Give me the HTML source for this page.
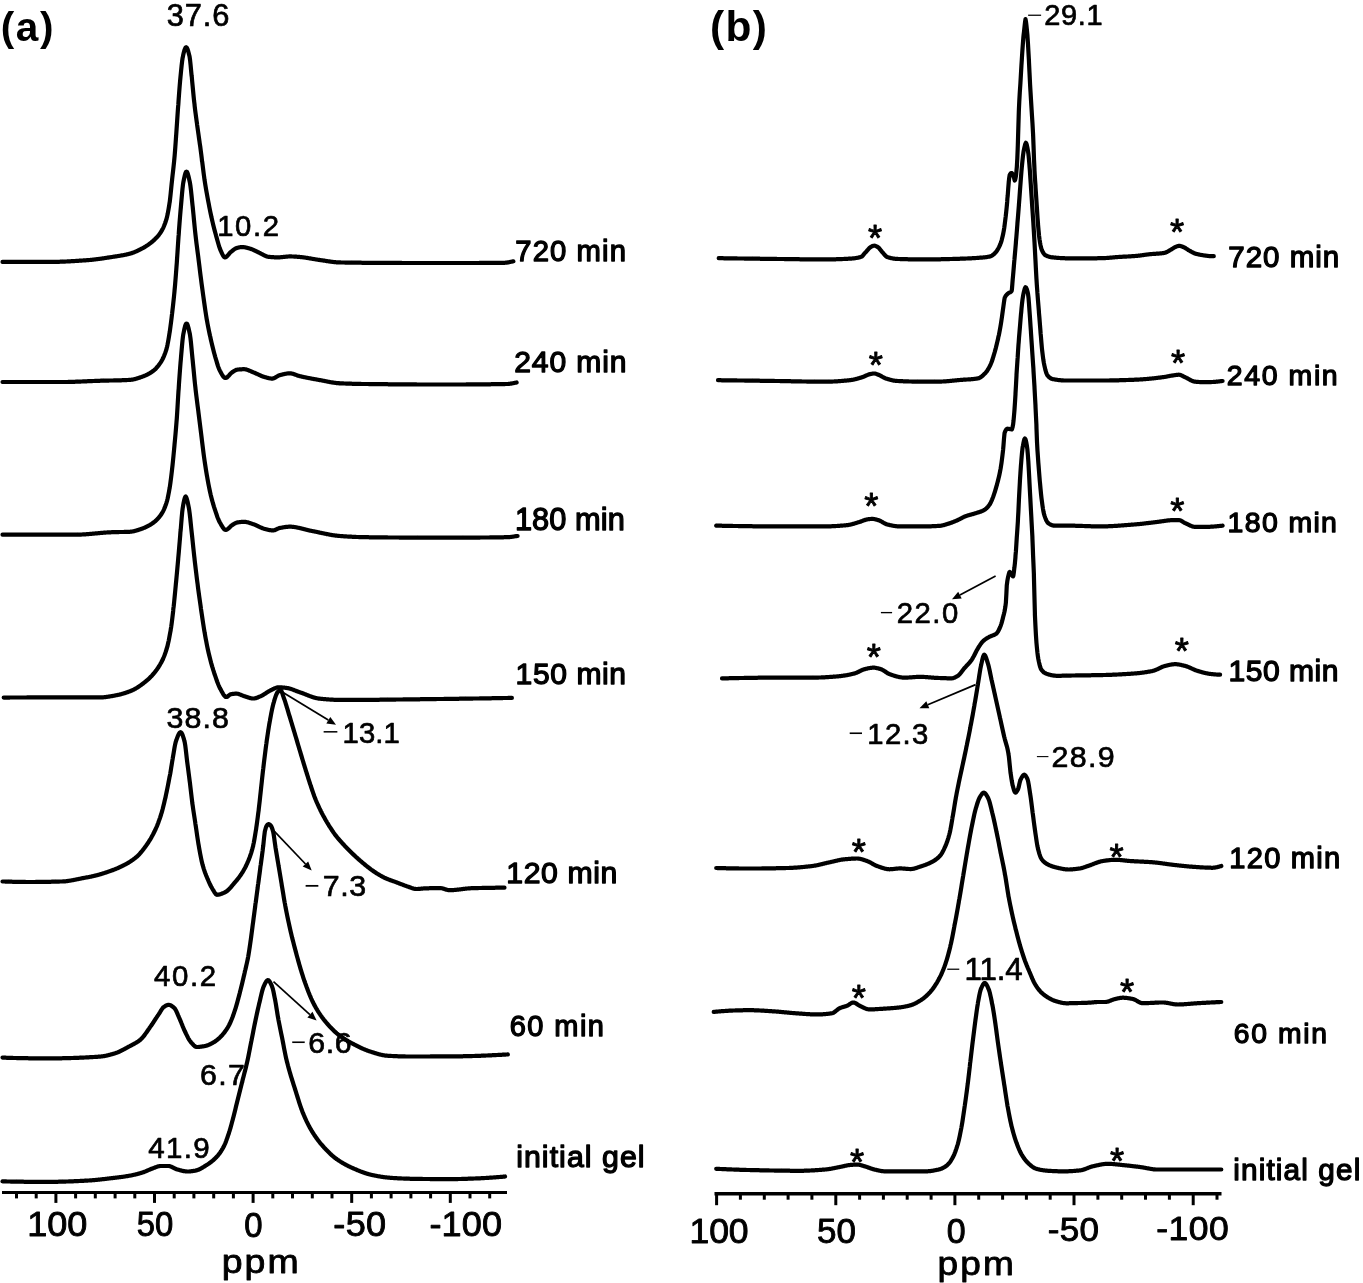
<!DOCTYPE html>
<html><head><meta charset="utf-8"><title>NMR spectra</title>
<style>
html,body{margin:0;padding:0;background:#fff}
svg{display:block}
text{font-family:"Liberation Sans",Arial,Helvetica,sans-serif;fill:#000}
.c{fill:none;stroke:#000;stroke-width:4.2;stroke-linejoin:round;stroke-linecap:round}
.t{paint-order:stroke;stroke:#000;stroke-linejoin:round}
</style></head><body>
<svg width="1363" height="1283" viewBox="0 0 1363 1283">
<rect width="1363" height="1283" fill="#fff"/>
<path class="c" d="M2.5,261.9 L3.0,261.9 L3.5,261.9 L4.0,261.9 L4.5,261.9 L5.0,261.9 L5.5,261.9 L6.0,261.9 L6.5,261.9 L7.0,261.9 L7.5,261.9 L8.0,261.9 L8.5,261.9 L9.0,261.9 L9.5,261.9 L10.0,261.9 L10.5,261.9 L11.0,261.9 L11.5,261.9 L12.0,261.9 L12.5,261.9 L13.0,261.9 L13.5,261.9 L14.0,261.9 L14.5,261.9 L15.0,261.9 L15.5,261.9 L16.0,261.9 L16.5,261.9 L17.0,261.9 L17.5,261.9 L18.0,261.9 L18.5,261.9 L19.0,261.9 L19.5,261.9 L20.0,261.9 L20.5,261.9 L21.0,261.9 L21.5,261.9 L22.0,261.9 L22.5,261.9 L23.0,261.9 L23.5,261.9 L24.0,261.9 L24.5,261.9 L25.0,261.9 L25.5,261.9 L26.0,261.9 L26.5,261.9 L27.0,261.9 L27.5,261.9 L28.0,261.9 L28.5,261.9 L29.0,261.9 L29.5,261.9 L30.0,261.9 L30.5,261.9 L31.0,261.9 L31.5,261.9 L32.0,261.9 L32.5,261.9 L33.0,261.9 L33.5,261.9 L34.0,261.9 L34.5,261.9 L35.0,261.9 L35.5,261.9 L36.0,261.9 L36.5,261.9 L37.0,261.9 L37.5,261.9 L38.0,261.9 L38.5,261.9 L39.0,261.9 L39.5,261.9 L40.0,261.9 L40.5,261.9 L41.0,261.9 L41.5,261.9 L42.0,261.9 L42.5,261.9 L43.0,261.9 L43.5,261.9 L44.0,261.9 L44.5,261.9 L45.0,261.9 L45.5,261.9 L46.0,261.9 L46.5,261.9 L47.0,261.9 L47.5,261.9 L48.0,261.9 L48.5,261.9 L49.0,261.9 L49.5,261.9 L49.9,261.9 L50.0,261.9 L50.5,261.9 L51.0,261.9 L51.5,261.9 L52.0,261.9 L52.5,261.9 L53.0,261.9 L53.5,261.9 L54.0,261.9 L54.5,261.9 L55.0,261.9 L55.5,261.9 L56.0,261.9 L56.5,261.8 L57.0,261.8 L57.5,261.8 L58.0,261.8 L58.5,261.8 L59.0,261.8 L59.5,261.8 L60.0,261.7 L60.5,261.7 L61.0,261.7 L61.5,261.7 L62.0,261.7 L62.5,261.7 L63.0,261.6 L63.5,261.6 L64.0,261.6 L64.5,261.6 L65.0,261.6 L65.5,261.5 L66.0,261.5 L66.5,261.5 L67.0,261.5 L67.5,261.4 L68.0,261.4 L68.5,261.4 L69.0,261.4 L69.5,261.3 L70.0,261.3 L70.5,261.3 L71.0,261.2 L71.5,261.2 L72.0,261.2 L72.6,261.2 L73.1,261.1 L73.6,261.1 L74.1,261.1 L74.6,261.0 L75.1,261.0 L75.6,261.0 L76.1,260.9 L76.6,260.9 L77.1,260.9 L77.6,260.8 L78.1,260.8 L78.6,260.8 L79.1,260.7 L79.6,260.7 L80.1,260.7 L80.6,260.6 L81.1,260.6 L81.6,260.6 L82.1,260.5 L82.6,260.5 L83.1,260.5 L83.6,260.4 L84.1,260.4 L84.6,260.4 L85.1,260.3 L85.6,260.3 L86.1,260.3 L86.6,260.2 L87.1,260.2 L87.3,260.2 L87.6,260.2 L88.1,260.1 L88.6,260.1 L89.1,260.0 L89.6,260.0 L90.1,260.0 L90.6,259.9 L91.1,259.9 L91.6,259.8 L92.1,259.8 L92.6,259.7 L93.1,259.7 L93.6,259.6 L94.1,259.5 L94.6,259.5 L95.1,259.4 L95.6,259.4 L96.1,259.3 L96.6,259.2 L97.1,259.2 L97.6,259.1 L98.1,259.0 L98.6,259.0 L99.1,258.9 L99.6,258.8 L100.1,258.8 L100.6,258.7 L101.1,258.6 L101.6,258.6 L102.1,258.5 L102.6,258.4 L103.1,258.3 L103.6,258.3 L104.1,258.2 L104.6,258.1 L105.1,258.0 L105.6,258.0 L106.1,257.9 L106.6,257.8 L107.1,257.7 L107.6,257.7 L108.1,257.6 L108.6,257.5 L109.1,257.4 L109.6,257.3 L110.1,257.3 L110.6,257.2 L111.1,257.1 L111.6,257.0 L112.1,257.0 L112.3,256.9 L112.6,256.9 L113.1,256.8 L113.6,256.7 L114.1,256.7 L114.6,256.6 L115.1,256.5 L115.6,256.4 L116.1,256.3 L116.6,256.3 L117.1,256.2 L117.6,256.1 L118.1,256.0 L118.6,256.0 L119.1,255.9 L119.6,255.8 L120.1,255.7 L120.6,255.6 L121.1,255.5 L121.6,255.4 L122.1,255.4 L122.6,255.3 L123.1,255.2 L123.6,255.1 L124.1,255.0 L124.6,254.9 L125.1,254.8 L125.6,254.7 L126.1,254.6 L126.6,254.5 L127.1,254.3 L127.6,254.2 L128.1,254.1 L128.6,254.0 L129.1,253.9 L129.6,253.7 L130.0,253.6 L130.1,253.6 L130.6,253.5 L131.1,253.3 L131.6,253.2 L132.1,253.0 L132.6,252.8 L133.1,252.6 L133.6,252.5 L134.1,252.3 L134.6,252.1 L135.1,251.9 L135.6,251.6 L136.1,251.4 L136.6,251.2 L137.1,251.0 L137.6,250.7 L138.1,250.5 L138.6,250.3 L139.1,250.0 L139.6,249.8 L140.1,249.5 L140.6,249.3 L141.1,249.0 L141.2,248.9 L141.6,248.8 L142.1,248.5 L142.6,248.2 L143.1,247.9 L143.6,247.7 L144.1,247.4 L144.6,247.1 L145.1,246.8 L145.6,246.5 L146.1,246.1 L146.6,245.8 L147.1,245.5 L147.6,245.2 L148.1,244.8 L148.6,244.5 L149.1,244.1 L149.6,243.7 L150.1,243.3 L150.6,243.0 L151.1,242.6 L151.6,242.2 L152.1,241.7 L152.5,241.5 L152.6,241.3 L153.1,240.9 L153.6,240.5 L154.1,240.0 L154.6,239.6 L155.1,239.1 L155.6,238.6 L156.1,238.1 L156.6,237.6 L157.1,237.0 L157.6,236.5 L158.1,235.9 L158.6,235.3 L159.1,234.6 L159.6,233.9 L160.1,233.2 L160.6,232.5 L160.9,232.1 L161.1,231.7 L161.6,230.9 L162.1,230.0 L162.6,229.1 L163.1,228.1 L163.6,227.0 L164.1,225.8 L164.6,224.5 L165.1,223.2 L165.6,221.8 L166.1,220.2 L166.5,219.0 L166.6,218.5 L167.1,216.6 L167.6,214.3 L168.1,211.7 L168.6,208.9 L169.1,205.8 L169.6,202.5 L169.7,202.2 L170.1,198.7 L170.6,194.2 L171.1,189.3 L171.6,184.3 L172.1,179.7 L172.1,179.5 L172.6,175.0 L173.1,170.7 L173.6,166.3 L174.1,161.5 L174.5,157.3 L174.6,156.2 L175.1,150.0 L175.6,143.1 L176.1,136.0 L176.2,134.8 L176.6,128.9 L177.1,121.5 L177.6,114.0 L178.1,106.9 L178.3,104.9 L178.6,100.1 L179.1,93.4 L179.6,86.9 L180.1,81.0 L180.5,76.8 L180.6,75.7 L181.1,70.6 L181.6,65.7 L182.1,61.4 L182.6,57.9 L183.0,56.2 L183.1,55.4 L183.6,53.3 L184.1,51.4 L184.6,49.7 L185.1,48.4 L185.6,47.5 L186.1,47.2 L186.6,47.5 L187.1,48.2 L187.6,49.4 L188.1,50.9 L188.6,52.7 L189.1,54.7 L189.5,56.2 L189.6,56.8 L190.1,60.4 L190.6,65.1 L191.1,70.5 L191.6,75.7 L191.8,76.8 L192.1,80.6 L192.6,85.8 L193.1,91.0 L193.6,96.2 L194.1,101.1 L194.6,104.9 L194.6,105.6 L195.1,109.7 L195.6,113.6 L196.1,117.3 L196.6,121.0 L197.0,123.6 L197.1,124.7 L197.6,128.3 L198.1,131.8 L198.6,135.3 L199.1,138.9 L199.6,142.3 L199.6,142.5 L200.2,146.3 L200.7,150.2 L201.2,154.0 L201.7,157.9 L202.0,161.0 L202.2,161.8 L202.7,165.8 L203.2,169.8 L203.7,173.7 L204.2,177.4 L204.5,179.7 L204.7,180.9 L205.2,184.1 L205.7,187.1 L206.2,190.1 L206.7,192.9 L207.2,195.7 L207.7,198.4 L207.7,198.4 L208.2,201.1 L208.7,203.7 L209.2,206.3 L209.7,208.8 L210.2,211.3 L210.7,213.7 L211.2,216.0 L211.4,217.1 L211.7,218.3 L212.2,220.4 L212.7,222.6 L213.2,224.7 L213.7,226.7 L214.2,228.7 L214.7,230.6 L215.2,232.5 L215.7,234.3 L216.1,235.8 L216.2,236.1 L216.7,237.9 L217.2,239.7 L217.7,241.5 L218.2,243.3 L218.7,245.0 L219.2,246.6 L219.7,248.1 L220.2,249.4 L220.7,250.6 L220.8,250.8 L221.2,251.7 L221.7,252.8 L222.2,253.9 L222.7,254.9 L223.2,255.8 L223.7,256.5 L224.2,257.1 L224.7,257.3 L224.9,257.4 L225.2,257.3 L225.7,257.2 L226.2,256.9 L226.7,256.5 L227.2,256.0 L227.7,255.5 L228.2,254.9 L228.7,254.3 L229.2,253.7 L229.7,253.1 L230.2,252.6 L230.7,252.1 L231.1,251.8 L231.2,251.7 L231.7,251.3 L232.2,250.9 L232.7,250.5 L233.2,250.1 L233.7,249.7 L234.2,249.3 L234.7,249.0 L235.2,248.7 L235.7,248.4 L236.2,248.2 L236.7,248.0 L236.7,248.0 L237.2,247.9 L237.7,247.8 L238.2,247.6 L238.7,247.5 L239.2,247.4 L239.7,247.3 L240.2,247.2 L240.7,247.2 L241.2,247.1 L241.7,247.1 L242.2,247.1 L242.3,247.1 L242.7,247.1 L243.2,247.1 L243.7,247.2 L244.2,247.2 L244.7,247.3 L245.2,247.4 L245.7,247.5 L246.2,247.6 L246.7,247.7 L247.2,247.9 L247.7,248.0 L248.2,248.1 L248.7,248.3 L249.2,248.4 L249.7,248.6 L249.8,248.6 L250.2,248.7 L250.7,248.9 L251.2,249.0 L251.7,249.2 L252.2,249.4 L252.7,249.6 L253.2,249.8 L253.7,250.1 L254.2,250.3 L254.7,250.6 L255.2,250.8 L255.7,251.0 L256.2,251.3 L256.7,251.5 L257.2,251.8 L257.7,252.0 L258.2,252.3 L258.7,252.5 L259.1,252.7 L259.2,252.7 L259.7,253.0 L260.2,253.2 L260.7,253.5 L261.2,253.7 L261.7,254.0 L262.2,254.3 L262.7,254.5 L263.2,254.8 L263.7,255.1 L264.2,255.3 L264.7,255.6 L265.2,255.8 L265.7,256.0 L266.2,256.2 L266.7,256.4 L267.2,256.6 L267.7,256.7 L268.2,256.8 L268.5,256.8 L268.7,256.8 L269.2,256.9 L269.7,256.9 L270.2,257.0 L270.7,257.0 L271.2,257.1 L271.7,257.1 L272.2,257.1 L272.7,257.2 L273.2,257.2 L273.7,257.2 L274.2,257.3 L274.7,257.3 L275.2,257.3 L275.7,257.3 L276.2,257.3 L276.7,257.4 L277.2,257.4 L277.7,257.4 L277.8,257.4 L278.2,257.4 L278.7,257.4 L279.2,257.3 L279.7,257.3 L280.2,257.3 L280.7,257.2 L281.2,257.2 L281.7,257.1 L282.2,257.1 L282.7,257.0 L283.2,257.0 L283.7,256.9 L284.2,256.9 L284.7,256.8 L285.2,256.8 L285.7,256.7 L286.2,256.6 L286.7,256.6 L287.2,256.6 L287.7,256.5 L288.2,256.5 L288.7,256.5 L289.2,256.4 L289.7,256.4 L290.0,256.4 L290.2,256.4 L290.7,256.4 L291.2,256.4 L291.7,256.5 L292.2,256.5 L292.7,256.5 L293.2,256.5 L293.7,256.5 L294.2,256.6 L294.7,256.6 L295.2,256.6 L295.7,256.7 L296.2,256.7 L296.7,256.7 L297.2,256.8 L297.7,256.8 L298.2,256.8 L298.7,256.9 L299.2,256.9 L299.3,256.9 L299.7,257.0 L300.2,257.0 L300.7,257.1 L301.2,257.1 L301.7,257.2 L302.2,257.2 L302.7,257.3 L303.2,257.3 L303.7,257.4 L304.2,257.5 L304.7,257.5 L305.2,257.6 L305.7,257.7 L306.2,257.8 L306.7,257.8 L307.2,257.9 L307.7,258.0 L308.2,258.1 L308.7,258.2 L309.2,258.3 L309.7,258.3 L310.2,258.4 L310.7,258.5 L311.2,258.6 L311.7,258.7 L312.2,258.8 L312.7,258.9 L313.2,259.0 L313.7,259.0 L314.2,259.1 L314.7,259.2 L315.2,259.3 L315.7,259.4 L316.2,259.5 L316.7,259.5 L317.2,259.6 L317.7,259.7 L318.2,259.8 L318.7,259.8 L319.2,259.9 L319.3,259.9 L319.7,260.0 L320.2,260.1 L320.7,260.1 L321.2,260.2 L321.7,260.3 L322.2,260.4 L322.7,260.4 L323.2,260.5 L323.7,260.6 L324.2,260.7 L324.7,260.7 L325.2,260.8 L325.7,260.9 L326.2,261.0 L326.7,261.1 L327.2,261.1 L327.7,261.2 L328.2,261.3 L328.7,261.4 L329.2,261.4 L329.7,261.5 L330.2,261.6 L330.7,261.7 L331.2,261.7 L331.7,261.8 L332.2,261.9 L332.7,261.9 L333.2,262.0 L333.7,262.0 L334.2,262.1 L334.7,262.1 L335.2,262.2 L335.7,262.2 L336.2,262.3 L336.7,262.3 L337.2,262.3 L337.7,262.4 L338.2,262.4 L338.7,262.4 L339.2,262.4 L339.3,262.4 L339.7,262.4 L340.2,262.4 L340.7,262.5 L341.2,262.5 L341.7,262.5 L342.2,262.5 L342.7,262.5 L343.2,262.5 L343.7,262.5 L344.3,262.5 L344.8,262.5 L345.3,262.6 L345.8,262.6 L346.3,262.6 L346.8,262.6 L347.3,262.6 L347.8,262.6 L348.3,262.6 L348.8,262.6 L349.3,262.6 L349.8,262.6 L350.3,262.6 L350.8,262.6 L351.3,262.6 L351.8,262.7 L352.3,262.7 L352.8,262.7 L353.3,262.7 L353.8,262.7 L354.3,262.7 L354.8,262.7 L355.3,262.7 L355.8,262.7 L356.3,262.7 L356.8,262.7 L357.3,262.7 L357.8,262.7 L358.3,262.7 L358.8,262.7 L359.3,262.7 L359.8,262.7 L360.3,262.7 L360.8,262.7 L361.3,262.7 L361.8,262.8 L362.3,262.8 L362.8,262.8 L363.3,262.8 L363.8,262.8 L364.3,262.8 L364.8,262.8 L364.9,262.8 L365.3,262.8 L365.8,262.8 L366.3,262.8 L366.8,262.8 L367.3,262.8 L367.8,262.8 L368.3,262.8 L368.8,262.8 L369.3,262.8 L369.8,262.8 L370.3,262.8 L370.8,262.8 L371.3,262.8 L371.8,262.8 L372.3,262.8 L372.8,262.8 L373.3,262.8 L373.8,262.8 L374.3,262.8 L374.8,262.8 L375.3,262.8 L375.8,262.8 L376.3,262.8 L376.8,262.8 L377.3,262.8 L377.8,262.8 L378.3,262.8 L378.8,262.9 L379.3,262.9 L379.8,262.9 L380.3,262.9 L380.8,262.9 L381.3,262.9 L381.8,262.9 L382.3,262.9 L382.8,262.9 L383.3,262.9 L383.8,262.9 L384.3,262.9 L384.8,262.9 L385.3,262.9 L385.8,262.9 L386.3,262.9 L386.8,262.9 L387.3,262.9 L387.8,262.9 L388.3,262.9 L388.8,262.9 L389.3,262.9 L389.8,262.9 L390.3,262.9 L390.8,262.9 L391.3,262.9 L391.8,262.9 L392.3,262.9 L392.8,262.9 L393.3,262.9 L393.8,262.9 L394.3,262.9 L394.8,262.9 L395.3,262.9 L395.8,262.9 L396.3,262.9 L396.8,262.9 L397.3,262.9 L397.8,262.9 L398.3,262.9 L398.8,262.9 L399.3,262.9 L399.8,262.9 L400.3,262.9 L400.8,262.9 L401.3,262.9 L401.8,263.0 L402.3,263.0 L402.8,263.0 L403.3,263.0 L403.8,263.0 L404.3,263.0 L404.8,263.0 L405.3,263.0 L405.8,263.0 L406.3,263.0 L406.8,263.0 L407.3,263.0 L407.8,263.0 L408.3,263.0 L408.8,263.0 L409.3,263.0 L409.8,263.0 L410.3,263.0 L410.8,263.0 L411.3,263.0 L411.8,263.0 L412.3,263.0 L412.8,263.0 L413.3,263.0 L413.8,263.0 L414.3,263.0 L414.8,263.0 L415.3,263.0 L415.8,263.0 L416.3,263.0 L416.8,263.0 L417.3,263.0 L417.8,263.0 L418.3,263.0 L418.8,263.0 L419.3,263.0 L419.8,263.0 L420.3,263.0 L420.8,263.0 L421.3,263.0 L421.8,263.0 L422.3,263.0 L422.8,263.0 L423.3,263.0 L423.8,263.0 L424.3,263.0 L424.8,263.0 L425.3,263.0 L425.8,263.0 L426.3,263.0 L426.8,263.0 L427.3,263.0 L427.8,263.0 L428.3,263.0 L428.8,263.0 L429.3,263.0 L429.8,263.0 L430.3,263.0 L430.8,263.0 L431.3,263.0 L431.8,263.0 L432.3,263.0 L432.8,263.0 L433.3,263.0 L433.8,263.0 L434.3,263.0 L434.8,263.0 L435.3,263.0 L435.8,263.0 L436.3,263.0 L436.8,263.0 L437.3,263.0 L437.8,263.0 L438.3,263.0 L438.8,263.0 L439.3,263.0 L439.8,263.0 L439.8,263.0 L440.3,263.0 L440.8,263.0 L441.3,263.0 L441.8,263.0 L442.3,263.0 L442.8,263.0 L443.3,263.0 L443.8,263.0 L444.3,263.0 L444.8,263.0 L445.3,263.0 L445.8,263.0 L446.3,263.0 L446.8,263.0 L447.3,263.0 L447.8,263.0 L448.3,263.0 L448.8,263.0 L449.3,263.0 L449.8,263.0 L450.3,263.0 L450.8,263.0 L451.3,263.0 L451.8,263.0 L452.3,263.0 L452.8,263.0 L453.3,263.0 L453.8,263.0 L454.3,263.0 L454.8,263.0 L455.3,263.0 L455.8,263.0 L456.3,263.0 L456.8,263.0 L457.3,263.0 L457.8,263.0 L458.3,263.0 L458.8,263.0 L459.3,263.0 L459.8,263.0 L460.3,263.0 L460.8,263.0 L461.3,263.0 L461.8,263.0 L462.3,263.0 L462.8,263.0 L463.3,263.0 L463.8,263.0 L464.3,263.0 L464.8,263.0 L465.3,263.0 L465.8,263.0 L466.3,263.0 L466.8,263.0 L467.3,263.0 L467.8,263.0 L468.3,263.0 L468.8,263.0 L469.3,263.0 L469.8,263.0 L470.3,263.0 L470.8,263.0 L471.3,263.0 L471.8,263.0 L472.3,263.0 L472.8,263.0 L473.3,263.0 L473.8,263.0 L474.3,263.0 L474.8,263.0 L475.3,263.0 L475.8,263.0 L476.3,263.0 L476.8,263.0 L477.3,263.0 L477.8,263.0 L478.3,263.0 L478.8,263.0 L479.3,263.0 L479.8,262.9 L480.3,262.9 L480.8,262.9 L481.3,262.9 L481.8,262.9 L482.3,262.9 L482.8,262.9 L483.3,262.9 L483.8,262.9 L484.3,262.9 L484.8,262.9 L485.3,262.9 L485.8,262.9 L486.3,262.9 L486.8,262.9 L487.3,262.9 L487.8,262.9 L488.4,262.9 L488.9,262.9 L489.4,262.9 L489.9,262.9 L490.4,262.9 L490.9,262.9 L491.4,262.9 L491.9,262.9 L492.4,262.9 L492.9,262.9 L493.4,262.9 L493.9,262.9 L494.4,262.9 L494.9,262.9 L495.4,262.9 L495.9,262.9 L496.4,262.8 L496.9,262.8 L497.4,262.8 L497.9,262.8 L498.4,262.8 L498.9,262.8 L499.4,262.8 L499.9,262.8 L500.4,262.8 L500.9,262.8 L501.4,262.8 L501.9,262.8 L502.4,262.8 L502.9,262.8 L503.4,262.8 L503.9,262.8 L504.4,262.8 L504.6,262.8 L504.9,262.8 L505.4,262.7 L505.9,262.7 L506.4,262.7 L506.9,262.6 L507.4,262.5 L507.9,262.4 L508.4,262.4 L508.9,262.3 L509.4,262.1 L509.9,262.0 L510.4,261.9 L510.9,261.8 L511.4,261.7 L511.9,261.6 L512.4,261.5 L512.9,261.4 L513.4,261.3"/>
<path class="c" d="M2.5,382.0 L3.0,382.0 L3.5,382.0 L4.0,382.0 L4.5,382.0 L5.0,382.0 L5.5,382.0 L6.0,382.0 L6.5,382.0 L7.0,382.0 L7.5,382.0 L8.0,382.0 L8.5,382.0 L9.0,382.0 L9.5,382.0 L10.0,382.0 L10.5,382.0 L11.0,382.0 L11.5,382.0 L12.0,382.0 L12.5,382.0 L13.0,382.0 L13.5,382.0 L14.0,382.0 L14.5,382.0 L15.0,382.0 L15.5,382.0 L16.0,382.0 L16.5,382.0 L17.0,382.0 L17.5,382.0 L18.0,382.0 L18.5,382.0 L19.0,382.0 L19.5,382.0 L20.0,382.0 L20.5,382.0 L21.0,382.0 L21.5,382.0 L22.0,382.0 L22.5,382.0 L23.0,382.0 L23.5,382.0 L24.0,382.0 L24.5,382.0 L25.0,382.0 L25.5,382.0 L26.0,382.0 L26.5,382.0 L27.0,382.0 L27.5,382.0 L28.0,382.0 L28.5,382.0 L29.0,382.0 L29.5,382.0 L30.0,382.0 L30.5,382.0 L31.0,382.0 L31.5,382.0 L32.0,382.0 L32.5,382.0 L33.0,382.0 L33.5,382.0 L34.0,382.0 L34.5,382.0 L35.0,382.0 L35.5,382.0 L36.0,382.0 L36.5,382.0 L37.0,382.0 L37.5,382.0 L38.0,382.0 L38.5,382.0 L39.0,382.0 L39.5,382.0 L40.0,382.0 L40.5,382.0 L41.0,382.0 L41.5,382.0 L42.0,382.0 L42.5,382.0 L43.0,382.0 L43.5,382.0 L44.0,382.0 L44.5,382.0 L45.0,382.0 L45.5,382.0 L46.0,382.0 L46.5,382.0 L47.0,382.0 L47.5,382.0 L48.0,382.0 L48.5,382.0 L49.0,382.0 L49.5,382.0 L50.0,382.0 L50.5,382.0 L51.0,382.0 L51.5,382.0 L52.0,382.0 L52.5,382.0 L53.0,382.0 L53.5,382.0 L54.0,382.0 L54.5,382.0 L55.0,382.0 L55.5,382.0 L56.0,382.0 L56.5,382.0 L57.0,382.0 L57.5,382.0 L58.0,382.0 L58.5,382.0 L59.0,382.0 L59.5,382.0 L60.0,382.0 L60.5,382.0 L61.0,382.0 L61.5,382.0 L62.0,382.0 L62.4,382.0 L62.5,382.0 L63.0,382.0 L63.5,382.0 L64.0,382.0 L64.5,382.0 L65.0,382.0 L65.5,382.0 L66.0,382.0 L66.5,382.0 L67.0,382.0 L67.5,382.0 L68.0,382.0 L68.5,381.9 L69.0,381.9 L69.5,381.9 L70.0,381.9 L70.5,381.9 L71.0,381.9 L71.5,381.9 L72.0,381.9 L72.5,381.8 L73.0,381.8 L73.5,381.8 L74.0,381.8 L74.5,381.8 L75.0,381.8 L75.5,381.7 L76.0,381.7 L76.5,381.7 L77.0,381.7 L77.5,381.7 L78.0,381.7 L78.5,381.6 L79.0,381.6 L79.5,381.6 L80.0,381.6 L80.5,381.6 L81.0,381.5 L81.5,381.5 L82.0,381.5 L82.5,381.5 L83.0,381.4 L83.5,381.4 L84.0,381.4 L84.5,381.4 L85.0,381.4 L85.5,381.3 L86.0,381.3 L86.5,381.3 L87.0,381.3 L87.5,381.2 L88.0,381.2 L88.5,381.2 L89.0,381.2 L89.5,381.2 L90.0,381.1 L90.5,381.1 L91.0,381.1 L91.5,381.1 L92.0,381.1 L92.5,381.0 L93.0,381.0 L93.5,381.0 L94.0,381.0 L94.5,381.0 L95.0,380.9 L95.5,380.9 L96.0,380.9 L96.5,380.9 L97.0,380.9 L97.5,380.8 L98.0,380.8 L98.5,380.8 L99.0,380.8 L99.5,380.8 L99.8,380.8 L100.0,380.8 L100.5,380.7 L101.0,380.7 L101.5,380.7 L102.0,380.7 L102.5,380.7 L103.0,380.7 L103.5,380.7 L104.0,380.6 L104.5,380.6 L105.0,380.6 L105.5,380.6 L106.0,380.6 L106.5,380.6 L107.0,380.6 L107.5,380.6 L108.0,380.6 L108.5,380.6 L109.0,380.5 L109.5,380.5 L110.0,380.5 L110.5,380.5 L111.0,380.5 L111.5,380.5 L112.0,380.5 L112.5,380.5 L113.0,380.5 L113.5,380.5 L114.0,380.4 L114.5,380.4 L115.0,380.4 L115.5,380.4 L116.0,380.4 L116.5,380.4 L117.0,380.4 L117.5,380.4 L118.0,380.4 L118.5,380.3 L119.0,380.3 L119.5,380.3 L120.0,380.3 L120.5,380.3 L121.0,380.3 L121.5,380.3 L122.0,380.2 L122.5,380.2 L123.0,380.2 L123.5,380.2 L124.0,380.2 L124.5,380.2 L125.0,380.1 L125.5,380.1 L126.0,380.1 L126.5,380.1 L127.0,380.0 L127.5,380.0 L128.0,380.0 L128.5,380.0 L129.0,379.9 L129.5,379.9 L130.0,379.9 L130.0,379.9 L130.5,379.8 L131.0,379.8 L131.5,379.7 L132.0,379.7 L132.5,379.6 L133.0,379.5 L133.5,379.4 L134.0,379.3 L134.5,379.2 L135.0,379.0 L135.5,378.9 L136.0,378.8 L136.5,378.6 L137.0,378.5 L137.5,378.3 L138.0,378.1 L138.5,378.0 L139.0,377.8 L139.5,377.7 L140.0,377.5 L140.5,377.3 L141.0,377.1 L141.2,377.1 L141.5,377.0 L142.0,376.8 L142.5,376.6 L143.0,376.4 L143.5,376.3 L144.0,376.1 L144.5,375.8 L145.0,375.6 L145.5,375.4 L146.0,375.2 L146.5,374.9 L147.0,374.7 L147.5,374.5 L148.0,374.2 L148.5,373.9 L149.0,373.6 L149.5,373.4 L150.0,373.1 L150.5,372.8 L151.0,372.4 L151.5,372.1 L152.0,371.8 L152.5,371.5 L152.5,371.4 L153.0,371.1 L153.5,370.7 L154.0,370.3 L154.5,369.8 L155.0,369.4 L155.5,368.9 L156.0,368.4 L156.5,367.8 L157.0,367.3 L157.5,366.7 L158.0,366.1 L158.5,365.5 L159.0,364.8 L159.5,364.1 L160.0,363.4 L160.5,362.7 L160.9,362.1 L161.0,361.9 L161.5,361.1 L162.0,360.2 L162.5,359.3 L163.0,358.3 L163.5,357.2 L164.0,356.1 L164.5,354.8 L165.0,353.5 L165.5,352.1 L166.0,350.6 L166.5,349.0 L166.5,348.9 L167.0,347.0 L167.5,344.7 L168.0,342.1 L168.5,339.3 L169.0,336.3 L169.5,333.2 L169.7,332.2 L170.0,329.9 L170.5,326.3 L171.0,322.5 L171.5,318.4 L172.0,314.2 L172.1,313.5 L172.5,310.0 L173.0,305.7 L173.5,301.1 L174.0,296.4 L174.5,291.3 L174.5,291.0 L175.0,285.7 L175.5,279.7 L176.0,273.3 L176.5,266.6 L176.8,262.9 L177.0,259.7 L177.5,252.1 L178.0,244.3 L178.5,236.8 L178.7,234.9 L179.0,230.0 L179.5,223.5 L180.0,217.2 L180.5,211.2 L180.9,206.8 L181.0,205.5 L181.5,199.7 L182.0,194.0 L182.5,188.7 L183.0,184.5 L183.3,182.5 L183.5,181.5 L184.0,179.0 L184.5,176.7 L185.0,174.6 L185.5,173.0 L186.0,172.0 L186.5,171.6 L187.0,172.0 L187.5,173.0 L188.0,174.5 L188.5,176.3 L189.0,178.4 L189.5,180.7 L189.9,182.5 L190.0,183.1 L190.5,186.4 L191.0,190.5 L191.5,195.2 L192.0,200.2 L192.5,205.1 L192.7,206.8 L193.0,209.9 L193.5,214.9 L194.0,220.2 L194.5,225.4 L195.0,230.4 L195.5,234.9 L195.5,235.0 L196.0,239.3 L196.5,243.4 L197.0,247.3 L197.5,251.2 L198.0,255.0 L198.3,257.3 L198.5,259.0 L199.0,263.1 L199.5,267.1 L200.0,271.2 L200.5,275.2 L201.0,279.1 L201.1,279.8 L201.5,282.9 L202.0,286.6 L202.5,290.3 L203.0,294.0 L203.5,297.5 L203.9,300.4 L204.0,301.1 L204.5,304.6 L205.0,308.1 L205.5,311.5 L206.0,314.8 L206.5,317.9 L206.7,319.1 L207.0,320.7 L207.5,323.5 L208.0,326.1 L208.5,328.7 L209.0,331.1 L209.5,333.5 L210.0,335.8 L210.5,337.8 L210.5,338.0 L211.0,340.2 L211.5,342.4 L212.0,344.5 L212.5,346.6 L213.0,348.6 L213.5,350.6 L214.0,352.5 L214.5,354.3 L215.0,356.1 L215.1,356.5 L215.5,357.8 L216.0,359.5 L216.5,361.2 L217.0,362.9 L217.5,364.5 L218.0,366.1 L218.5,367.5 L219.0,368.8 L219.5,369.9 L219.8,370.5 L220.0,370.9 L220.5,371.8 L221.0,372.8 L221.5,373.7 L222.0,374.6 L222.5,375.4 L223.0,376.2 L223.5,376.8 L224.0,377.3 L224.5,377.7 L225.0,377.9 L225.4,378.0 L225.5,378.0 L226.0,377.9 L226.5,377.7 L227.0,377.4 L227.5,376.9 L228.0,376.5 L228.5,375.9 L229.0,375.4 L229.5,374.8 L230.0,374.2 L230.5,373.7 L231.0,373.2 L231.5,372.7 L232.0,372.4 L232.0,372.4 L232.5,372.1 L233.0,371.7 L233.5,371.4 L234.0,371.1 L234.5,370.8 L235.0,370.5 L235.5,370.2 L236.0,370.0 L236.5,369.8 L237.0,369.7 L237.5,369.6 L237.6,369.6 L238.0,369.5 L238.5,369.5 L239.0,369.5 L239.5,369.4 L240.0,369.4 L240.5,369.3 L241.0,369.3 L241.5,369.3 L242.0,369.3 L242.5,369.2 L243.0,369.2 L243.5,369.2 L244.0,369.2 L244.2,369.2 L244.5,369.2 L245.0,369.3 L245.5,369.3 L246.0,369.4 L246.5,369.6 L247.0,369.7 L247.5,369.9 L248.0,370.1 L248.5,370.2 L249.0,370.5 L249.5,370.7 L250.0,370.9 L250.5,371.1 L251.0,371.3 L251.5,371.6 L252.0,371.8 L252.5,372.0 L253.0,372.2 L253.5,372.4 L253.5,372.4 L254.0,372.6 L254.5,372.8 L255.0,373.0 L255.5,373.2 L256.0,373.5 L256.5,373.7 L257.0,373.9 L257.5,374.1 L258.0,374.4 L258.5,374.6 L259.0,374.8 L259.5,375.1 L260.0,375.3 L260.5,375.5 L261.0,375.8 L261.5,376.0 L262.0,376.2 L262.5,376.4 L263.0,376.5 L263.5,376.7 L264.0,376.9 L264.5,377.0 L264.7,377.1 L265.0,377.2 L265.5,377.3 L266.0,377.4 L266.5,377.6 L267.0,377.7 L267.5,377.8 L268.0,378.0 L268.5,378.1 L269.0,378.2 L269.5,378.3 L270.0,378.4 L270.5,378.5 L271.0,378.5 L271.5,378.6 L272.0,378.6 L272.2,378.6 L272.5,378.6 L273.0,378.5 L273.5,378.3 L274.0,378.2 L274.5,377.9 L275.0,377.7 L275.5,377.4 L276.0,377.1 L276.5,376.8 L277.0,376.5 L277.5,376.2 L278.0,375.9 L278.5,375.6 L279.0,375.4 L279.5,375.3 L279.7,375.2 L280.0,375.1 L280.5,375.0 L281.0,374.9 L281.5,374.7 L282.0,374.6 L282.5,374.5 L283.0,374.3 L283.5,374.2 L284.0,374.1 L284.5,374.0 L285.0,373.9 L285.5,373.8 L286.0,373.7 L286.5,373.6 L287.0,373.5 L287.5,373.5 L288.0,373.4 L288.5,373.4 L289.0,373.4 L289.5,373.3 L290.0,373.3 L290.0,373.3 L290.5,373.4 L291.0,373.4 L291.5,373.5 L292.0,373.6 L292.5,373.7 L293.0,373.8 L293.5,374.0 L294.0,374.2 L294.5,374.4 L295.0,374.5 L295.5,374.7 L296.0,374.9 L296.5,375.1 L297.0,375.3 L297.5,375.5 L298.0,375.7 L298.5,375.8 L299.0,375.9 L299.3,376.0 L299.5,376.1 L300.0,376.2 L300.5,376.3 L301.0,376.4 L301.5,376.5 L302.0,376.7 L302.5,376.8 L303.0,376.9 L303.5,377.0 L304.0,377.1 L304.5,377.2 L305.0,377.3 L305.5,377.4 L306.0,377.5 L306.5,377.6 L307.0,377.7 L307.5,377.8 L308.0,377.9 L308.6,378.0 L309.1,378.1 L309.6,378.2 L310.1,378.3 L310.6,378.4 L311.1,378.5 L311.6,378.6 L312.1,378.7 L312.6,378.8 L313.1,378.9 L313.6,379.0 L314.1,379.1 L314.6,379.2 L315.1,379.2 L315.6,379.3 L316.1,379.4 L316.6,379.5 L317.1,379.6 L317.6,379.7 L318.1,379.8 L318.6,379.9 L319.1,380.0 L319.3,380.0 L319.6,380.1 L320.1,380.2 L320.6,380.2 L321.1,380.3 L321.6,380.4 L322.1,380.5 L322.6,380.6 L323.1,380.7 L323.6,380.8 L324.1,380.9 L324.6,381.0 L325.1,381.1 L325.6,381.2 L326.1,381.3 L326.6,381.4 L327.1,381.5 L327.6,381.6 L328.1,381.7 L328.6,381.8 L329.1,381.9 L329.6,382.0 L330.1,382.1 L330.6,382.2 L331.1,382.3 L331.6,382.4 L332.1,382.4 L332.6,382.5 L333.1,382.6 L333.6,382.7 L334.1,382.7 L334.6,382.8 L335.1,382.9 L335.6,382.9 L336.1,383.0 L336.6,383.1 L337.1,383.1 L337.6,383.1 L338.1,383.2 L338.6,383.2 L339.1,383.2 L339.3,383.3 L339.6,383.3 L340.1,383.3 L340.6,383.3 L341.1,383.3 L341.6,383.4 L342.1,383.4 L342.6,383.4 L343.1,383.4 L343.6,383.5 L344.1,383.5 L344.6,383.5 L345.1,383.5 L345.6,383.5 L346.1,383.6 L346.6,383.6 L347.1,383.6 L347.6,383.6 L348.1,383.6 L348.6,383.6 L349.1,383.7 L349.6,383.7 L350.1,383.7 L350.6,383.7 L351.1,383.7 L351.6,383.7 L352.1,383.8 L352.6,383.8 L353.1,383.8 L353.6,383.8 L354.1,383.8 L354.6,383.8 L355.1,383.8 L355.6,383.8 L356.1,383.9 L356.6,383.9 L357.1,383.9 L357.6,383.9 L358.1,383.9 L358.6,383.9 L359.1,383.9 L359.6,383.9 L360.1,383.9 L360.6,383.9 L361.1,384.0 L361.6,384.0 L362.1,384.0 L362.6,384.0 L363.1,384.0 L363.6,384.0 L364.1,384.0 L364.6,384.0 L364.9,384.0 L365.1,384.0 L365.6,384.0 L366.1,384.0 L366.6,384.0 L367.1,384.0 L367.6,384.0 L368.1,384.0 L368.6,384.0 L369.1,384.1 L369.6,384.1 L370.1,384.1 L370.6,384.1 L371.1,384.1 L371.6,384.1 L372.1,384.1 L372.6,384.1 L373.1,384.1 L373.6,384.1 L374.1,384.1 L374.6,384.1 L375.1,384.1 L375.6,384.1 L376.1,384.1 L376.6,384.1 L377.1,384.1 L377.6,384.1 L378.1,384.2 L378.6,384.2 L379.1,384.2 L379.6,384.2 L380.1,384.2 L380.6,384.2 L381.1,384.2 L381.6,384.2 L382.1,384.2 L382.6,384.2 L383.1,384.2 L383.6,384.2 L384.1,384.2 L384.6,384.2 L385.1,384.2 L385.6,384.2 L386.1,384.2 L386.6,384.2 L387.1,384.2 L387.6,384.2 L388.1,384.3 L388.6,384.3 L389.1,384.3 L389.6,384.3 L390.1,384.3 L390.6,384.3 L391.1,384.3 L391.6,384.3 L392.1,384.3 L392.6,384.3 L393.1,384.3 L393.6,384.3 L394.1,384.3 L394.6,384.3 L395.1,384.3 L395.6,384.3 L396.1,384.3 L396.6,384.3 L397.1,384.3 L397.6,384.3 L398.1,384.3 L398.6,384.3 L399.1,384.3 L399.6,384.3 L400.1,384.4 L400.6,384.4 L401.1,384.4 L401.6,384.4 L402.1,384.4 L402.6,384.4 L403.1,384.4 L403.6,384.4 L404.1,384.4 L404.6,384.4 L405.1,384.4 L405.6,384.4 L406.1,384.4 L406.6,384.4 L407.1,384.4 L407.6,384.4 L408.1,384.4 L408.6,384.4 L409.1,384.4 L409.6,384.4 L410.1,384.4 L410.6,384.4 L411.1,384.4 L411.6,384.4 L412.1,384.4 L412.6,384.4 L413.1,384.4 L413.6,384.4 L414.1,384.4 L414.6,384.4 L415.1,384.4 L415.6,384.4 L416.1,384.4 L416.6,384.5 L417.1,384.5 L417.6,384.5 L418.1,384.5 L418.6,384.5 L419.1,384.5 L419.6,384.5 L420.1,384.5 L420.6,384.5 L421.1,384.5 L421.6,384.5 L422.1,384.5 L422.6,384.5 L423.1,384.5 L423.6,384.5 L424.1,384.5 L424.6,384.5 L425.1,384.5 L425.6,384.5 L426.1,384.5 L426.6,384.5 L427.1,384.5 L427.6,384.5 L428.1,384.5 L428.6,384.5 L429.1,384.5 L429.6,384.5 L430.1,384.5 L430.6,384.5 L431.1,384.5 L431.6,384.5 L432.1,384.5 L432.6,384.5 L433.1,384.5 L433.6,384.5 L434.1,384.5 L434.6,384.5 L435.1,384.5 L435.6,384.5 L436.1,384.5 L436.6,384.5 L437.1,384.5 L437.6,384.5 L438.1,384.5 L438.6,384.5 L439.1,384.5 L439.6,384.5 L439.8,384.5 L440.1,384.5 L440.6,384.5 L441.1,384.5 L441.6,384.5 L442.1,384.5 L442.6,384.5 L443.1,384.5 L443.6,384.5 L444.1,384.5 L444.6,384.5 L445.1,384.5 L445.6,384.5 L446.1,384.5 L446.6,384.5 L447.1,384.5 L447.6,384.5 L448.1,384.5 L448.6,384.5 L449.1,384.5 L449.6,384.5 L450.1,384.5 L450.6,384.5 L451.1,384.5 L451.6,384.5 L452.1,384.5 L452.6,384.5 L453.1,384.5 L453.6,384.5 L454.1,384.5 L454.6,384.5 L455.1,384.5 L455.6,384.5 L456.1,384.5 L456.6,384.5 L457.1,384.5 L457.6,384.5 L458.1,384.5 L458.6,384.5 L459.1,384.5 L459.6,384.5 L460.1,384.5 L460.6,384.5 L461.1,384.5 L461.6,384.5 L462.1,384.5 L462.6,384.5 L463.1,384.5 L463.6,384.5 L464.1,384.5 L464.6,384.5 L465.1,384.5 L465.6,384.5 L466.1,384.5 L466.6,384.4 L467.1,384.4 L467.6,384.4 L468.1,384.4 L468.6,384.4 L469.1,384.4 L469.6,384.4 L470.1,384.4 L470.6,384.4 L471.1,384.4 L471.6,384.4 L472.1,384.4 L472.6,384.4 L473.1,384.4 L473.6,384.4 L474.1,384.4 L474.6,384.4 L475.1,384.4 L475.6,384.4 L476.1,384.4 L476.6,384.4 L477.1,384.4 L477.6,384.4 L478.1,384.4 L478.6,384.4 L479.1,384.4 L479.6,384.4 L480.1,384.4 L480.6,384.4 L481.1,384.4 L481.6,384.3 L482.1,384.3 L482.6,384.3 L483.1,384.3 L483.6,384.3 L484.1,384.3 L484.6,384.3 L485.1,384.3 L485.6,384.3 L486.1,384.3 L486.6,384.3 L487.1,384.3 L487.6,384.3 L488.1,384.3 L488.6,384.3 L489.1,384.3 L489.6,384.3 L490.1,384.3 L490.6,384.3 L491.1,384.2 L491.6,384.2 L492.1,384.2 L492.6,384.2 L493.1,384.2 L493.6,384.2 L494.1,384.2 L494.6,384.2 L495.1,384.2 L495.6,384.2 L496.1,384.2 L496.6,384.2 L497.1,384.2 L497.6,384.2 L498.1,384.2 L498.6,384.1 L499.1,384.1 L499.6,384.1 L500.1,384.1 L500.6,384.1 L501.1,384.1 L501.6,384.1 L502.1,384.1 L502.6,384.1 L503.1,384.1 L503.6,384.1 L504.1,384.1 L504.6,384.1 L505.1,384.0 L505.6,384.0 L506.1,384.0 L506.6,384.0 L507.1,384.0 L507.1,384.0 L507.6,384.0 L508.1,384.0 L508.6,383.9 L509.1,383.9 L509.6,383.8 L510.1,383.7 L510.6,383.7 L511.1,383.6 L511.6,383.5 L512.1,383.4 L512.6,383.3 L513.1,383.2 L513.6,383.1 L514.1,383.0 L514.6,382.9 L515.1,382.8 L515.6,382.7 L516.1,382.6 L516.6,382.5"/>
<path class="c" d="M2.5,534.7 L3.0,534.7 L3.5,534.7 L4.0,534.7 L4.5,534.7 L5.0,534.7 L5.5,534.7 L6.0,534.7 L6.5,534.7 L7.0,534.7 L7.5,534.7 L8.0,534.7 L8.5,534.7 L9.0,534.7 L9.5,534.7 L10.0,534.7 L10.5,534.7 L11.0,534.7 L11.5,534.7 L12.0,534.7 L12.5,534.7 L13.0,534.7 L13.5,534.7 L14.0,534.7 L14.5,534.7 L15.0,534.7 L15.5,534.7 L16.0,534.7 L16.5,534.7 L17.0,534.7 L17.5,534.7 L18.0,534.7 L18.5,534.7 L19.0,534.7 L19.5,534.7 L20.0,534.7 L20.5,534.7 L21.0,534.7 L21.5,534.7 L22.0,534.7 L22.5,534.7 L23.0,534.7 L23.5,534.7 L24.0,534.7 L24.5,534.7 L25.0,534.7 L25.5,534.7 L26.0,534.7 L26.5,534.7 L27.0,534.7 L27.5,534.7 L28.0,534.7 L28.5,534.7 L29.0,534.7 L29.5,534.7 L30.0,534.7 L30.5,534.7 L31.0,534.7 L31.5,534.7 L32.0,534.7 L32.5,534.7 L33.0,534.7 L33.5,534.7 L34.0,534.7 L34.5,534.7 L35.0,534.7 L35.5,534.7 L36.0,534.7 L36.5,534.7 L37.0,534.7 L37.5,534.7 L38.0,534.7 L38.5,534.7 L39.0,534.7 L39.5,534.7 L40.0,534.7 L40.5,534.7 L41.0,534.7 L41.5,534.7 L42.0,534.7 L42.5,534.7 L43.0,534.7 L43.5,534.7 L44.0,534.7 L44.5,534.7 L45.0,534.7 L45.5,534.7 L46.0,534.7 L46.5,534.7 L47.0,534.7 L47.5,534.7 L48.0,534.7 L48.5,534.7 L49.0,534.7 L49.5,534.7 L50.0,534.7 L50.5,534.7 L51.0,534.7 L51.5,534.7 L52.0,534.7 L52.5,534.7 L53.0,534.7 L53.5,534.7 L54.0,534.7 L54.5,534.7 L55.0,534.7 L55.5,534.7 L56.0,534.7 L56.5,534.7 L57.0,534.7 L57.5,534.7 L58.0,534.7 L58.5,534.7 L59.0,534.7 L59.5,534.7 L60.0,534.7 L60.5,534.7 L61.0,534.7 L61.5,534.7 L62.0,534.7 L62.5,534.7 L63.0,534.7 L63.5,534.7 L64.0,534.7 L64.5,534.7 L65.0,534.7 L65.5,534.7 L66.0,534.7 L66.5,534.7 L67.0,534.7 L67.5,534.7 L68.0,534.7 L68.5,534.7 L69.0,534.7 L69.5,534.7 L70.0,534.7 L70.5,534.7 L71.0,534.7 L71.5,534.7 L72.0,534.7 L72.5,534.7 L73.0,534.7 L73.5,534.7 L74.0,534.7 L74.5,534.7 L74.8,534.7 L75.0,534.7 L75.5,534.7 L76.0,534.7 L76.5,534.7 L77.0,534.7 L77.5,534.7 L78.0,534.7 L78.5,534.6 L79.0,534.6 L79.5,534.6 L80.0,534.6 L80.5,534.6 L81.0,534.6 L81.5,534.5 L82.0,534.5 L82.5,534.5 L83.0,534.4 L83.5,534.4 L84.0,534.4 L84.5,534.4 L85.0,534.3 L85.5,534.3 L86.0,534.3 L86.5,534.2 L87.0,534.2 L87.5,534.1 L88.0,534.1 L88.5,534.1 L89.0,534.0 L89.5,534.0 L90.0,533.9 L90.5,533.9 L91.0,533.8 L91.5,533.8 L92.0,533.8 L92.5,533.7 L93.0,533.7 L93.5,533.6 L94.0,533.6 L94.5,533.5 L95.0,533.5 L95.5,533.4 L96.0,533.4 L96.5,533.3 L97.0,533.3 L97.5,533.3 L98.0,533.2 L98.5,533.2 L99.0,533.1 L99.5,533.1 L100.0,533.0 L100.5,533.0 L101.0,532.9 L101.5,532.9 L102.0,532.9 L102.5,532.8 L103.0,532.8 L103.5,532.7 L104.0,532.7 L104.5,532.7 L105.0,532.6 L105.5,532.6 L106.0,532.5 L106.5,532.5 L107.0,532.5 L107.5,532.4 L108.0,532.4 L108.5,532.4 L109.0,532.4 L109.5,532.3 L110.0,532.3 L110.5,532.3 L111.0,532.3 L111.5,532.2 L112.0,532.2 L112.3,532.2 L112.5,532.2 L113.0,532.2 L113.5,532.2 L114.0,532.2 L114.5,532.1 L115.0,532.1 L115.5,532.1 L116.0,532.1 L116.5,532.1 L117.0,532.1 L117.5,532.1 L118.0,532.1 L118.5,532.1 L119.0,532.0 L119.5,532.0 L120.0,532.0 L120.5,532.0 L121.0,532.0 L121.5,532.0 L122.0,532.0 L122.5,532.0 L123.0,532.0 L123.5,532.0 L124.0,532.0 L124.5,531.9 L125.0,531.9 L125.5,531.9 L126.0,531.9 L126.5,531.9 L127.0,531.9 L127.5,531.9 L128.0,531.8 L128.5,531.8 L129.0,531.8 L129.5,531.8 L130.0,531.8 L130.0,531.8 L130.5,531.7 L131.0,531.7 L131.5,531.6 L132.0,531.5 L132.5,531.5 L133.0,531.4 L133.5,531.3 L134.0,531.2 L134.5,531.0 L135.0,530.9 L135.5,530.8 L136.0,530.6 L136.5,530.5 L137.0,530.3 L137.5,530.2 L138.0,530.0 L138.5,529.9 L139.0,529.7 L139.5,529.5 L140.0,529.4 L140.5,529.2 L141.0,529.0 L141.2,528.9 L141.5,528.9 L142.0,528.7 L142.5,528.5 L143.0,528.3 L143.5,528.1 L144.0,527.9 L144.5,527.7 L145.0,527.5 L145.5,527.3 L146.0,527.0 L146.5,526.8 L147.0,526.5 L147.5,526.3 L148.0,526.0 L148.5,525.8 L149.0,525.5 L149.5,525.2 L150.0,524.9 L150.5,524.6 L151.0,524.3 L151.5,524.0 L152.0,523.6 L152.5,523.3 L152.5,523.3 L153.0,522.9 L153.5,522.6 L154.0,522.2 L154.5,521.8 L155.0,521.4 L155.5,521.0 L156.0,520.5 L156.5,520.0 L157.0,519.5 L157.5,519.0 L158.0,518.5 L158.5,517.9 L159.0,517.3 L159.5,516.7 L160.0,516.1 L160.5,515.4 L160.9,514.9 L161.0,514.7 L161.5,514.0 L162.0,513.2 L162.5,512.3 L163.0,511.4 L163.5,510.4 L164.0,509.3 L164.5,508.1 L165.0,506.9 L165.5,505.6 L166.0,504.2 L166.5,502.7 L166.5,502.7 L167.0,501.0 L167.5,499.0 L168.0,496.7 L168.5,494.2 L169.0,491.6 L169.5,488.7 L169.7,487.8 L170.0,485.7 L170.5,482.1 L171.0,478.3 L171.5,474.2 L172.0,469.9 L172.1,469.1 L172.5,465.4 L173.0,460.6 L173.5,455.6 L174.0,450.4 L174.5,445.0 L174.5,444.7 L175.0,439.6 L175.5,434.1 L176.0,428.3 L176.5,422.1 L176.8,418.5 L177.0,415.3 L177.5,407.3 L178.0,398.8 L178.5,390.7 L178.7,388.6 L179.0,383.4 L179.5,376.4 L180.0,369.6 L180.5,363.2 L180.9,358.7 L181.0,357.3 L181.5,351.5 L182.0,345.7 L182.5,340.5 L183.0,336.3 L183.3,334.3 L183.5,333.4 L184.0,330.9 L184.5,328.5 L185.0,326.5 L185.5,324.9 L186.0,323.8 L186.5,323.5 L187.0,323.8 L187.5,324.8 L188.0,326.2 L188.5,328.1 L189.0,330.2 L189.5,332.5 L189.9,334.3 L190.0,335.0 L190.5,338.5 L191.0,343.0 L191.5,348.2 L192.0,353.6 L192.5,358.8 L192.7,360.5 L193.0,363.7 L193.5,368.8 L194.0,374.0 L194.5,379.2 L195.0,384.1 L195.5,388.6 L195.5,388.8 L196.0,393.1 L196.5,397.1 L197.0,401.0 L197.5,404.9 L198.0,408.8 L198.3,411.1 L198.5,412.8 L199.0,416.8 L199.5,420.8 L200.0,424.8 L200.5,428.8 L201.0,432.8 L201.1,433.5 L201.5,436.8 L202.0,440.9 L202.5,445.1 L203.0,449.1 L203.5,453.0 L203.9,456.0 L204.0,456.7 L204.5,460.2 L205.0,463.6 L205.5,466.9 L206.0,470.1 L206.5,473.2 L207.0,476.1 L207.1,476.5 L207.5,478.9 L208.0,481.7 L208.5,484.3 L209.0,486.9 L209.5,489.3 L210.0,491.7 L210.5,493.9 L210.8,495.3 L211.0,496.0 L211.5,498.0 L212.0,499.9 L212.5,501.7 L213.0,503.5 L213.5,505.1 L214.0,506.8 L214.5,508.3 L215.0,509.9 L215.1,510.2 L215.5,511.4 L216.0,512.9 L216.5,514.3 L217.0,515.8 L217.5,517.2 L218.0,518.5 L218.5,519.7 L219.0,520.8 L219.5,521.9 L219.8,522.4 L220.0,522.7 L220.5,523.6 L221.0,524.5 L221.5,525.4 L222.0,526.2 L222.5,527.0 L223.0,527.7 L223.5,528.4 L224.0,528.9 L224.5,529.4 L225.0,529.7 L225.5,529.9 L225.8,529.9 L226.0,529.9 L226.5,529.8 L227.0,529.5 L227.5,529.2 L228.0,528.8 L228.5,528.4 L229.0,527.9 L229.5,527.4 L230.0,526.9 L230.5,526.4 L231.0,525.9 L231.5,525.5 L232.0,525.2 L232.0,525.2 L232.5,524.9 L233.0,524.6 L233.5,524.2 L234.0,523.9 L234.5,523.6 L235.0,523.4 L235.5,523.1 L236.0,522.9 L236.5,522.7 L237.0,522.5 L237.5,522.4 L237.6,522.4 L238.0,522.3 L238.5,522.3 L239.0,522.2 L239.5,522.1 L240.0,522.1 L240.5,522.0 L241.0,522.0 L241.5,521.9 L242.0,521.9 L242.5,521.9 L243.0,521.9 L243.5,521.8 L244.0,521.8 L244.2,521.8 L244.5,521.8 L245.0,521.9 L245.5,521.9 L246.0,522.0 L246.5,522.1 L247.0,522.2 L247.5,522.3 L248.0,522.4 L248.5,522.6 L249.0,522.7 L249.5,522.9 L250.0,523.1 L250.5,523.2 L251.0,523.4 L251.5,523.6 L252.0,523.8 L252.5,523.9 L253.0,524.1 L253.5,524.3 L253.5,524.3 L254.0,524.4 L254.5,524.6 L255.0,524.8 L255.5,525.0 L256.0,525.2 L256.5,525.5 L257.0,525.7 L257.5,525.9 L258.0,526.2 L258.5,526.4 L259.0,526.7 L259.5,526.9 L260.0,527.1 L260.5,527.4 L261.0,527.6 L261.5,527.8 L262.0,528.0 L262.5,528.2 L263.0,528.4 L263.5,528.6 L264.0,528.8 L264.5,528.9 L264.7,528.9 L265.0,529.0 L265.5,529.1 L266.0,529.3 L266.5,529.4 L267.0,529.5 L267.5,529.6 L268.0,529.8 L268.5,529.9 L269.0,530.0 L269.5,530.1 L270.0,530.2 L270.5,530.2 L271.0,530.3 L271.5,530.4 L272.0,530.4 L272.5,530.4 L273.0,530.4 L273.2,530.4 L273.5,530.4 L274.0,530.3 L274.5,530.2 L275.0,530.0 L275.5,529.8 L276.0,529.6 L276.5,529.3 L277.0,529.1 L277.5,528.8 L278.0,528.6 L278.5,528.4 L279.0,528.2 L279.5,528.0 L279.7,528.0 L280.0,527.9 L280.5,527.8 L281.0,527.8 L281.5,527.7 L282.0,527.6 L282.5,527.5 L283.0,527.4 L283.5,527.3 L284.0,527.2 L284.5,527.1 L285.0,527.1 L285.5,527.0 L286.0,526.9 L286.5,526.9 L287.0,526.8 L287.5,526.8 L288.0,526.8 L288.5,526.7 L289.0,526.7 L289.5,526.7 L290.0,526.7 L290.0,526.7 L290.5,526.7 L291.0,526.7 L291.5,526.7 L292.0,526.8 L292.5,526.8 L293.0,526.9 L293.5,526.9 L294.0,527.0 L294.5,527.0 L295.0,527.1 L295.5,527.2 L296.0,527.3 L296.5,527.4 L297.0,527.5 L297.5,527.6 L298.0,527.7 L298.5,527.8 L299.0,527.9 L299.5,528.0 L300.0,528.1 L300.5,528.2 L301.0,528.4 L301.5,528.5 L302.0,528.6 L302.5,528.7 L303.0,528.9 L303.5,529.0 L304.0,529.1 L304.5,529.2 L305.0,529.4 L305.5,529.5 L306.0,529.6 L306.5,529.8 L307.0,529.9 L307.5,530.0 L308.0,530.1 L308.5,530.3 L309.0,530.4 L309.5,530.5 L310.0,530.6 L310.5,530.7 L311.0,530.8 L311.5,530.9 L311.8,531.0 L312.1,531.0 L312.6,531.1 L313.1,531.2 L313.6,531.3 L314.1,531.4 L314.6,531.5 L315.1,531.6 L315.6,531.7 L316.1,531.8 L316.6,531.9 L317.1,532.0 L317.6,532.1 L318.1,532.2 L318.6,532.3 L319.1,532.5 L319.6,532.6 L320.1,532.7 L320.6,532.8 L321.1,532.9 L321.6,533.0 L322.1,533.1 L322.6,533.2 L323.1,533.3 L323.6,533.4 L324.1,533.5 L324.6,533.6 L325.1,533.7 L325.6,533.8 L326.1,533.9 L326.6,534.1 L327.1,534.2 L327.6,534.2 L328.1,534.3 L328.6,534.4 L329.1,534.5 L329.6,534.6 L330.1,534.7 L330.6,534.8 L331.1,534.9 L331.6,535.0 L332.1,535.1 L332.6,535.1 L333.1,535.2 L333.6,535.3 L334.1,535.4 L334.6,535.4 L335.1,535.5 L335.6,535.6 L336.1,535.6 L336.6,535.7 L337.1,535.7 L337.6,535.8 L338.1,535.8 L338.6,535.9 L339.1,535.9 L339.3,536.0 L339.6,536.0 L340.1,536.0 L340.6,536.0 L341.1,536.1 L341.6,536.1 L342.1,536.2 L342.6,536.2 L343.1,536.2 L343.6,536.3 L344.1,536.3 L344.6,536.3 L345.1,536.4 L345.6,536.4 L346.1,536.4 L346.6,536.5 L347.1,536.5 L347.6,536.5 L348.1,536.6 L348.6,536.6 L349.1,536.6 L349.6,536.6 L350.1,536.7 L350.6,536.7 L351.1,536.7 L351.6,536.7 L352.1,536.8 L352.6,536.8 L353.1,536.8 L353.6,536.8 L354.1,536.9 L354.6,536.9 L355.1,536.9 L355.6,536.9 L356.1,537.0 L356.6,537.0 L357.1,537.0 L357.6,537.0 L358.1,537.0 L358.6,537.0 L359.1,537.1 L359.6,537.1 L360.1,537.1 L360.6,537.1 L361.1,537.1 L361.6,537.1 L362.1,537.1 L362.6,537.2 L363.1,537.2 L363.6,537.2 L364.1,537.2 L364.6,537.2 L364.9,537.2 L365.1,537.2 L365.6,537.2 L366.1,537.2 L366.6,537.2 L367.1,537.2 L367.6,537.2 L368.1,537.2 L368.6,537.2 L369.1,537.3 L369.6,537.3 L370.1,537.3 L370.6,537.3 L371.1,537.3 L371.6,537.3 L372.1,537.3 L372.6,537.3 L373.1,537.3 L373.6,537.3 L374.1,537.3 L374.6,537.3 L375.1,537.3 L375.6,537.3 L376.1,537.3 L376.6,537.3 L377.1,537.3 L377.6,537.4 L378.1,537.4 L378.6,537.4 L379.1,537.4 L379.6,537.4 L380.1,537.4 L380.6,537.4 L381.1,537.4 L381.6,537.4 L382.1,537.4 L382.6,537.4 L383.1,537.4 L383.6,537.4 L384.1,537.4 L384.6,537.4 L385.1,537.4 L385.6,537.4 L386.1,537.4 L386.6,537.4 L387.1,537.4 L387.6,537.5 L388.1,537.5 L388.6,537.5 L389.1,537.5 L389.6,537.5 L390.1,537.5 L390.6,537.5 L391.1,537.5 L391.6,537.5 L392.1,537.5 L392.6,537.5 L393.1,537.5 L393.6,537.5 L394.1,537.5 L394.6,537.5 L395.1,537.5 L395.6,537.5 L396.1,537.5 L396.6,537.5 L397.1,537.5 L397.6,537.5 L398.1,537.5 L398.6,537.5 L399.1,537.5 L399.6,537.6 L400.1,537.6 L400.6,537.6 L401.1,537.6 L401.6,537.6 L402.1,537.6 L402.6,537.6 L403.1,537.6 L403.6,537.6 L404.1,537.6 L404.6,537.6 L405.1,537.6 L405.6,537.6 L406.1,537.6 L406.6,537.6 L407.1,537.6 L407.6,537.6 L408.1,537.6 L408.6,537.6 L409.1,537.6 L409.6,537.6 L410.1,537.6 L410.6,537.6 L411.1,537.6 L411.6,537.6 L412.1,537.6 L412.6,537.6 L413.1,537.6 L413.6,537.6 L414.1,537.6 L414.6,537.6 L415.1,537.6 L415.6,537.6 L416.1,537.6 L416.6,537.6 L417.1,537.7 L417.6,537.7 L418.1,537.7 L418.6,537.7 L419.1,537.7 L419.6,537.7 L420.1,537.7 L420.6,537.7 L421.1,537.7 L421.6,537.7 L422.1,537.7 L422.6,537.7 L423.1,537.7 L423.6,537.7 L424.1,537.7 L424.6,537.7 L425.1,537.7 L425.6,537.7 L426.1,537.7 L426.6,537.7 L427.1,537.7 L427.6,537.7 L428.1,537.7 L428.6,537.7 L429.1,537.7 L429.6,537.7 L430.1,537.7 L430.6,537.7 L431.1,537.7 L431.6,537.7 L432.1,537.7 L432.6,537.7 L433.1,537.7 L433.6,537.7 L434.1,537.7 L434.6,537.7 L435.1,537.7 L435.6,537.7 L436.1,537.7 L436.6,537.7 L437.1,537.7 L437.6,537.7 L438.1,537.7 L438.6,537.7 L439.1,537.7 L439.6,537.7 L439.8,537.7 L440.1,537.7 L440.6,537.7 L441.1,537.7 L441.6,537.7 L442.1,537.7 L442.6,537.7 L443.1,537.7 L443.6,537.7 L444.1,537.7 L444.6,537.7 L445.1,537.7 L445.6,537.7 L446.1,537.7 L446.6,537.7 L447.1,537.7 L447.6,537.7 L448.1,537.7 L448.6,537.7 L449.1,537.7 L449.6,537.7 L450.1,537.7 L450.6,537.7 L451.1,537.7 L451.6,537.7 L452.1,537.7 L452.6,537.7 L453.1,537.7 L453.6,537.7 L454.1,537.7 L454.6,537.7 L455.1,537.7 L455.6,537.7 L456.1,537.7 L456.6,537.7 L457.1,537.7 L457.6,537.7 L458.1,537.7 L458.6,537.7 L459.1,537.7 L459.6,537.7 L460.1,537.7 L460.6,537.7 L461.1,537.7 L461.6,537.7 L462.1,537.7 L462.6,537.7 L463.1,537.7 L463.6,537.6 L464.1,537.6 L464.6,537.6 L465.1,537.6 L465.6,537.6 L466.1,537.6 L466.6,537.6 L467.1,537.6 L467.6,537.6 L468.1,537.6 L468.6,537.6 L469.1,537.6 L469.6,537.6 L470.1,537.6 L470.6,537.6 L471.1,537.6 L471.6,537.6 L472.1,537.6 L472.6,537.6 L473.1,537.6 L473.6,537.6 L474.1,537.6 L474.6,537.6 L475.1,537.6 L475.6,537.6 L476.1,537.6 L476.6,537.6 L477.1,537.6 L477.6,537.6 L478.1,537.6 L478.6,537.6 L479.1,537.6 L479.6,537.6 L480.1,537.5 L480.6,537.5 L481.1,537.5 L481.6,537.5 L482.1,537.5 L482.6,537.5 L483.1,537.5 L483.6,537.5 L484.1,537.5 L484.6,537.5 L485.1,537.5 L485.6,537.5 L486.1,537.5 L486.6,537.5 L487.1,537.5 L487.6,537.5 L488.1,537.5 L488.6,537.5 L489.1,537.5 L489.6,537.5 L490.1,537.4 L490.6,537.4 L491.1,537.4 L491.6,537.4 L492.1,537.4 L492.6,537.4 L493.1,537.4 L493.6,537.4 L494.1,537.4 L494.6,537.4 L495.1,537.4 L495.6,537.4 L496.1,537.4 L496.6,537.4 L497.1,537.4 L497.6,537.3 L498.1,537.3 L498.6,537.3 L499.1,537.3 L499.6,537.3 L500.1,537.3 L500.6,537.3 L501.1,537.3 L501.6,537.3 L502.1,537.3 L502.6,537.3 L503.1,537.3 L503.6,537.3 L504.1,537.2 L504.6,537.2 L505.1,537.2 L505.6,537.2 L506.1,537.2 L506.6,537.2 L507.1,537.2 L507.1,537.2 L507.6,537.2 L508.1,537.2 L508.6,537.1 L509.1,537.1 L509.6,537.1 L510.1,537.0 L510.6,537.0 L511.1,536.9 L511.6,536.8 L512.1,536.8 L512.6,536.7 L513.1,536.6 L513.6,536.5 L514.1,536.5 L514.6,536.4 L515.1,536.3 L515.6,536.2 L516.1,536.2 L516.6,536.1 L517.1,536.0 L517.6,536.0"/>
<path class="c" d="M3.7,697.6 L4.2,697.6 L4.7,697.6 L5.2,697.6 L5.7,697.6 L6.2,697.6 L6.7,697.6 L7.3,697.6 L7.8,697.6 L8.3,697.6 L8.8,697.6 L9.3,697.6 L9.8,697.5 L10.3,697.5 L10.8,697.5 L11.3,697.5 L11.8,697.5 L12.3,697.5 L12.8,697.5 L13.3,697.5 L13.8,697.5 L14.3,697.5 L14.8,697.5 L15.3,697.5 L15.8,697.5 L16.3,697.5 L16.8,697.5 L17.3,697.5 L17.8,697.5 L18.3,697.5 L18.8,697.5 L19.3,697.5 L19.8,697.5 L20.3,697.5 L20.8,697.5 L21.3,697.5 L21.8,697.5 L22.3,697.5 L22.8,697.5 L23.3,697.5 L23.8,697.5 L24.3,697.5 L24.8,697.5 L25.3,697.5 L25.8,697.5 L26.3,697.5 L26.8,697.5 L27.3,697.4 L27.8,697.4 L28.3,697.4 L28.8,697.4 L29.3,697.4 L29.8,697.4 L30.3,697.4 L30.8,697.4 L31.3,697.4 L31.8,697.4 L32.3,697.4 L32.8,697.4 L33.3,697.4 L33.8,697.4 L34.3,697.4 L34.8,697.4 L35.3,697.4 L35.8,697.4 L36.3,697.4 L36.8,697.4 L37.3,697.4 L37.8,697.4 L38.3,697.4 L38.8,697.4 L39.3,697.4 L39.8,697.4 L40.3,697.4 L40.8,697.4 L41.3,697.4 L41.8,697.4 L42.3,697.4 L42.8,697.4 L43.3,697.4 L43.8,697.4 L44.3,697.4 L44.8,697.4 L45.3,697.4 L45.8,697.4 L46.3,697.4 L46.8,697.4 L47.3,697.4 L47.8,697.4 L48.4,697.4 L48.9,697.4 L49.4,697.4 L49.9,697.4 L50.4,697.4 L50.9,697.4 L51.4,697.4 L51.9,697.4 L52.4,697.4 L52.9,697.4 L53.4,697.4 L53.9,697.4 L54.4,697.4 L54.9,697.4 L55.4,697.4 L55.9,697.4 L56.4,697.4 L56.9,697.4 L57.4,697.4 L57.9,697.4 L58.4,697.4 L58.9,697.4 L59.4,697.4 L59.9,697.4 L60.4,697.4 L60.9,697.4 L61.4,697.4 L61.9,697.4 L62.4,697.4 L62.9,697.3 L63.4,697.3 L63.9,697.3 L64.4,697.3 L64.9,697.3 L65.4,697.3 L65.9,697.3 L66.4,697.3 L66.9,697.3 L67.4,697.3 L67.9,697.3 L68.4,697.3 L68.9,697.3 L69.4,697.3 L69.9,697.3 L70.4,697.3 L70.9,697.3 L71.4,697.3 L71.9,697.3 L72.4,697.3 L72.9,697.3 L73.4,697.3 L73.9,697.3 L74.4,697.3 L74.8,697.3 L74.9,697.3 L75.4,697.3 L75.9,697.3 L76.4,697.3 L76.9,697.3 L77.4,697.3 L77.9,697.3 L78.4,697.3 L78.9,697.3 L79.4,697.3 L79.9,697.3 L80.4,697.4 L80.9,697.4 L81.4,697.4 L81.9,697.4 L82.4,697.4 L82.9,697.4 L83.4,697.4 L83.9,697.4 L84.4,697.4 L84.9,697.4 L85.4,697.4 L85.9,697.4 L86.4,697.4 L86.9,697.4 L87.4,697.4 L87.9,697.4 L88.4,697.4 L89.0,697.4 L89.5,697.4 L90.0,697.4 L90.5,697.4 L91.0,697.4 L91.5,697.4 L92.0,697.4 L92.5,697.4 L93.0,697.4 L93.5,697.4 L94.0,697.4 L94.5,697.4 L95.0,697.4 L95.5,697.4 L96.0,697.4 L96.5,697.4 L97.0,697.4 L97.5,697.4 L98.0,697.4 L98.5,697.4 L99.0,697.4 L99.5,697.4 L100.0,697.4 L100.0,697.4 L100.5,697.4 L101.0,697.4 L101.5,697.4 L102.0,697.4 L102.5,697.3 L103.0,697.3 L103.5,697.3 L104.0,697.2 L104.5,697.2 L105.0,697.1 L105.5,697.1 L106.0,697.0 L106.5,696.9 L107.0,696.9 L107.5,696.8 L108.0,696.7 L108.5,696.7 L109.0,696.6 L109.5,696.5 L110.0,696.4 L110.5,696.3 L111.0,696.2 L111.5,696.2 L112.0,696.1 L112.5,696.0 L113.0,695.9 L113.5,695.8 L114.0,695.7 L114.5,695.6 L115.0,695.5 L115.5,695.4 L116.0,695.3 L116.5,695.2 L116.8,695.2 L117.0,695.1 L117.5,695.0 L118.0,694.9 L118.5,694.8 L119.0,694.7 L119.5,694.6 L120.0,694.5 L120.5,694.3 L121.0,694.2 L121.5,694.1 L122.0,693.9 L122.5,693.8 L123.0,693.6 L123.5,693.5 L124.0,693.3 L124.5,693.2 L125.0,693.0 L125.5,692.9 L126.0,692.7 L126.5,692.5 L127.0,692.3 L127.5,692.2 L128.0,692.0 L128.5,691.8 L129.0,691.6 L129.6,691.4 L130.1,691.2 L130.6,691.0 L131.1,690.8 L131.6,690.6 L131.8,690.5 L132.1,690.4 L132.6,690.1 L133.1,689.9 L133.6,689.7 L134.1,689.4 L134.6,689.1 L135.1,688.9 L135.6,688.6 L136.1,688.3 L136.6,688.0 L137.1,687.7 L137.6,687.4 L138.1,687.1 L138.6,686.7 L139.1,686.4 L139.6,686.0 L140.1,685.7 L140.6,685.3 L141.1,685.0 L141.6,684.6 L142.1,684.2 L142.6,683.9 L143.1,683.5 L143.6,683.1 L144.1,682.7 L144.6,682.3 L144.9,682.1 L145.1,681.9 L145.6,681.5 L146.1,681.1 L146.6,680.7 L147.1,680.2 L147.6,679.8 L148.1,679.4 L148.6,678.9 L149.1,678.4 L149.6,677.9 L150.1,677.5 L150.6,677.0 L151.1,676.4 L151.6,675.9 L152.1,675.4 L152.6,674.8 L153.1,674.3 L153.6,673.7 L154.1,673.1 L154.6,672.5 L155.1,671.9 L155.2,671.8 L155.6,671.2 L156.1,670.6 L156.6,669.9 L157.1,669.2 L157.6,668.5 L158.1,667.7 L158.6,667.0 L159.1,666.2 L159.6,665.3 L160.1,664.5 L160.6,663.6 L161.1,662.7 L161.6,661.7 L162.1,660.7 L162.6,659.7 L162.7,659.6 L163.1,658.6 L163.6,657.5 L164.1,656.3 L164.6,655.0 L165.1,653.6 L165.6,652.2 L166.1,650.6 L166.6,649.0 L167.1,647.3 L167.4,646.5 L167.6,645.4 L168.1,643.3 L168.6,641.1 L169.1,638.6 L169.6,635.9 L170.1,633.1 L170.7,630.1 L170.7,629.7 L171.2,626.8 L171.7,623.2 L172.2,619.2 L172.7,615.0 L173.2,610.7 L173.3,609.1 L173.7,606.2 L174.2,601.4 L174.7,596.3 L175.2,591.1 L175.7,585.9 L175.8,584.8 L176.2,580.7 L176.7,575.4 L177.2,570.0 L177.7,564.5 L178.2,559.0 L178.2,558.6 L178.7,553.2 L179.2,547.3 L179.7,541.4 L180.2,535.5 L180.4,532.4 L180.7,529.8 L181.2,523.6 L181.7,517.5 L182.2,512.1 L182.7,508.1 L182.7,508.1 L183.2,505.2 L183.7,502.5 L184.2,500.1 L184.7,498.2 L185.2,496.9 L185.7,496.5 L186.2,497.2 L186.7,498.5 L187.2,500.3 L187.7,502.3 L188.2,504.6 L188.7,507.1 L188.9,508.1 L189.2,510.0 L189.7,513.7 L190.2,518.1 L190.7,523.0 L191.2,527.9 L191.7,532.4 L191.7,532.5 L192.2,537.1 L192.7,541.9 L193.2,546.7 L193.7,551.4 L194.2,556.0 L194.5,558.6 L194.7,560.4 L195.2,564.8 L195.7,569.0 L196.2,573.1 L196.7,577.2 L197.2,581.2 L197.7,584.8 L197.7,585.0 L198.2,588.9 L198.7,592.6 L199.2,596.2 L199.7,599.8 L200.2,603.3 L200.7,606.8 L201.0,609.1 L201.2,610.3 L201.7,613.7 L202.2,617.1 L202.7,620.5 L203.2,623.8 L203.7,627.0 L204.2,630.1 L204.7,633.0 L204.8,633.4 L205.2,635.8 L205.7,638.6 L206.2,641.2 L206.7,643.8 L207.2,646.3 L207.7,648.7 L208.2,651.0 L208.7,653.2 L208.9,654.0 L209.2,655.3 L209.7,657.3 L210.2,659.3 L210.7,661.2 L211.2,663.1 L211.7,664.8 L212.2,666.6 L212.7,668.2 L213.2,669.9 L213.7,671.4 L214.1,672.7 L214.2,673.0 L214.7,674.5 L215.2,675.9 L215.7,677.4 L216.2,678.9 L216.7,680.3 L217.2,681.7 L217.7,683.0 L218.2,684.3 L218.7,685.5 L219.2,686.6 L219.7,687.7 L220.2,688.7 L220.7,689.5 L220.7,689.6 L221.2,690.5 L221.7,691.4 L222.2,692.3 L222.7,693.2 L223.2,694.1 L223.7,694.9 L224.2,695.6 L224.7,696.1 L225.2,696.6 L225.7,696.9 L226.2,697.0 L226.3,697.0 L226.7,697.0 L227.2,696.8 L227.7,696.4 L228.2,696.1 L228.7,695.6 L229.2,695.2 L229.7,694.8 L230.2,694.5 L230.7,694.3 L231.0,694.2 L231.2,694.2 L231.7,694.1 L232.2,694.0 L232.7,693.9 L233.2,693.9 L233.7,693.8 L234.2,693.8 L234.7,693.7 L235.2,693.7 L235.7,693.7 L236.2,693.7 L236.6,693.7 L236.7,693.7 L237.2,693.7 L237.7,693.8 L238.2,693.9 L238.7,694.0 L239.2,694.2 L239.7,694.4 L240.2,694.6 L240.7,694.8 L241.2,695.0 L241.7,695.2 L242.2,695.4 L242.7,695.6 L243.2,695.8 L243.7,696.0 L244.1,696.1 L244.2,696.1 L244.7,696.3 L245.2,696.5 L245.7,696.6 L246.2,696.8 L246.7,697.0 L247.2,697.1 L247.7,697.3 L248.2,697.5 L248.7,697.6 L249.2,697.8 L249.7,697.9 L250.2,698.1 L250.7,698.2 L251.2,698.3 L251.7,698.4 L252.2,698.5 L252.7,698.5 L253.2,698.5 L253.4,698.5 L253.7,698.5 L254.2,698.5 L254.7,698.4 L255.2,698.3 L255.7,698.2 L256.2,698.0 L256.7,697.8 L257.2,697.7 L257.7,697.5 L258.2,697.3 L258.7,697.0 L259.2,696.8 L259.7,696.6 L260.2,696.4 L260.7,696.2 L260.9,696.1 L261.2,695.9 L261.7,695.7 L262.2,695.4 L262.7,695.2 L263.2,694.9 L263.7,694.5 L264.2,694.2 L264.7,693.9 L265.3,693.6 L265.8,693.2 L266.3,692.9 L266.8,692.5 L267.3,692.2 L267.8,691.9 L268.3,691.6 L268.8,691.3 L269.3,691.0 L269.8,690.7 L270.3,690.5 L270.3,690.5 L270.8,690.2 L271.3,690.0 L271.8,689.7 L272.3,689.5 L272.8,689.2 L273.3,689.0 L273.8,688.7 L274.3,688.5 L274.8,688.3 L275.3,688.1 L275.8,687.9 L276.3,687.7 L276.8,687.6 L277.3,687.4 L277.8,687.4 L278.3,687.3 L278.7,687.3 L278.8,687.3 L279.3,687.3 L279.8,687.3 L280.3,687.3 L280.8,687.4 L281.3,687.4 L281.8,687.4 L282.3,687.5 L282.8,687.5 L283.3,687.6 L283.8,687.6 L284.3,687.7 L284.8,687.7 L285.3,687.8 L285.8,687.9 L286.3,687.9 L286.8,688.0 L287.1,688.0 L287.3,688.1 L287.8,688.2 L288.3,688.2 L288.8,688.4 L289.3,688.5 L289.8,688.6 L290.3,688.7 L290.8,688.9 L291.3,689.1 L291.8,689.2 L292.3,689.4 L292.8,689.6 L293.3,689.8 L293.8,690.0 L294.3,690.2 L294.8,690.4 L295.3,690.6 L295.8,690.8 L296.3,691.0 L296.8,691.2 L297.3,691.4 L297.8,691.5 L298.3,691.7 L298.8,691.9 L299.3,692.1 L299.8,692.3 L300.0,692.3 L300.3,692.4 L300.8,692.6 L301.3,692.8 L301.8,693.0 L302.3,693.1 L302.8,693.3 L303.3,693.5 L303.8,693.7 L304.3,693.9 L304.8,694.1 L305.3,694.3 L305.8,694.5 L306.3,694.7 L306.8,694.9 L307.3,695.1 L307.8,695.3 L308.3,695.5 L308.8,695.7 L309.3,695.9 L309.8,696.1 L310.3,696.3 L310.8,696.4 L311.3,696.6 L311.8,696.8 L312.3,697.0 L312.8,697.1 L313.3,697.3 L313.8,697.5 L314.3,697.6 L314.8,697.7 L315.3,697.9 L315.8,698.0 L316.3,698.1 L316.8,698.2 L317.3,698.3 L317.8,698.4 L318.3,698.5 L318.8,698.6 L319.3,698.6 L319.3,698.6 L319.8,698.7 L320.3,698.7 L320.8,698.8 L321.3,698.8 L321.8,698.9 L322.3,698.9 L322.8,699.0 L323.3,699.0 L323.8,699.1 L324.3,699.1 L324.8,699.2 L325.3,699.2 L325.8,699.2 L326.3,699.3 L326.8,699.3 L327.3,699.4 L327.8,699.4 L328.3,699.4 L328.8,699.5 L329.3,699.5 L329.8,699.5 L330.3,699.6 L330.8,699.6 L331.3,699.6 L331.8,699.7 L332.3,699.7 L332.8,699.7 L333.3,699.7 L333.8,699.8 L334.3,699.8 L334.8,699.8 L335.3,699.8 L335.8,699.8 L336.3,699.8 L336.8,699.8 L337.3,699.9 L337.8,699.9 L338.3,699.9 L338.8,699.9 L339.3,699.9 L339.3,699.9 L339.8,699.9 L340.3,699.9 L340.8,699.9 L341.3,699.9 L341.8,699.9 L342.3,699.9 L342.8,699.9 L343.3,699.9 L343.8,699.9 L344.3,699.9 L344.8,699.9 L345.3,699.9 L345.8,699.9 L346.3,699.9 L346.8,699.9 L347.3,699.9 L347.8,699.9 L348.3,699.9 L348.8,699.9 L349.3,699.9 L349.8,699.9 L350.3,699.9 L350.8,699.9 L351.3,699.9 L351.8,699.9 L352.3,699.9 L352.8,699.9 L353.3,699.9 L353.8,699.9 L354.3,699.9 L354.8,699.9 L355.3,699.9 L355.8,699.9 L356.3,699.9 L356.8,699.9 L357.3,699.9 L357.8,699.9 L358.3,699.9 L358.8,699.9 L359.3,699.9 L359.8,699.9 L359.8,699.9 L360.3,699.9 L360.8,699.9 L361.3,699.9 L361.8,699.9 L362.3,699.9 L362.8,699.9 L363.3,699.9 L363.8,699.9 L364.3,699.9 L364.8,699.9 L365.3,699.9 L365.8,699.9 L366.3,699.9 L366.8,699.9 L367.3,699.8 L367.8,699.8 L368.3,699.8 L368.8,699.8 L369.3,699.8 L369.8,699.8 L370.3,699.8 L370.8,699.8 L371.3,699.8 L371.8,699.8 L372.3,699.8 L372.8,699.8 L373.3,699.8 L373.8,699.8 L374.3,699.8 L374.8,699.8 L375.3,699.8 L375.8,699.8 L376.3,699.8 L376.8,699.8 L377.3,699.8 L377.8,699.8 L378.3,699.8 L378.8,699.8 L379.3,699.8 L379.8,699.7 L380.3,699.7 L380.8,699.7 L381.3,699.7 L381.8,699.7 L382.3,699.7 L382.8,699.7 L383.3,699.7 L383.8,699.7 L384.3,699.7 L384.8,699.7 L385.3,699.7 L385.8,699.7 L386.3,699.7 L386.8,699.7 L387.3,699.7 L387.8,699.7 L388.3,699.6 L388.8,699.6 L389.3,699.6 L389.8,699.6 L390.3,699.6 L390.8,699.6 L391.3,699.6 L391.8,699.6 L392.4,699.6 L392.9,699.6 L393.4,699.6 L393.9,699.6 L394.4,699.6 L394.9,699.6 L395.4,699.6 L395.9,699.5 L396.4,699.5 L396.9,699.5 L397.4,699.5 L397.9,699.5 L398.4,699.5 L398.9,699.5 L399.4,699.5 L399.9,699.5 L400.4,699.5 L400.9,699.5 L401.4,699.5 L401.9,699.5 L402.4,699.5 L402.9,699.5 L403.4,699.4 L403.9,699.4 L404.4,699.4 L404.9,699.4 L405.4,699.4 L405.9,699.4 L406.4,699.4 L406.9,699.4 L407.4,699.4 L407.9,699.4 L408.4,699.4 L408.9,699.4 L409.4,699.4 L409.7,699.4 L409.9,699.4 L410.4,699.4 L410.9,699.4 L411.4,699.3 L411.9,699.3 L412.4,699.3 L412.9,699.3 L413.4,699.3 L413.9,699.3 L414.4,699.3 L414.9,699.3 L415.4,699.3 L415.9,699.3 L416.4,699.3 L416.9,699.3 L417.4,699.3 L417.9,699.3 L418.4,699.3 L418.9,699.3 L419.4,699.3 L419.9,699.3 L420.4,699.2 L420.9,699.2 L421.4,699.2 L421.9,699.2 L422.4,699.2 L422.9,699.2 L423.4,699.2 L423.9,699.2 L424.4,699.2 L424.9,699.2 L425.4,699.2 L425.9,699.2 L426.4,699.2 L426.9,699.2 L427.4,699.2 L427.9,699.2 L428.4,699.1 L428.9,699.1 L429.4,699.1 L429.9,699.1 L430.4,699.1 L430.9,699.1 L431.4,699.1 L431.9,699.1 L432.4,699.1 L432.9,699.1 L433.4,699.1 L433.9,699.1 L434.4,699.1 L434.9,699.1 L435.4,699.1 L435.9,699.1 L436.4,699.0 L436.9,699.0 L437.4,699.0 L437.9,699.0 L438.4,699.0 L438.9,699.0 L439.4,699.0 L439.9,699.0 L440.4,699.0 L440.9,699.0 L441.4,699.0 L441.9,699.0 L442.4,699.0 L442.9,699.0 L443.4,699.0 L443.9,699.0 L444.4,698.9 L444.9,698.9 L445.4,698.9 L445.9,698.9 L446.4,698.9 L446.9,698.9 L447.4,698.9 L447.9,698.9 L448.4,698.9 L448.9,698.9 L449.4,698.9 L449.9,698.9 L450.4,698.9 L450.9,698.9 L451.4,698.9 L451.9,698.8 L452.4,698.8 L452.9,698.8 L453.4,698.8 L453.9,698.8 L454.4,698.8 L454.9,698.8 L455.4,698.8 L455.9,698.8 L456.4,698.8 L456.9,698.8 L457.4,698.8 L457.9,698.8 L458.4,698.8 L458.9,698.8 L459.4,698.7 L459.9,698.7 L460.4,698.7 L460.9,698.7 L461.4,698.7 L461.9,698.7 L462.4,698.7 L462.9,698.7 L463.4,698.7 L463.9,698.7 L464.4,698.7 L464.9,698.7 L465.4,698.7 L465.9,698.7 L466.4,698.6 L466.9,698.6 L467.4,698.6 L467.9,698.6 L468.4,698.6 L468.9,698.6 L469.4,698.6 L469.9,698.6 L470.4,698.6 L470.9,698.6 L471.4,698.6 L471.9,698.6 L472.4,698.6 L472.9,698.5 L473.4,698.5 L473.9,698.5 L474.4,698.5 L474.9,698.5 L475.4,698.5 L475.9,698.5 L476.4,698.5 L476.9,698.5 L477.4,698.5 L477.9,698.5 L478.4,698.5 L478.9,698.5 L479.4,698.5 L479.9,698.4 L480.4,698.4 L480.9,698.4 L481.4,698.4 L481.9,698.4 L482.4,698.4 L482.9,698.4 L483.4,698.4 L483.9,698.4 L484.4,698.4 L484.5,698.4 L484.9,698.4 L485.4,698.4 L485.9,698.3 L486.4,698.3 L486.9,698.3 L487.4,698.3 L487.9,698.3 L488.4,698.3 L488.9,698.3 L489.4,698.3 L489.9,698.3 L490.4,698.3 L490.9,698.3 L491.4,698.3 L491.9,698.2 L492.4,698.2 L492.9,698.2 L493.4,698.2 L493.9,698.2 L494.4,698.2 L494.9,698.2 L495.4,698.2 L495.9,698.2 L496.4,698.2 L496.9,698.2 L497.4,698.1 L497.9,698.1 L498.4,698.1 L498.9,698.1 L499.4,698.1 L499.9,698.1 L500.4,698.1 L500.9,698.1 L501.4,698.1 L501.9,698.1 L502.4,698.1 L502.9,698.0 L503.4,698.0 L503.9,698.0 L504.4,698.0 L504.9,698.0 L505.4,698.0 L505.9,698.0 L506.4,698.0 L506.9,698.0 L507.4,698.0 L507.9,698.0 L508.4,697.9 L508.9,697.9 L509.4,697.9 L509.9,697.9 L510.4,697.9 L510.9,697.9 L511.4,697.9 L511.9,697.9"/>
<path class="c" d="M2.5,881.5 L3.0,881.5 L3.5,881.5 L4.0,881.5 L4.5,881.5 L5.0,881.5 L5.5,881.6 L6.0,881.6 L6.5,881.6 L7.0,881.6 L7.5,881.6 L8.0,881.6 L8.5,881.7 L9.0,881.7 L9.5,881.7 L10.0,881.7 L10.5,881.7 L11.0,881.7 L11.5,881.7 L12.0,881.7 L12.5,881.8 L13.0,881.8 L13.5,881.8 L14.0,881.8 L14.5,881.8 L15.0,881.8 L15.5,881.8 L16.0,881.8 L16.5,881.8 L17.0,881.8 L17.5,881.9 L18.0,881.9 L18.5,881.9 L19.0,881.9 L19.5,881.9 L20.0,881.9 L20.5,881.9 L21.0,881.9 L21.5,881.9 L22.0,881.9 L22.5,881.9 L23.0,881.9 L23.5,881.9 L24.0,881.9 L24.5,881.9 L25.0,881.9 L25.5,882.0 L26.0,882.0 L26.5,882.0 L27.0,882.0 L27.5,882.0 L28.0,882.0 L28.5,882.0 L29.0,882.0 L29.5,882.0 L29.9,882.0 L30.0,882.0 L30.5,882.0 L31.0,882.0 L31.5,882.0 L32.0,882.0 L32.5,882.0 L33.0,882.0 L33.5,882.0 L34.0,882.0 L34.5,882.0 L35.0,882.0 L35.5,882.0 L36.0,881.9 L36.5,881.9 L37.0,881.9 L37.5,881.9 L38.0,881.9 L38.5,881.9 L39.0,881.9 L39.5,881.9 L40.0,881.9 L40.5,881.9 L41.0,881.9 L41.5,881.9 L42.0,881.9 L42.5,881.9 L43.0,881.9 L43.5,881.9 L44.0,881.9 L44.5,881.9 L45.0,881.9 L45.5,881.8 L46.0,881.8 L46.5,881.8 L47.0,881.8 L47.5,881.8 L48.0,881.8 L48.5,881.8 L49.0,881.8 L49.5,881.8 L50.0,881.8 L50.5,881.8 L51.0,881.8 L51.5,881.7 L52.0,881.7 L52.5,881.7 L53.0,881.7 L53.5,881.7 L54.0,881.7 L54.5,881.7 L55.0,881.7 L55.5,881.7 L56.0,881.6 L56.5,881.6 L57.0,881.6 L57.5,881.6 L58.0,881.6 L58.5,881.6 L59.0,881.6 L59.5,881.5 L60.0,881.5 L60.5,881.5 L61.0,881.5 L61.5,881.5 L62.0,881.5 L62.4,881.5 L62.6,881.5 L63.1,881.4 L63.6,881.4 L64.1,881.4 L64.6,881.3 L65.1,881.3 L65.6,881.3 L66.1,881.2 L66.6,881.1 L67.1,881.1 L67.6,881.0 L68.1,880.9 L68.6,880.9 L69.1,880.8 L69.6,880.7 L70.1,880.6 L70.6,880.5 L71.1,880.5 L71.6,880.4 L72.1,880.3 L72.6,880.2 L73.1,880.1 L73.6,880.0 L74.1,879.9 L74.6,879.8 L75.1,879.7 L75.6,879.6 L76.1,879.5 L76.6,879.4 L77.1,879.3 L77.6,879.2 L78.1,879.1 L78.6,879.0 L79.1,878.9 L79.6,878.8 L80.1,878.7 L80.6,878.6 L81.1,878.5 L81.6,878.4 L82.1,878.3 L82.3,878.2 L82.6,878.2 L83.1,878.1 L83.6,878.0 L84.1,877.9 L84.6,877.8 L85.1,877.7 L85.6,877.6 L86.1,877.5 L86.6,877.4 L87.1,877.4 L87.6,877.3 L88.1,877.2 L88.6,877.1 L89.1,877.0 L89.6,876.9 L90.1,876.8 L90.6,876.7 L91.1,876.6 L91.6,876.5 L92.1,876.3 L92.6,876.2 L93.1,876.1 L93.6,876.0 L94.1,875.9 L94.6,875.8 L94.8,875.7 L95.1,875.7 L95.6,875.5 L96.1,875.4 L96.6,875.3 L97.1,875.2 L97.6,875.0 L98.1,874.9 L98.6,874.8 L99.1,874.6 L99.6,874.5 L100.1,874.3 L100.6,874.2 L101.1,874.0 L101.6,873.9 L102.1,873.7 L102.6,873.6 L103.1,873.4 L103.6,873.3 L104.1,873.1 L104.6,872.9 L105.1,872.8 L105.6,872.6 L106.1,872.5 L106.6,872.3 L107.1,872.1 L107.6,871.9 L108.1,871.8 L108.6,871.6 L109.1,871.4 L109.6,871.2 L110.0,871.1 L110.1,871.1 L110.6,870.9 L111.1,870.7 L111.6,870.5 L112.1,870.3 L112.6,870.2 L113.1,870.0 L113.6,869.8 L114.1,869.6 L114.6,869.4 L115.1,869.2 L115.6,869.0 L116.1,868.8 L116.6,868.6 L117.1,868.4 L117.6,868.2 L118.1,867.9 L118.6,867.7 L119.1,867.5 L119.6,867.3 L120.1,867.0 L120.6,866.8 L121.1,866.6 L121.6,866.3 L122.1,866.1 L122.6,865.8 L123.1,865.6 L123.6,865.3 L124.1,865.1 L124.4,864.9 L124.6,864.8 L125.1,864.6 L125.6,864.3 L126.1,864.0 L126.6,863.7 L127.1,863.5 L127.6,863.2 L128.1,862.9 L128.6,862.6 L129.1,862.3 L129.6,862.0 L130.1,861.6 L130.6,861.3 L131.1,861.0 L131.6,860.6 L132.1,860.3 L132.6,860.0 L133.1,859.6 L133.6,859.2 L134.1,858.8 L134.6,858.5 L135.1,858.1 L135.6,857.7 L136.1,857.2 L136.6,856.8 L136.8,856.7 L137.1,856.4 L137.6,855.9 L138.1,855.4 L138.6,854.9 L139.1,854.4 L139.6,853.9 L140.1,853.3 L140.6,852.8 L141.1,852.2 L141.6,851.6 L142.1,851.0 L142.6,850.4 L143.1,849.7 L143.6,849.1 L144.1,848.4 L144.6,847.7 L145.1,847.0 L145.6,846.4 L146.1,845.7 L146.6,844.9 L147.0,844.3 L147.1,844.2 L147.6,843.5 L148.1,842.8 L148.6,842.0 L149.1,841.2 L149.6,840.4 L150.1,839.6 L150.6,838.8 L151.1,837.9 L151.6,837.0 L152.1,836.1 L152.6,835.2 L153.1,834.3 L153.6,833.3 L154.1,832.3 L154.6,831.3 L155.1,830.2 L155.3,829.9 L155.6,829.2 L156.1,828.0 L156.6,826.9 L157.1,825.7 L157.6,824.4 L158.1,823.2 L158.6,821.8 L159.1,820.4 L159.6,819.0 L160.1,817.6 L160.6,816.0 L161.1,814.5 L161.4,813.5 L161.6,812.8 L162.1,811.1 L162.6,809.3 L163.1,807.3 L163.6,805.3 L164.1,803.2 L164.6,801.1 L165.1,798.9 L165.6,797.0 L165.6,796.7 L166.1,794.4 L166.6,792.0 L167.1,789.6 L167.6,787.1 L168.1,784.6 L168.6,782.0 L169.1,779.3 L169.6,776.6 L169.7,776.4 L170.2,773.8 L170.7,770.8 L171.2,767.7 L171.7,764.6 L172.2,761.5 L172.7,758.6 L172.8,757.9 L173.2,755.7 L173.7,752.6 L174.2,749.6 L174.7,746.7 L175.2,744.2 L175.7,742.1 L175.9,741.4 L176.2,740.6 L176.7,739.1 L177.2,737.7 L177.7,736.4 L178.2,735.2 L178.7,734.2 L179.2,733.3 L179.7,732.7 L180.2,732.3 L180.6,732.2 L180.7,732.2 L181.2,732.5 L181.7,733.1 L182.2,734.1 L182.7,735.3 L183.2,736.8 L183.7,738.4 L184.2,740.2 L184.5,741.4 L184.7,742.1 L185.2,745.1 L185.7,748.9 L186.2,753.3 L186.7,757.8 L187.2,762.0 L187.2,762.0 L187.7,765.8 L188.2,769.6 L188.7,773.4 L189.2,777.2 L189.7,781.2 L189.9,782.6 L190.2,785.2 L190.7,789.5 L191.2,793.8 L191.7,798.1 L192.2,802.1 L192.3,803.2 L192.7,805.7 L193.2,809.2 L193.7,812.5 L194.2,815.8 L194.7,819.0 L195.2,822.2 L195.4,823.8 L195.7,825.6 L196.2,829.0 L196.7,832.5 L197.2,836.0 L197.7,839.3 L198.2,842.5 L198.5,844.3 L198.7,845.4 L199.2,848.3 L199.7,851.1 L200.2,853.8 L200.7,856.4 L201.2,858.9 L201.7,861.2 L202.2,863.3 L202.6,864.9 L202.7,865.2 L203.2,866.9 L203.7,868.6 L204.2,870.1 L204.7,871.6 L205.2,873.0 L205.7,874.3 L206.2,875.6 L206.7,876.8 L207.2,878.0 L207.7,879.2 L207.8,879.3 L208.2,880.3 L208.7,881.5 L209.2,882.6 L209.7,883.7 L210.2,884.7 L210.7,885.7 L211.2,886.7 L211.7,887.6 L212.2,888.5 L212.7,889.3 L212.9,889.6 L213.2,890.1 L213.7,890.9 L214.2,891.8 L214.7,892.6 L215.2,893.3 L215.7,894.0 L216.2,894.4 L216.7,894.7 L217.0,894.8 L217.2,894.8 L217.7,894.7 L218.2,894.7 L218.7,894.6 L219.2,894.5 L219.7,894.4 L220.2,894.3 L220.7,894.1 L221.2,893.9 L221.7,893.7 L222.2,893.5 L222.7,893.3 L223.2,893.1 L223.7,892.9 L224.2,892.7 L224.7,892.4 L225.0,892.3 L225.2,892.2 L225.7,891.9 L226.2,891.6 L226.7,891.3 L227.2,890.9 L227.7,890.4 L228.2,890.0 L228.7,889.5 L229.2,889.0 L229.7,888.5 L230.2,887.9 L230.7,887.4 L231.2,886.8 L231.7,886.2 L232.2,885.6 L232.7,885.0 L233.2,884.4 L233.7,883.8 L234.2,883.2 L234.7,882.6 L235.0,882.3 L235.2,882.0 L235.7,881.5 L236.2,880.9 L236.7,880.3 L237.2,879.7 L237.7,879.0 L238.2,878.4 L238.7,877.8 L239.2,877.1 L239.7,876.4 L240.2,875.7 L240.7,875.0 L241.2,874.3 L241.7,873.5 L242.2,872.7 L242.5,872.3 L242.7,871.9 L243.2,871.1 L243.7,870.2 L244.2,869.3 L244.7,868.4 L245.2,867.5 L245.7,866.5 L246.2,865.5 L246.7,864.4 L247.2,863.3 L247.7,862.2 L248.2,861.0 L248.7,859.9 L248.7,859.8 L249.2,858.5 L249.7,857.2 L250.2,855.8 L250.7,854.3 L251.2,852.8 L251.7,851.1 L252.2,849.4 L252.7,847.5 L253.1,846.2 L253.2,845.4 L253.7,843.1 L254.2,840.5 L254.7,837.7 L255.2,834.7 L255.7,831.5 L256.2,828.7 L256.2,828.3 L256.7,824.9 L257.2,821.3 L257.7,817.5 L258.2,813.5 L258.7,810.0 L258.7,809.5 L259.2,805.3 L259.7,800.9 L260.2,796.3 L260.7,791.7 L261.2,787.0 L261.7,782.4 L262.2,777.8 L262.7,773.3 L263.2,768.9 L263.3,768.2 L263.7,764.7 L264.2,760.5 L264.7,756.4 L265.2,752.4 L265.7,748.5 L266.2,744.7 L266.4,743.5 L266.7,741.1 L267.2,737.6 L267.7,734.2 L268.2,730.9 L268.7,727.7 L269.2,724.7 L269.7,721.8 L269.9,720.9 L270.2,719.0 L270.7,716.3 L271.2,713.7 L271.7,711.2 L272.2,708.7 L272.7,706.5 L273.2,704.4 L273.7,702.6 L273.8,702.3 L274.2,700.9 L274.7,699.2 L275.2,697.7 L275.7,696.2 L276.2,694.8 L276.7,693.7 L277.2,692.7 L277.7,692.1 L277.8,692.0 L278.3,691.5 L278.8,690.9 L279.3,690.5 L279.8,690.2 L280.3,690.0 L280.4,690.0 L280.8,690.1 L281.3,690.8 L281.8,691.9 L282.3,693.2 L282.8,694.8 L283.3,696.3 L283.8,697.8 L283.9,698.2 L284.3,699.2 L284.8,700.7 L285.3,702.2 L285.8,703.8 L286.3,705.4 L286.8,707.1 L287.3,708.7 L287.8,710.4 L288.3,712.1 L288.8,713.8 L289.0,714.7 L289.3,715.4 L289.8,717.0 L290.3,718.7 L290.8,720.3 L291.3,722.0 L291.8,723.6 L292.3,725.3 L292.8,727.0 L293.3,728.6 L293.8,730.3 L294.3,732.0 L294.8,733.7 L295.3,735.3 L295.8,737.0 L296.3,738.7 L296.8,740.4 L297.3,742.1 L297.8,743.8 L298.3,745.5 L298.8,747.1 L299.3,748.8 L299.8,750.5 L300.3,752.2 L300.8,753.9 L301.3,755.5 L301.8,757.2 L302.3,758.8 L302.8,760.5 L303.3,762.2 L303.8,763.8 L304.3,765.4 L304.8,767.1 L305.3,768.7 L305.8,770.3 L305.8,770.5 L306.3,771.9 L306.8,773.5 L307.3,775.1 L307.8,776.7 L308.3,778.3 L308.8,779.9 L309.3,781.4 L309.8,783.0 L310.3,784.5 L310.5,785.0 L310.8,786.0 L311.3,787.5 L311.8,789.0 L312.3,790.5 L312.8,791.9 L313.3,793.4 L313.8,794.8 L314.3,796.2 L314.8,797.5 L315.1,798.3 L315.3,798.7 L315.8,800.0 L316.3,801.2 L316.8,802.4 L317.3,803.5 L317.8,804.6 L318.3,805.7 L318.8,806.8 L319.3,807.9 L319.8,808.9 L320.3,810.0 L320.8,811.0 L321.1,811.5 L321.3,812.0 L321.8,813.0 L322.3,813.9 L322.8,814.9 L323.3,815.8 L323.8,816.7 L324.3,817.6 L324.8,818.5 L325.3,819.4 L325.8,820.3 L326.3,821.1 L326.8,822.0 L327.3,822.8 L327.7,823.4 L327.8,823.6 L328.3,824.4 L328.8,825.3 L329.3,826.1 L329.8,826.9 L330.3,827.6 L330.8,828.4 L331.3,829.2 L331.8,830.0 L332.3,830.7 L332.8,831.4 L333.3,832.2 L333.8,832.9 L334.3,833.6 L334.8,834.3 L335.3,834.9 L335.6,835.4 L335.8,835.6 L336.3,836.2 L336.8,836.9 L337.3,837.5 L337.8,838.1 L338.3,838.7 L338.8,839.3 L339.3,839.8 L339.8,840.4 L340.3,841.0 L340.8,841.5 L341.3,842.1 L341.8,842.6 L342.3,843.2 L342.8,843.7 L343.3,844.3 L343.8,844.8 L344.3,845.3 L344.8,845.9 L344.9,846.0 L345.3,846.4 L345.8,846.9 L346.3,847.5 L346.8,848.0 L347.3,848.5 L347.8,849.0 L348.3,849.5 L348.8,850.0 L349.3,850.5 L349.8,851.0 L350.3,851.5 L350.8,852.0 L351.3,852.5 L351.8,853.0 L352.3,853.5 L352.8,854.0 L353.3,854.4 L353.8,854.9 L354.2,855.2 L354.3,855.4 L354.8,855.8 L355.3,856.3 L355.8,856.8 L356.3,857.2 L356.8,857.7 L357.3,858.1 L357.8,858.6 L358.3,859.0 L358.8,859.5 L359.3,859.9 L359.8,860.3 L360.3,860.8 L360.8,861.2 L361.3,861.6 L361.8,862.1 L362.3,862.5 L362.8,862.9 L363.3,863.3 L363.8,863.7 L364.3,864.1 L364.8,864.5 L364.8,864.6 L365.3,865.0 L365.8,865.4 L366.3,865.8 L366.8,866.2 L367.3,866.6 L367.8,867.0 L368.3,867.4 L368.8,867.7 L369.3,868.1 L369.8,868.5 L370.3,868.9 L370.8,869.3 L371.3,869.7 L371.8,870.0 L372.3,870.4 L372.8,870.7 L373.3,871.1 L373.8,871.4 L374.3,871.8 L374.8,872.1 L375.3,872.4 L375.4,872.5 L375.8,872.8 L376.3,873.1 L376.8,873.4 L377.3,873.7 L377.8,874.0 L378.3,874.3 L378.8,874.6 L379.3,874.9 L379.8,875.2 L380.3,875.5 L380.8,875.8 L381.3,876.1 L381.8,876.3 L382.3,876.6 L382.8,876.9 L383.3,877.1 L383.8,877.4 L384.3,877.7 L384.8,877.9 L385.4,878.1 L385.9,878.4 L386.0,878.4 L386.4,878.6 L386.9,878.8 L387.4,879.0 L387.9,879.2 L388.4,879.4 L388.9,879.6 L389.4,879.8 L389.9,880.0 L390.4,880.2 L390.9,880.4 L391.4,880.5 L391.9,880.7 L392.4,880.9 L392.9,881.1 L393.4,881.2 L393.9,881.4 L394.4,881.6 L394.9,881.8 L395.4,881.9 L395.9,882.1 L396.4,882.3 L396.6,882.4 L396.9,882.5 L397.4,882.7 L397.9,882.9 L398.4,883.1 L398.9,883.3 L399.4,883.5 L399.9,883.7 L400.4,883.9 L400.9,884.1 L401.4,884.2 L401.9,884.4 L402.4,884.6 L402.9,884.8 L403.4,885.0 L403.9,885.2 L404.4,885.4 L404.9,885.6 L405.4,885.8 L405.9,885.9 L406.4,886.1 L406.9,886.3 L407.2,886.4 L407.4,886.4 L407.9,886.6 L408.4,886.8 L408.9,887.0 L409.4,887.2 L409.9,887.3 L410.4,887.5 L410.9,887.7 L411.4,887.9 L411.9,888.1 L412.4,888.3 L412.9,888.4 L413.4,888.6 L413.9,888.7 L414.4,888.8 L414.9,888.9 L415.4,888.9 L415.9,889.0 L416.4,889.0 L416.4,889.0 L416.9,889.0 L417.4,889.0 L417.9,889.0 L418.4,888.9 L418.9,888.9 L419.4,888.9 L419.9,888.8 L420.4,888.8 L420.9,888.7 L421.4,888.7 L421.9,888.6 L422.4,888.6 L422.9,888.5 L423.4,888.5 L423.9,888.4 L424.4,888.4 L424.9,888.4 L425.4,888.4 L425.7,888.3 L425.9,888.3 L426.4,888.3 L426.9,888.3 L427.4,888.3 L427.9,888.3 L428.4,888.3 L428.9,888.3 L429.4,888.2 L429.9,888.2 L430.4,888.2 L430.9,888.2 L431.4,888.2 L431.9,888.2 L432.4,888.2 L432.9,888.2 L433.4,888.1 L433.9,888.1 L434.4,888.1 L434.9,888.1 L435.4,888.1 L435.9,888.1 L436.4,888.1 L436.9,888.1 L437.4,888.1 L437.9,888.1 L438.4,888.1 L438.9,888.1 L439.4,888.1 L439.9,888.1 L440.0,888.1 L440.4,888.1 L440.9,888.1 L441.4,888.2 L441.9,888.3 L442.4,888.4 L442.9,888.5 L443.4,888.7 L443.9,888.8 L444.4,889.0 L444.9,889.2 L445.4,889.3 L445.9,889.5 L446.4,889.7 L446.9,889.8 L447.4,889.9 L447.9,890.0 L448.4,890.1 L448.9,890.2 L449.4,890.2 L449.6,890.2 L449.9,890.2 L450.4,890.2 L450.9,890.2 L451.4,890.2 L451.9,890.1 L452.4,890.1 L452.9,890.1 L453.4,890.1 L453.9,890.0 L454.4,890.0 L454.9,889.9 L455.4,889.9 L455.9,889.8 L456.4,889.8 L456.9,889.7 L457.4,889.7 L457.9,889.6 L458.4,889.6 L458.9,889.5 L459.4,889.5 L459.9,889.4 L460.4,889.3 L460.9,889.3 L461.4,889.2 L461.9,889.1 L462.4,889.1 L462.9,889.0 L463.4,888.9 L463.9,888.9 L464.4,888.8 L464.9,888.8 L465.4,888.7 L465.9,888.7 L466.4,888.6 L466.9,888.5 L467.4,888.5 L467.9,888.5 L468.4,888.4 L468.9,888.4 L469.4,888.3 L469.9,888.3 L470.4,888.3 L470.9,888.2 L471.4,888.2 L471.9,888.2 L472.0,888.2 L472.4,888.2 L472.9,888.2 L473.4,888.2 L473.9,888.2 L474.4,888.1 L474.9,888.1 L475.4,888.1 L475.9,888.1 L476.4,888.1 L476.9,888.1 L477.4,888.1 L477.9,888.1 L478.4,888.0 L478.9,888.0 L479.4,888.0 L479.9,888.0 L480.4,888.0 L480.9,888.0 L481.4,888.0 L481.9,888.0 L482.4,887.9 L482.9,887.9 L483.4,887.9 L483.9,887.9 L484.4,887.9 L484.9,887.9 L485.4,887.9 L485.9,887.9 L486.4,887.9 L486.9,887.9 L487.4,887.9 L487.9,887.8 L488.4,887.8 L488.9,887.8 L489.4,887.8 L489.9,887.8 L490.4,887.8 L490.9,887.8 L491.4,887.8 L491.9,887.8 L492.4,887.8 L493.0,887.8 L493.5,887.8 L494.0,887.8 L494.5,887.8 L495.0,887.8 L495.5,887.7 L496.0,887.7 L496.5,887.7 L497.0,887.7 L497.5,887.7 L498.0,887.7 L498.5,887.7 L499.0,887.7 L499.5,887.7 L500.0,887.7 L500.5,887.7 L501.0,887.7 L501.5,887.7 L502.0,887.7 L502.5,887.7 L503.0,887.7 L503.5,887.7 L504.0,887.7 L504.5,887.7"/>
<path class="c" d="M2.5,1057.6 L3.0,1057.6 L3.5,1057.6 L4.0,1057.7 L4.5,1057.7 L5.0,1057.7 L5.5,1057.7 L6.0,1057.7 L6.5,1057.8 L7.0,1057.8 L7.5,1057.8 L8.0,1057.8 L8.5,1057.8 L9.0,1057.8 L9.5,1057.9 L10.0,1057.9 L10.5,1057.9 L11.0,1057.9 L11.5,1057.9 L12.0,1057.9 L12.5,1057.9 L13.0,1058.0 L13.5,1058.0 L14.0,1058.0 L14.5,1058.0 L15.0,1058.0 L15.5,1058.0 L16.0,1058.0 L16.5,1058.0 L17.0,1058.1 L17.5,1058.1 L18.0,1058.1 L18.5,1058.1 L19.0,1058.1 L19.5,1058.1 L20.0,1058.1 L20.5,1058.1 L21.0,1058.1 L21.5,1058.1 L22.0,1058.2 L22.5,1058.2 L23.0,1058.2 L23.5,1058.2 L24.0,1058.2 L24.5,1058.2 L25.0,1058.2 L25.5,1058.2 L26.0,1058.2 L26.5,1058.2 L27.0,1058.2 L27.5,1058.2 L28.0,1058.2 L28.5,1058.3 L29.0,1058.3 L29.5,1058.3 L30.0,1058.3 L30.5,1058.3 L31.0,1058.3 L31.5,1058.3 L32.0,1058.3 L32.5,1058.3 L33.0,1058.3 L33.5,1058.3 L34.0,1058.3 L34.5,1058.3 L35.0,1058.3 L35.5,1058.3 L36.0,1058.3 L36.5,1058.3 L37.0,1058.3 L37.5,1058.3 L38.0,1058.3 L38.5,1058.3 L39.0,1058.3 L39.5,1058.3 L40.0,1058.3 L40.5,1058.3 L41.0,1058.3 L41.5,1058.3 L42.0,1058.3 L42.5,1058.3 L43.0,1058.3 L43.5,1058.3 L44.0,1058.4 L44.5,1058.4 L45.0,1058.4 L45.5,1058.4 L46.0,1058.4 L46.5,1058.4 L47.0,1058.4 L47.5,1058.4 L48.0,1058.4 L48.5,1058.4 L49.0,1058.4 L49.5,1058.4 L49.9,1058.4 L50.0,1058.4 L50.5,1058.4 L51.0,1058.4 L51.5,1058.4 L52.0,1058.4 L52.5,1058.4 L53.0,1058.3 L53.5,1058.3 L54.0,1058.3 L54.5,1058.3 L55.0,1058.3 L55.5,1058.3 L56.0,1058.3 L56.5,1058.3 L57.0,1058.3 L57.5,1058.3 L58.0,1058.3 L58.5,1058.3 L59.0,1058.3 L59.5,1058.3 L60.0,1058.3 L60.5,1058.3 L61.0,1058.3 L61.5,1058.3 L62.0,1058.3 L62.5,1058.2 L63.0,1058.2 L63.5,1058.2 L64.0,1058.2 L64.5,1058.2 L65.0,1058.2 L65.5,1058.2 L66.0,1058.2 L66.5,1058.2 L67.0,1058.1 L67.5,1058.1 L68.0,1058.1 L68.5,1058.1 L69.0,1058.1 L69.5,1058.1 L70.0,1058.1 L70.5,1058.1 L71.0,1058.0 L71.5,1058.0 L72.0,1058.0 L72.5,1058.0 L73.0,1058.0 L73.5,1058.0 L74.0,1057.9 L74.5,1057.9 L75.0,1057.9 L75.5,1057.9 L76.0,1057.9 L76.5,1057.9 L77.0,1057.8 L77.5,1057.8 L78.0,1057.8 L78.5,1057.8 L79.0,1057.8 L79.5,1057.7 L80.0,1057.7 L80.5,1057.7 L81.0,1057.7 L81.5,1057.6 L82.0,1057.6 L82.6,1057.6 L83.1,1057.6 L83.6,1057.6 L84.1,1057.5 L84.6,1057.5 L85.1,1057.5 L85.6,1057.5 L86.1,1057.4 L86.6,1057.4 L87.1,1057.4 L87.6,1057.4 L88.1,1057.3 L88.6,1057.3 L89.1,1057.3 L89.6,1057.2 L90.1,1057.2 L90.6,1057.2 L91.1,1057.2 L91.6,1057.1 L92.1,1057.1 L92.6,1057.1 L93.1,1057.0 L93.6,1057.0 L94.1,1057.0 L94.6,1057.0 L95.1,1056.9 L95.6,1056.9 L96.1,1056.9 L96.6,1056.8 L97.1,1056.8 L97.6,1056.8 L98.1,1056.7 L98.6,1056.7 L99.1,1056.7 L99.6,1056.6 L99.8,1056.6 L100.1,1056.6 L100.6,1056.5 L101.1,1056.5 L101.6,1056.4 L102.1,1056.4 L102.6,1056.3 L103.1,1056.2 L103.6,1056.2 L104.1,1056.1 L104.6,1056.0 L105.1,1055.9 L105.6,1055.8 L106.1,1055.7 L106.6,1055.6 L107.1,1055.5 L107.6,1055.3 L108.1,1055.2 L108.6,1055.1 L109.1,1055.0 L109.6,1054.8 L110.1,1054.7 L110.6,1054.6 L111.1,1054.4 L111.6,1054.3 L112.1,1054.2 L112.6,1054.0 L113.1,1053.9 L113.6,1053.7 L114.1,1053.6 L114.6,1053.4 L114.7,1053.4 L115.1,1053.3 L115.6,1053.1 L116.1,1052.9 L116.6,1052.8 L117.1,1052.6 L117.6,1052.4 L118.1,1052.2 L118.6,1052.0 L119.1,1051.7 L119.6,1051.5 L120.1,1051.3 L120.6,1051.0 L121.1,1050.8 L121.6,1050.5 L122.1,1050.3 L122.6,1050.0 L123.1,1049.8 L123.6,1049.5 L124.1,1049.2 L124.6,1049.0 L125.1,1048.7 L125.6,1048.4 L126.1,1048.1 L126.6,1047.9 L127.1,1047.6 L127.6,1047.3 L128.1,1047.0 L128.6,1046.8 L129.1,1046.5 L129.6,1046.2 L130.0,1046.0 L130.1,1045.9 L130.6,1045.7 L131.1,1045.4 L131.6,1045.2 L132.1,1044.9 L132.6,1044.6 L133.1,1044.4 L133.6,1044.1 L134.1,1043.8 L134.6,1043.6 L135.1,1043.3 L135.6,1043.0 L136.1,1042.7 L136.6,1042.4 L137.1,1042.1 L137.6,1041.8 L138.1,1041.5 L138.6,1041.1 L139.1,1040.7 L139.6,1040.4 L140.1,1040.0 L140.3,1039.8 L140.6,1039.6 L141.1,1039.1 L141.6,1038.6 L142.1,1038.1 L142.6,1037.5 L143.1,1036.9 L143.6,1036.3 L144.1,1035.7 L144.6,1035.0 L145.1,1034.3 L145.6,1033.6 L146.1,1032.9 L146.6,1032.2 L147.1,1031.5 L147.6,1030.8 L148.1,1030.0 L148.6,1029.3 L149.1,1028.6 L149.6,1027.8 L150.1,1027.1 L150.6,1026.4 L150.6,1026.4 L151.1,1025.7 L151.6,1025.0 L152.1,1024.3 L152.6,1023.5 L153.1,1022.8 L153.6,1022.0 L154.1,1021.2 L154.6,1020.5 L155.1,1019.7 L155.6,1018.9 L156.1,1018.1 L156.6,1017.4 L157.1,1016.6 L157.6,1015.9 L158.1,1015.1 L158.6,1014.4 L158.8,1014.1 L159.1,1013.7 L159.6,1012.9 L160.1,1012.1 L160.6,1011.2 L161.1,1010.4 L161.6,1009.6 L162.1,1008.9 L162.6,1008.2 L163.1,1007.6 L163.6,1007.1 L164.0,1006.9 L164.1,1006.8 L164.6,1006.5 L165.1,1006.1 L165.6,1005.8 L166.1,1005.6 L166.6,1005.3 L167.1,1005.1 L167.6,1005.0 L168.1,1004.9 L168.6,1004.8 L168.7,1004.8 L169.1,1004.9 L169.6,1004.9 L170.1,1005.1 L170.6,1005.3 L171.1,1005.6 L171.6,1005.9 L172.1,1006.2 L172.6,1006.6 L173.1,1007.0 L173.6,1007.4 L174.1,1007.8 L174.2,1007.9 L174.6,1008.3 L175.1,1009.0 L175.6,1009.8 L176.1,1010.7 L176.6,1011.8 L177.1,1012.9 L177.6,1014.1 L178.1,1015.3 L178.6,1016.4 L179.1,1017.6 L179.4,1018.2 L179.6,1018.7 L180.1,1019.9 L180.6,1021.1 L181.1,1022.3 L181.6,1023.6 L182.1,1024.8 L182.6,1026.1 L183.1,1027.3 L183.6,1028.5 L184.1,1029.7 L184.5,1030.6 L184.6,1030.7 L185.1,1031.8 L185.6,1032.8 L186.1,1033.9 L186.6,1034.9 L187.1,1035.9 L187.6,1036.9 L188.1,1037.9 L188.6,1038.8 L189.1,1039.6 L189.6,1040.4 L190.1,1041.1 L190.6,1041.8 L190.7,1041.9 L191.1,1042.4 L191.6,1042.9 L192.1,1043.5 L192.6,1044.1 L193.1,1044.6 L193.6,1045.2 L194.1,1045.6 L194.6,1046.1 L195.1,1046.4 L195.6,1046.7 L196.1,1046.9 L196.6,1047.0 L196.9,1047.0 L197.1,1047.0 L197.6,1047.0 L198.1,1047.0 L198.6,1047.0 L199.1,1046.9 L199.6,1046.9 L200.1,1046.8 L200.6,1046.7 L201.1,1046.7 L201.6,1046.6 L202.1,1046.5 L202.6,1046.4 L203.1,1046.4 L203.6,1046.3 L204.1,1046.2 L204.6,1046.1 L205.1,1046.0 L205.1,1046.0 L205.6,1045.9 L206.1,1045.8 L206.6,1045.6 L207.1,1045.5 L207.6,1045.3 L208.1,1045.1 L208.6,1044.9 L209.1,1044.7 L209.6,1044.4 L210.1,1044.2 L210.6,1044.0 L211.1,1043.7 L211.6,1043.4 L212.1,1043.2 L212.6,1042.9 L213.1,1042.6 L213.6,1042.3 L214.1,1042.0 L214.4,1041.9 L214.6,1041.7 L215.1,1041.4 L215.6,1041.1 L216.1,1040.7 L216.6,1040.3 L217.1,1039.9 L217.6,1039.5 L218.1,1039.1 L218.6,1038.7 L219.1,1038.2 L219.6,1037.8 L220.1,1037.3 L220.6,1036.8 L221.1,1036.3 L221.6,1035.7 L222.1,1035.2 L222.6,1034.7 L222.6,1034.6 L223.1,1034.0 L223.6,1033.4 L224.1,1032.8 L224.6,1032.2 L225.1,1031.5 L225.6,1030.7 L226.1,1030.0 L226.7,1029.2 L227.2,1028.4 L227.7,1027.6 L228.2,1026.7 L228.7,1025.8 L229.2,1024.9 L229.4,1024.4 L229.7,1023.9 L230.2,1022.8 L230.7,1021.7 L231.2,1020.5 L231.7,1019.3 L232.2,1018.0 L232.7,1016.7 L233.2,1015.3 L233.7,1013.8 L234.2,1012.4 L234.7,1010.9 L235.0,1010.0 L235.2,1009.4 L235.7,1007.8 L236.2,1006.1 L236.7,1004.4 L237.2,1002.6 L237.7,1000.8 L238.2,998.9 L238.7,997.0 L239.2,995.1 L239.7,993.2 L240.1,991.4 L240.2,991.2 L240.7,989.3 L241.2,987.3 L241.7,985.2 L242.2,983.2 L242.7,981.1 L243.2,979.0 L243.7,976.8 L244.2,974.7 L244.7,972.5 L245.0,970.9 L245.2,970.3 L245.7,968.2 L246.2,966.1 L246.7,963.9 L247.2,961.6 L247.7,959.2 L248.1,957.1 L248.2,956.6 L248.7,953.7 L249.2,950.5 L249.7,947.1 L250.2,943.7 L250.6,940.9 L250.7,940.2 L251.2,936.6 L251.7,932.8 L252.2,929.0 L252.7,925.1 L253.1,922.2 L253.2,921.4 L253.7,917.6 L254.2,913.9 L254.7,910.1 L255.2,906.4 L255.5,903.5 L255.7,902.6 L256.2,898.9 L256.7,895.1 L257.2,891.3 L257.7,887.6 L258.0,884.8 L258.2,883.8 L258.7,880.1 L259.2,876.3 L259.7,872.6 L260.2,868.8 L260.5,866.1 L260.7,865.1 L261.2,861.4 L261.7,857.7 L262.2,854.0 L262.7,850.2 L263.0,847.4 L263.2,846.2 L263.7,841.4 L264.2,836.4 L264.7,832.4 L264.9,831.2 L265.2,830.0 L265.7,828.2 L266.2,826.7 L266.7,825.7 L266.8,825.6 L267.2,825.1 L267.7,824.6 L268.2,824.2 L268.6,824.1 L268.7,824.1 L269.2,824.2 L269.7,824.5 L270.2,825.0 L270.7,825.5 L270.8,825.6 L271.2,826.2 L271.7,827.2 L272.2,828.5 L272.7,830.1 L273.0,831.2 L273.2,831.9 L273.7,834.6 L274.2,838.0 L274.7,841.7 L275.2,845.3 L275.5,847.4 L275.7,848.6 L276.2,851.6 L276.7,854.6 L277.2,857.6 L277.7,860.6 L278.2,863.5 L278.6,866.1 L278.7,866.5 L279.2,869.5 L279.7,872.5 L280.2,875.5 L280.7,878.5 L281.2,881.5 L281.7,884.5 L281.7,884.8 L282.2,887.6 L282.7,890.7 L283.2,893.7 L283.7,896.8 L284.2,899.8 L284.7,902.6 L284.9,903.5 L285.2,905.4 L285.7,908.0 L286.2,910.6 L286.7,913.1 L287.2,915.6 L287.7,918.0 L288.2,920.4 L288.6,922.2 L288.7,922.7 L289.2,925.0 L289.7,927.3 L290.2,929.5 L290.7,931.7 L291.2,933.8 L291.7,935.9 L292.2,937.9 L292.3,938.4 L292.7,939.9 L293.2,941.8 L293.7,943.8 L294.2,945.7 L294.7,947.6 L295.2,949.5 L295.7,951.4 L296.2,953.3 L296.7,955.2 L297.2,957.0 L297.7,958.8 L298.2,960.6 L298.7,962.4 L299.2,964.2 L299.7,965.9 L300.2,967.6 L300.7,969.3 L301.2,970.9 L301.7,972.6 L302.2,974.2 L302.7,975.7 L303.2,977.3 L303.7,978.8 L304.2,980.3 L304.7,981.7 L305.0,982.4 L305.2,983.1 L305.7,984.5 L306.2,985.9 L306.7,987.3 L307.2,988.6 L307.7,989.9 L308.2,991.2 L308.7,992.5 L309.2,993.7 L309.7,995.0 L310.2,996.2 L310.7,997.3 L311.2,998.5 L311.7,999.6 L312.2,1000.7 L312.7,1001.7 L313.2,1002.8 L313.7,1003.7 L314.2,1004.7 L314.3,1004.9 L314.7,1005.6 L315.2,1006.5 L315.7,1007.4 L316.2,1008.3 L316.7,1009.1 L317.2,1010.0 L317.7,1010.8 L318.2,1011.6 L318.7,1012.4 L319.2,1013.1 L319.7,1013.9 L320.2,1014.6 L320.7,1015.4 L321.2,1016.1 L321.7,1016.8 L322.2,1017.5 L322.7,1018.1 L323.2,1018.8 L323.7,1019.5 L324.2,1020.1 L324.7,1020.7 L325.2,1021.3 L325.5,1021.7 L325.7,1021.9 L326.2,1022.5 L326.7,1023.1 L327.2,1023.7 L327.7,1024.3 L328.2,1024.8 L328.7,1025.4 L329.2,1026.0 L329.7,1026.5 L330.2,1027.0 L330.7,1027.6 L331.2,1028.1 L331.7,1028.6 L332.2,1029.1 L332.7,1029.6 L333.2,1030.1 L333.7,1030.6 L334.2,1031.0 L334.7,1031.5 L335.2,1032.0 L335.7,1032.4 L336.2,1032.8 L336.7,1033.3 L337.2,1033.7 L337.7,1034.1 L338.2,1034.5 L338.6,1034.8 L338.7,1034.9 L339.2,1035.3 L339.7,1035.6 L340.2,1036.0 L340.7,1036.4 L341.2,1036.7 L341.7,1037.1 L342.2,1037.4 L342.7,1037.8 L343.2,1038.1 L343.7,1038.4 L344.2,1038.8 L344.7,1039.1 L345.2,1039.4 L345.7,1039.7 L346.2,1040.0 L346.7,1040.3 L347.2,1040.6 L347.7,1040.9 L348.2,1041.2 L348.7,1041.5 L349.2,1041.8 L349.7,1042.1 L350.2,1042.4 L350.7,1042.6 L351.2,1042.9 L351.7,1043.2 L352.2,1043.4 L352.7,1043.7 L353.2,1044.0 L353.6,1044.1 L353.7,1044.2 L354.2,1044.5 L354.7,1044.7 L355.2,1045.0 L355.7,1045.3 L356.2,1045.5 L356.7,1045.8 L357.2,1046.0 L357.7,1046.3 L358.2,1046.5 L358.7,1046.8 L359.2,1047.0 L359.7,1047.3 L360.2,1047.5 L360.7,1047.7 L361.2,1048.0 L361.7,1048.2 L362.2,1048.4 L362.7,1048.7 L363.2,1048.9 L363.7,1049.1 L364.2,1049.3 L364.7,1049.5 L365.2,1049.7 L365.7,1049.9 L366.2,1050.1 L366.7,1050.3 L367.2,1050.5 L367.7,1050.7 L368.2,1050.9 L368.7,1051.1 L369.2,1051.2 L369.7,1051.4 L370.2,1051.6 L370.4,1051.6 L370.8,1051.7 L371.3,1051.9 L371.8,1052.1 L372.3,1052.2 L372.8,1052.4 L373.3,1052.5 L373.8,1052.7 L374.3,1052.9 L374.8,1053.0 L375.3,1053.2 L375.8,1053.3 L376.3,1053.5 L376.8,1053.6 L377.3,1053.8 L377.8,1053.9 L378.3,1054.1 L378.8,1054.2 L379.3,1054.3 L379.8,1054.5 L380.3,1054.6 L380.8,1054.7 L381.3,1054.8 L381.8,1054.9 L382.3,1055.0 L382.8,1055.2 L383.3,1055.2 L383.8,1055.3 L384.3,1055.4 L384.8,1055.5 L385.3,1055.6 L385.8,1055.6 L386.3,1055.7 L386.8,1055.7 L387.2,1055.7 L387.3,1055.7 L387.8,1055.8 L388.3,1055.8 L388.8,1055.8 L389.3,1055.9 L389.8,1055.9 L390.3,1055.9 L390.8,1055.9 L391.3,1056.0 L391.8,1056.0 L392.3,1056.0 L392.8,1056.0 L393.3,1056.1 L393.8,1056.1 L394.3,1056.1 L394.8,1056.1 L395.3,1056.2 L395.8,1056.2 L396.3,1056.2 L396.8,1056.2 L397.3,1056.2 L397.8,1056.3 L398.3,1056.3 L398.8,1056.3 L399.3,1056.3 L399.8,1056.3 L400.3,1056.3 L400.8,1056.4 L401.3,1056.4 L401.8,1056.4 L402.3,1056.4 L402.8,1056.4 L403.3,1056.4 L403.8,1056.4 L404.3,1056.4 L404.8,1056.4 L405.3,1056.5 L405.8,1056.5 L406.3,1056.5 L406.8,1056.5 L407.3,1056.5 L407.8,1056.5 L408.3,1056.5 L408.8,1056.5 L409.3,1056.5 L409.7,1056.5 L409.8,1056.5 L410.3,1056.5 L410.8,1056.5 L411.3,1056.5 L411.8,1056.5 L412.3,1056.5 L412.8,1056.5 L413.3,1056.5 L413.8,1056.5 L414.3,1056.5 L414.8,1056.5 L415.3,1056.5 L415.8,1056.5 L416.3,1056.5 L416.8,1056.5 L417.3,1056.5 L417.8,1056.5 L418.3,1056.5 L418.8,1056.5 L419.3,1056.5 L419.8,1056.5 L420.3,1056.5 L420.8,1056.5 L421.3,1056.5 L421.8,1056.5 L422.3,1056.5 L422.8,1056.5 L423.3,1056.5 L423.8,1056.5 L424.3,1056.5 L424.8,1056.5 L425.3,1056.5 L425.8,1056.5 L426.3,1056.5 L426.8,1056.5 L427.3,1056.5 L427.8,1056.5 L428.3,1056.5 L428.8,1056.5 L429.3,1056.5 L429.8,1056.5 L430.3,1056.5 L430.8,1056.4 L431.3,1056.4 L431.8,1056.4 L432.3,1056.4 L432.8,1056.4 L433.3,1056.4 L433.8,1056.4 L434.3,1056.4 L434.8,1056.4 L435.3,1056.4 L435.8,1056.4 L436.3,1056.4 L436.8,1056.4 L437.3,1056.4 L437.8,1056.4 L438.3,1056.4 L438.8,1056.4 L439.3,1056.4 L439.8,1056.4 L440.3,1056.4 L440.8,1056.4 L441.3,1056.4 L441.8,1056.4 L442.3,1056.4 L442.8,1056.4 L443.3,1056.4 L443.8,1056.4 L444.3,1056.4 L444.8,1056.4 L445.3,1056.4 L445.8,1056.4 L446.3,1056.4 L446.8,1056.4 L447.3,1056.4 L447.8,1056.4 L448.3,1056.4 L448.8,1056.4 L449.3,1056.4 L449.8,1056.4 L450.3,1056.4 L450.8,1056.4 L451.3,1056.3 L451.8,1056.3 L452.3,1056.3 L452.8,1056.3 L453.3,1056.3 L453.8,1056.3 L454.3,1056.3 L454.8,1056.3 L455.3,1056.3 L455.8,1056.3 L456.3,1056.3 L456.8,1056.3 L457.3,1056.3 L457.8,1056.3 L458.3,1056.3 L458.3,1056.3 L458.8,1056.3 L459.3,1056.3 L459.8,1056.3 L460.3,1056.3 L460.8,1056.3 L461.3,1056.3 L461.8,1056.3 L462.3,1056.3 L462.8,1056.3 L463.3,1056.2 L463.8,1056.2 L464.3,1056.2 L464.8,1056.2 L465.3,1056.2 L465.8,1056.2 L466.3,1056.2 L466.8,1056.2 L467.3,1056.2 L467.8,1056.2 L468.3,1056.1 L468.8,1056.1 L469.3,1056.1 L469.8,1056.1 L470.3,1056.1 L470.8,1056.1 L471.3,1056.1 L471.8,1056.1 L472.3,1056.0 L472.8,1056.0 L473.3,1056.0 L473.8,1056.0 L474.3,1056.0 L474.8,1056.0 L475.3,1055.9 L475.8,1055.9 L476.3,1055.9 L476.8,1055.9 L477.3,1055.9 L477.8,1055.9 L478.3,1055.8 L478.8,1055.8 L479.3,1055.8 L479.8,1055.8 L480.3,1055.8 L480.8,1055.8 L481.3,1055.7 L481.8,1055.7 L482.3,1055.7 L482.8,1055.7 L483.3,1055.7 L483.8,1055.6 L484.3,1055.6 L484.8,1055.6 L485.3,1055.6 L485.8,1055.5 L486.3,1055.5 L486.8,1055.5 L487.3,1055.5 L487.8,1055.5 L488.3,1055.4 L488.8,1055.4 L489.3,1055.4 L489.8,1055.4 L490.3,1055.3 L490.8,1055.3 L491.3,1055.3 L491.8,1055.3 L492.3,1055.2 L492.8,1055.2 L493.3,1055.2 L493.8,1055.2 L494.3,1055.1 L494.8,1055.1 L495.3,1055.1 L495.8,1055.1 L496.3,1055.0 L496.8,1055.0 L497.3,1055.0 L497.8,1055.0 L498.3,1054.9 L498.8,1054.9 L499.3,1054.9 L499.8,1054.9 L500.3,1054.8 L500.8,1054.8 L501.3,1054.8 L501.8,1054.8 L502.3,1054.7 L502.8,1054.7 L503.3,1054.7 L503.8,1054.6 L504.3,1054.6 L504.8,1054.6 L505.3,1054.6 L505.8,1054.5 L506.3,1054.5 L506.8,1054.5 L507.3,1054.5 L507.8,1054.4"/>
<path class="c" d="M2.5,1181.3 L3.0,1181.4 L3.5,1181.4 L4.0,1181.4 L4.5,1181.4 L5.0,1181.4 L5.5,1181.4 L6.0,1181.4 L6.5,1181.5 L7.0,1181.5 L7.5,1181.5 L8.0,1181.5 L8.5,1181.5 L9.0,1181.5 L9.5,1181.5 L10.0,1181.5 L10.5,1181.5 L11.0,1181.6 L11.5,1181.6 L12.0,1181.6 L12.5,1181.6 L13.0,1181.6 L13.5,1181.6 L14.0,1181.6 L14.5,1181.6 L15.0,1181.6 L15.5,1181.6 L16.0,1181.7 L16.5,1181.7 L17.0,1181.7 L17.5,1181.7 L18.0,1181.7 L18.5,1181.7 L19.0,1181.7 L19.5,1181.7 L20.0,1181.7 L20.5,1181.7 L21.0,1181.7 L21.5,1181.7 L22.0,1181.7 L22.5,1181.7 L23.0,1181.7 L23.5,1181.7 L24.0,1181.8 L24.5,1181.8 L25.0,1181.8 L25.5,1181.8 L26.0,1181.8 L26.5,1181.8 L27.0,1181.8 L27.5,1181.8 L28.0,1181.8 L28.5,1181.8 L29.0,1181.8 L29.5,1181.8 L30.0,1181.8 L30.5,1181.8 L31.0,1181.8 L31.5,1181.8 L32.0,1181.8 L32.5,1181.8 L33.0,1181.8 L33.5,1181.8 L34.0,1181.8 L34.5,1181.8 L35.0,1181.8 L35.5,1181.8 L36.0,1181.8 L36.5,1181.8 L37.0,1181.8 L37.5,1181.8 L38.0,1181.8 L38.5,1181.8 L39.0,1181.8 L39.5,1181.8 L40.0,1181.8 L40.5,1181.8 L41.0,1181.8 L41.5,1181.8 L42.0,1181.8 L42.5,1181.8 L43.0,1181.8 L43.5,1181.8 L44.0,1181.8 L44.5,1181.8 L45.0,1181.8 L45.5,1181.8 L46.0,1181.8 L46.5,1181.8 L47.0,1181.8 L47.5,1181.8 L48.0,1181.8 L48.5,1181.8 L49.0,1181.8 L49.5,1181.8 L49.9,1181.8 L50.0,1181.8 L50.5,1181.8 L51.0,1181.8 L51.5,1181.8 L52.0,1181.8 L52.5,1181.8 L53.0,1181.8 L53.5,1181.8 L54.0,1181.8 L54.5,1181.8 L55.0,1181.8 L55.5,1181.8 L56.0,1181.8 L56.5,1181.8 L57.0,1181.8 L57.5,1181.8 L58.0,1181.8 L58.5,1181.7 L59.0,1181.7 L59.5,1181.7 L60.0,1181.7 L60.5,1181.7 L61.0,1181.7 L61.5,1181.7 L62.0,1181.7 L62.5,1181.7 L63.0,1181.6 L63.5,1181.6 L64.0,1181.6 L64.5,1181.6 L65.0,1181.6 L65.5,1181.6 L66.0,1181.5 L66.5,1181.5 L67.0,1181.5 L67.5,1181.5 L68.0,1181.5 L68.5,1181.5 L69.0,1181.4 L69.5,1181.4 L70.0,1181.4 L70.5,1181.4 L71.0,1181.4 L71.5,1181.3 L72.0,1181.3 L72.5,1181.3 L73.0,1181.3 L73.5,1181.3 L74.0,1181.2 L74.5,1181.2 L75.0,1181.2 L75.5,1181.2 L76.0,1181.1 L76.5,1181.1 L77.0,1181.1 L77.5,1181.1 L78.0,1181.1 L78.5,1181.0 L79.0,1181.0 L79.5,1181.0 L80.0,1181.0 L80.5,1180.9 L81.0,1180.9 L81.5,1180.9 L82.0,1180.9 L82.5,1180.8 L83.0,1180.8 L83.5,1180.8 L84.0,1180.8 L84.5,1180.7 L85.0,1180.7 L85.5,1180.7 L86.0,1180.7 L86.5,1180.6 L87.0,1180.6 L87.3,1180.6 L87.5,1180.6 L88.0,1180.5 L88.5,1180.5 L89.0,1180.5 L89.5,1180.5 L90.0,1180.4 L90.5,1180.4 L91.0,1180.4 L91.5,1180.3 L92.0,1180.3 L92.5,1180.2 L93.0,1180.2 L93.5,1180.2 L94.0,1180.1 L94.5,1180.1 L95.0,1180.0 L95.5,1180.0 L96.0,1179.9 L96.5,1179.9 L97.0,1179.8 L97.5,1179.8 L98.0,1179.7 L98.5,1179.7 L99.0,1179.6 L99.5,1179.6 L100.0,1179.5 L100.5,1179.5 L101.0,1179.4 L101.5,1179.4 L102.0,1179.3 L102.5,1179.2 L103.0,1179.2 L103.5,1179.1 L104.0,1179.1 L104.5,1179.0 L105.0,1179.0 L105.5,1178.9 L106.0,1178.8 L106.5,1178.8 L107.0,1178.7 L107.5,1178.7 L108.0,1178.6 L108.5,1178.5 L109.0,1178.5 L109.5,1178.4 L110.0,1178.4 L110.5,1178.3 L111.0,1178.2 L111.5,1178.2 L112.0,1178.1 L112.3,1178.1 L112.5,1178.1 L113.0,1178.0 L113.5,1177.9 L114.0,1177.9 L114.5,1177.8 L115.0,1177.8 L115.5,1177.7 L116.0,1177.7 L116.5,1177.6 L117.0,1177.5 L117.5,1177.5 L118.0,1177.4 L118.5,1177.3 L119.0,1177.3 L119.5,1177.2 L120.0,1177.2 L120.5,1177.1 L121.0,1177.0 L121.5,1177.0 L122.0,1176.9 L122.5,1176.8 L123.0,1176.8 L123.5,1176.7 L124.0,1176.6 L124.5,1176.5 L125.0,1176.5 L125.5,1176.4 L126.0,1176.3 L126.5,1176.2 L127.0,1176.2 L127.5,1176.1 L128.0,1176.0 L128.5,1175.9 L129.0,1175.8 L129.5,1175.7 L130.0,1175.6 L130.0,1175.6 L130.5,1175.5 L131.0,1175.5 L131.5,1175.4 L132.0,1175.3 L132.5,1175.1 L133.0,1175.0 L133.5,1174.9 L134.0,1174.8 L134.5,1174.7 L135.0,1174.6 L135.5,1174.5 L136.0,1174.3 L136.5,1174.2 L137.0,1174.1 L137.5,1174.0 L138.0,1173.8 L138.5,1173.7 L139.0,1173.5 L139.5,1173.4 L140.0,1173.3 L140.5,1173.1 L141.0,1173.0 L141.5,1172.8 L142.0,1172.7 L142.3,1172.6 L142.5,1172.5 L143.0,1172.3 L143.5,1172.2 L144.0,1172.0 L144.5,1171.8 L145.0,1171.6 L145.5,1171.4 L146.0,1171.2 L146.5,1171.0 L147.0,1170.7 L147.5,1170.5 L148.0,1170.3 L148.5,1170.1 L149.0,1169.9 L149.5,1169.7 L150.0,1169.4 L150.5,1169.2 L151.0,1169.0 L151.5,1168.8 L152.0,1168.7 L152.5,1168.5 L152.6,1168.4 L153.0,1168.3 L153.5,1168.1 L154.0,1167.9 L154.5,1167.7 L155.0,1167.5 L155.5,1167.3 L156.0,1167.1 L156.5,1166.9 L157.0,1166.8 L157.5,1166.6 L158.0,1166.4 L158.5,1166.3 L159.0,1166.2 L159.5,1166.1 L160.0,1166.0 L160.5,1166.0 L160.9,1166.0 L161.0,1166.0 L161.5,1166.0 L162.0,1166.0 L162.5,1166.0 L163.0,1166.0 L163.5,1166.0 L164.0,1166.0 L164.5,1166.0 L165.0,1166.0 L165.5,1166.0 L166.0,1166.0 L166.5,1166.0 L167.0,1166.0 L167.5,1166.0 L168.0,1166.0 L168.1,1166.0 L168.5,1166.0 L169.0,1166.0 L169.5,1166.1 L170.0,1166.3 L170.5,1166.4 L171.0,1166.6 L171.5,1166.8 L172.0,1167.1 L172.5,1167.3 L173.0,1167.6 L173.5,1167.8 L174.0,1168.1 L174.5,1168.3 L175.0,1168.6 L175.5,1168.8 L176.0,1169.0 L176.5,1169.2 L177.0,1169.4 L177.3,1169.5 L177.5,1169.5 L178.0,1169.6 L178.5,1169.8 L179.0,1169.9 L179.5,1170.1 L180.0,1170.2 L180.5,1170.3 L181.0,1170.5 L181.5,1170.6 L182.0,1170.7 L182.5,1170.8 L183.0,1171.0 L183.5,1171.1 L184.0,1171.2 L184.5,1171.2 L185.0,1171.3 L185.5,1171.4 L186.0,1171.4 L186.5,1171.5 L187.0,1171.5 L187.5,1171.5 L187.6,1171.5 L188.0,1171.5 L188.5,1171.5 L189.0,1171.5 L189.5,1171.5 L190.0,1171.4 L190.5,1171.4 L191.0,1171.3 L191.5,1171.2 L192.0,1171.2 L192.5,1171.1 L193.0,1171.0 L193.5,1170.9 L194.0,1170.8 L194.5,1170.8 L195.0,1170.7 L195.5,1170.6 L195.9,1170.5 L196.0,1170.5 L196.5,1170.3 L197.0,1170.2 L197.5,1170.0 L198.0,1169.9 L198.5,1169.7 L199.0,1169.5 L199.5,1169.2 L200.0,1169.0 L200.5,1168.7 L201.0,1168.5 L201.5,1168.2 L202.0,1167.9 L202.5,1167.6 L203.0,1167.3 L203.5,1167.0 L204.0,1166.7 L204.5,1166.4 L205.0,1166.1 L205.5,1165.7 L206.0,1165.4 L206.1,1165.4 L206.5,1165.1 L207.0,1164.8 L207.5,1164.5 L208.0,1164.2 L208.5,1163.8 L209.0,1163.5 L209.5,1163.1 L210.0,1162.8 L210.5,1162.4 L211.0,1162.0 L211.5,1161.6 L212.0,1161.2 L212.5,1160.8 L213.0,1160.4 L213.5,1159.9 L214.0,1159.5 L214.5,1159.0 L215.0,1158.5 L215.5,1158.1 L216.0,1157.6 L216.4,1157.1 L216.5,1157.0 L217.0,1156.5 L217.5,1155.9 L218.0,1155.4 L218.5,1154.7 L219.0,1154.1 L219.5,1153.4 L220.0,1152.8 L220.5,1152.0 L221.0,1151.3 L221.5,1150.5 L222.0,1149.7 L222.5,1148.8 L223.0,1148.0 L223.5,1147.1 L223.6,1146.8 L224.0,1146.1 L224.5,1145.0 L225.0,1143.9 L225.5,1142.7 L226.0,1141.4 L226.5,1140.0 L227.0,1138.6 L227.5,1137.2 L228.0,1135.7 L228.5,1134.3 L228.8,1133.5 L229.0,1132.7 L229.5,1131.2 L230.0,1129.5 L230.5,1127.8 L231.0,1126.0 L231.5,1124.2 L232.0,1122.3 L232.5,1120.5 L232.9,1119.0 L233.0,1118.6 L233.5,1116.7 L234.0,1114.7 L234.5,1112.7 L235.0,1110.7 L235.5,1108.7 L236.0,1106.6 L236.5,1104.6 L237.0,1102.6 L237.0,1102.6 L237.5,1100.6 L238.0,1098.6 L238.5,1096.6 L239.0,1094.6 L239.5,1092.6 L240.0,1090.6 L240.5,1088.6 L241.0,1086.6 L241.5,1084.6 L242.0,1082.6 L242.2,1082.0 L242.5,1080.6 L243.0,1078.6 L243.5,1076.7 L244.0,1074.8 L244.5,1072.8 L245.0,1070.9 L245.5,1068.9 L246.0,1066.9 L246.5,1064.8 L247.0,1062.7 L247.3,1061.4 L247.5,1060.5 L248.0,1058.1 L248.5,1055.7 L249.0,1053.2 L249.5,1050.6 L250.0,1048.0 L250.5,1045.4 L251.0,1042.9 L251.4,1040.8 L251.5,1040.4 L252.0,1037.8 L252.5,1035.3 L253.0,1032.8 L253.5,1030.2 L254.0,1027.7 L254.5,1025.2 L255.0,1022.8 L255.5,1020.4 L255.5,1020.3 L256.0,1018.0 L256.5,1015.6 L257.0,1013.3 L257.5,1011.0 L258.0,1008.8 L258.5,1006.6 L259.0,1004.4 L259.5,1002.3 L259.7,1001.7 L260.0,1000.2 L260.5,998.1 L261.0,995.9 L261.5,993.8 L262.0,991.8 L262.5,989.9 L263.0,988.3 L263.5,986.9 L263.8,986.3 L264.0,985.8 L264.5,984.7 L265.0,983.6 L265.5,982.7 L266.0,981.8 L266.5,981.1 L267.0,980.5 L267.5,980.2 L267.9,980.1 L268.0,980.1 L268.5,980.3 L269.0,980.8 L269.5,981.4 L270.0,982.2 L270.5,983.1 L271.0,984.1 L271.5,985.2 L272.0,986.3 L272.0,986.3 L272.5,987.8 L273.0,989.6 L273.5,991.8 L274.0,994.2 L274.5,996.8 L275.0,999.3 L275.1,999.7 L275.5,1002.0 L276.0,1004.9 L276.5,1008.1 L277.0,1011.2 L277.5,1014.4 L278.0,1017.3 L278.2,1018.2 L278.5,1020.1 L279.0,1022.7 L279.5,1025.2 L280.0,1027.7 L280.5,1030.1 L281.0,1032.6 L281.5,1035.0 L282.0,1037.4 L282.3,1038.8 L282.5,1039.9 L283.0,1042.5 L283.5,1045.1 L284.0,1047.8 L284.5,1050.4 L285.0,1052.9 L285.5,1055.4 L286.0,1057.7 L286.4,1059.4 L286.5,1059.8 L287.0,1061.9 L287.5,1063.8 L288.0,1065.8 L288.5,1067.6 L289.0,1069.4 L289.5,1071.2 L290.0,1072.9 L290.5,1074.6 L291.0,1076.3 L291.5,1077.9 L292.0,1079.5 L292.5,1081.1 L293.0,1082.7 L293.5,1084.3 L294.0,1085.9 L294.5,1087.4 L295.0,1089.0 L295.5,1090.6 L295.6,1090.9 L296.0,1092.2 L296.5,1093.8 L297.0,1095.4 L297.5,1097.0 L298.0,1098.6 L298.5,1100.2 L299.0,1101.8 L299.5,1103.4 L300.0,1104.9 L300.5,1106.4 L301.0,1107.8 L301.5,1109.3 L302.0,1110.6 L302.5,1111.9 L303.0,1113.2 L303.1,1113.3 L303.5,1114.4 L304.0,1115.5 L304.5,1116.7 L305.0,1117.8 L305.5,1118.9 L306.0,1120.0 L306.5,1121.1 L307.0,1122.1 L307.5,1123.1 L308.0,1124.1 L308.5,1125.1 L309.0,1126.1 L309.5,1127.0 L310.0,1127.9 L310.5,1128.8 L311.0,1129.7 L311.5,1130.5 L312.0,1131.4 L312.4,1132.0 L312.5,1132.2 L313.0,1133.0 L313.5,1133.7 L314.0,1134.5 L314.5,1135.3 L315.0,1136.0 L315.5,1136.7 L316.0,1137.5 L316.5,1138.2 L317.0,1138.8 L317.5,1139.5 L318.0,1140.2 L318.5,1140.9 L319.0,1141.5 L319.5,1142.1 L320.0,1142.8 L320.5,1143.4 L321.0,1144.0 L321.5,1144.6 L322.0,1145.1 L322.5,1145.7 L323.0,1146.3 L323.5,1146.8 L323.7,1147.0 L324.0,1147.4 L324.5,1147.9 L325.0,1148.5 L325.5,1149.0 L326.0,1149.5 L326.5,1150.1 L327.0,1150.6 L327.5,1151.1 L328.0,1151.6 L328.5,1152.1 L329.0,1152.6 L329.5,1153.1 L330.0,1153.6 L330.5,1154.0 L331.0,1154.5 L331.5,1154.9 L332.0,1155.4 L332.5,1155.8 L333.0,1156.2 L333.5,1156.7 L334.0,1157.1 L334.5,1157.5 L335.0,1157.9 L335.5,1158.3 L336.0,1158.6 L336.5,1159.0 L336.7,1159.1 L337.0,1159.3 L337.5,1159.7 L338.0,1160.0 L338.5,1160.4 L339.0,1160.7 L339.5,1161.0 L340.0,1161.3 L340.5,1161.7 L341.0,1162.0 L341.5,1162.3 L342.0,1162.6 L342.5,1162.9 L343.0,1163.2 L343.5,1163.5 L344.0,1163.8 L344.5,1164.0 L345.0,1164.3 L345.5,1164.6 L346.0,1164.9 L346.5,1165.1 L347.0,1165.4 L347.5,1165.6 L348.0,1165.9 L348.5,1166.2 L349.0,1166.4 L349.5,1166.6 L350.0,1166.9 L350.5,1167.1 L351.0,1167.4 L351.5,1167.6 L352.0,1167.8 L352.5,1168.0 L353.0,1168.3 L353.5,1168.5 L353.6,1168.5 L354.0,1168.7 L354.5,1168.9 L355.0,1169.1 L355.5,1169.3 L356.0,1169.5 L356.5,1169.8 L357.0,1170.0 L357.5,1170.2 L358.0,1170.4 L358.5,1170.6 L359.0,1170.8 L359.5,1171.0 L360.0,1171.2 L360.5,1171.4 L361.0,1171.6 L361.5,1171.8 L362.0,1172.0 L362.5,1172.1 L363.0,1172.3 L363.5,1172.5 L364.0,1172.7 L364.5,1172.9 L365.0,1173.0 L365.5,1173.2 L366.0,1173.4 L366.5,1173.5 L367.0,1173.7 L367.5,1173.8 L368.0,1174.0 L368.5,1174.1 L369.0,1174.3 L369.5,1174.4 L370.0,1174.5 L370.5,1174.6 L371.0,1174.8 L371.5,1174.9 L372.0,1175.0 L372.3,1175.0 L372.5,1175.1 L373.0,1175.2 L373.5,1175.3 L374.0,1175.4 L374.5,1175.5 L375.0,1175.6 L375.5,1175.7 L376.0,1175.8 L376.5,1175.9 L377.0,1176.0 L377.5,1176.1 L378.0,1176.2 L378.5,1176.3 L379.0,1176.3 L379.5,1176.4 L380.0,1176.5 L380.5,1176.6 L381.0,1176.7 L381.5,1176.8 L382.0,1176.8 L382.5,1176.9 L383.0,1177.0 L383.5,1177.1 L384.0,1177.1 L384.5,1177.2 L385.0,1177.3 L385.5,1177.3 L386.0,1177.4 L386.5,1177.4 L387.0,1177.5 L387.5,1177.5 L388.0,1177.6 L388.5,1177.6 L389.0,1177.7 L389.5,1177.7 L390.0,1177.8 L390.5,1177.8 L391.0,1177.8 L391.0,1177.8 L391.5,1177.9 L392.0,1177.9 L392.5,1178.0 L393.0,1178.0 L393.5,1178.0 L394.0,1178.1 L394.5,1178.1 L395.0,1178.1 L395.5,1178.1 L396.0,1178.2 L396.5,1178.2 L397.0,1178.2 L397.5,1178.3 L398.0,1178.3 L398.5,1178.3 L399.0,1178.3 L399.5,1178.4 L400.0,1178.4 L400.5,1178.4 L401.0,1178.4 L401.5,1178.5 L402.0,1178.5 L402.5,1178.5 L403.0,1178.5 L403.5,1178.5 L404.0,1178.6 L404.5,1178.6 L405.0,1178.6 L405.5,1178.6 L406.0,1178.6 L406.5,1178.7 L407.0,1178.7 L407.5,1178.7 L408.0,1178.7 L408.5,1178.7 L409.0,1178.7 L409.5,1178.7 L410.0,1178.8 L410.5,1178.8 L411.0,1178.8 L411.5,1178.8 L411.5,1178.8 L412.0,1178.8 L412.5,1178.8 L413.0,1178.8 L413.5,1178.8 L414.0,1178.8 L414.5,1178.8 L415.0,1178.8 L415.5,1178.8 L416.0,1178.9 L416.5,1178.9 L417.0,1178.9 L417.5,1178.9 L418.0,1178.9 L418.5,1178.9 L419.0,1178.9 L419.5,1178.9 L420.0,1178.9 L420.5,1178.9 L421.0,1178.9 L421.5,1178.9 L422.0,1178.9 L422.5,1179.0 L423.0,1179.0 L423.5,1179.0 L424.0,1179.0 L424.5,1179.0 L425.0,1179.0 L425.5,1179.0 L426.0,1179.0 L426.5,1179.0 L427.0,1179.0 L427.5,1179.0 L428.0,1179.0 L428.5,1179.0 L429.0,1179.0 L429.5,1179.0 L430.0,1179.0 L430.5,1179.1 L431.0,1179.1 L431.5,1179.1 L432.0,1179.1 L432.5,1179.1 L433.0,1179.1 L433.5,1179.1 L434.0,1179.1 L434.5,1179.1 L435.0,1179.1 L435.5,1179.1 L436.0,1179.1 L436.5,1179.1 L437.0,1179.1 L437.5,1179.1 L438.0,1179.1 L438.5,1179.1 L439.0,1179.1 L439.5,1179.1 L440.0,1179.1 L440.5,1179.1 L441.0,1179.1 L441.5,1179.1 L442.0,1179.1 L442.5,1179.1 L443.0,1179.1 L443.5,1179.1 L444.0,1179.1 L444.5,1179.1 L445.0,1179.1 L445.5,1179.2 L446.0,1179.2 L446.5,1179.2 L447.0,1179.2 L447.5,1179.2 L448.0,1179.2 L448.5,1179.2 L448.9,1179.2 L449.0,1179.2 L449.5,1179.2 L450.0,1179.2 L450.5,1179.2 L451.0,1179.1 L451.5,1179.1 L452.0,1179.1 L452.5,1179.1 L453.0,1179.1 L453.5,1179.1 L454.0,1179.1 L454.5,1179.1 L455.0,1179.1 L455.5,1179.1 L456.0,1179.1 L456.5,1179.1 L457.0,1179.1 L457.5,1179.1 L458.0,1179.0 L458.5,1179.0 L459.0,1179.0 L459.5,1179.0 L460.0,1179.0 L460.5,1179.0 L461.0,1179.0 L461.5,1179.0 L462.0,1178.9 L462.5,1178.9 L463.0,1178.9 L463.5,1178.9 L464.0,1178.9 L464.5,1178.9 L465.0,1178.8 L465.5,1178.8 L466.0,1178.8 L466.5,1178.8 L467.0,1178.8 L467.5,1178.8 L468.0,1178.7 L468.5,1178.7 L469.0,1178.7 L469.5,1178.7 L470.0,1178.7 L470.5,1178.7 L471.0,1178.6 L471.5,1178.6 L472.0,1178.6 L472.5,1178.6 L473.0,1178.6 L473.5,1178.5 L474.0,1178.5 L474.5,1178.5 L475.0,1178.5 L475.5,1178.5 L476.0,1178.4 L476.5,1178.4 L477.0,1178.4 L477.0,1178.4 L477.5,1178.4 L478.0,1178.4 L478.5,1178.3 L479.0,1178.3 L479.5,1178.3 L480.0,1178.3 L480.5,1178.3 L481.0,1178.2 L481.5,1178.2 L482.0,1178.2 L482.5,1178.2 L483.0,1178.1 L483.5,1178.1 L484.0,1178.1 L484.5,1178.0 L485.0,1178.0 L485.5,1178.0 L486.0,1178.0 L486.5,1177.9 L487.0,1177.9 L487.5,1177.9 L488.0,1177.8 L488.5,1177.8 L489.0,1177.8 L489.5,1177.7 L490.0,1177.7 L490.5,1177.7 L491.0,1177.6 L491.5,1177.6 L492.0,1177.6 L492.5,1177.5 L493.0,1177.5 L493.5,1177.5 L494.0,1177.4 L494.5,1177.4 L495.0,1177.4 L495.5,1177.3 L496.0,1177.3 L496.5,1177.2 L497.0,1177.2 L497.5,1177.2 L498.0,1177.1 L498.5,1177.1 L499.0,1177.0 L499.5,1177.0 L500.0,1177.0 L500.5,1176.9 L501.0,1176.9 L501.5,1176.8 L502.0,1176.8 L502.5,1176.8 L503.0,1176.7 L503.5,1176.7 L504.0,1176.6 L504.5,1176.6 L505.0,1176.5"/>
<path class="c" d="M718.7,258.2 L719.2,258.2 L719.7,258.2 L720.2,258.2 L720.7,258.2 L721.2,258.2 L721.7,258.2 L722.2,258.2 L722.7,258.2 L723.2,258.2 L723.7,258.3 L724.2,258.3 L724.7,258.3 L725.2,258.3 L725.7,258.3 L726.2,258.3 L726.7,258.3 L727.2,258.3 L727.7,258.3 L728.2,258.3 L728.7,258.3 L729.2,258.3 L729.7,258.3 L730.2,258.4 L730.7,258.4 L731.2,258.4 L731.7,258.4 L732.2,258.4 L732.7,258.4 L733.2,258.4 L733.7,258.4 L734.2,258.4 L734.7,258.4 L735.2,258.4 L735.7,258.4 L736.2,258.4 L736.7,258.4 L737.2,258.5 L737.7,258.5 L738.2,258.5 L738.7,258.5 L739.2,258.5 L739.7,258.5 L740.2,258.5 L740.7,258.5 L741.2,258.5 L741.7,258.5 L742.2,258.5 L742.7,258.5 L743.2,258.5 L743.7,258.5 L744.2,258.5 L744.7,258.6 L745.3,258.6 L745.8,258.6 L746.3,258.6 L746.8,258.6 L747.3,258.6 L747.8,258.6 L748.3,258.6 L748.8,258.6 L749.3,258.6 L749.8,258.6 L750.3,258.6 L750.8,258.6 L751.3,258.6 L751.8,258.6 L752.3,258.7 L752.8,258.7 L753.3,258.7 L753.8,258.7 L754.3,258.7 L754.8,258.7 L755.3,258.7 L755.8,258.7 L756.3,258.7 L756.8,258.7 L757.3,258.7 L757.8,258.7 L758.3,258.7 L758.8,258.7 L759.3,258.7 L759.8,258.7 L760.3,258.8 L760.8,258.8 L761.3,258.8 L761.8,258.8 L762.3,258.8 L762.8,258.8 L763.3,258.8 L763.8,258.8 L764.3,258.8 L764.8,258.8 L765.3,258.8 L765.8,258.8 L766.3,258.8 L766.8,258.8 L767.3,258.8 L767.8,258.8 L768.3,258.9 L768.8,258.9 L769.3,258.9 L769.8,258.9 L770.3,258.9 L770.8,258.9 L771.3,258.9 L771.8,258.9 L772.3,258.9 L772.8,258.9 L773.3,258.9 L773.8,258.9 L774.3,258.9 L774.8,258.9 L774.8,258.9 L775.3,258.9 L775.8,258.9 L776.3,258.9 L776.8,259.0 L777.3,259.0 L777.8,259.0 L778.3,259.0 L778.8,259.0 L779.3,259.0 L779.8,259.0 L780.3,259.0 L780.8,259.0 L781.3,259.0 L781.8,259.0 L782.3,259.0 L782.8,259.0 L783.3,259.0 L783.8,259.0 L784.3,259.0 L784.8,259.1 L785.3,259.1 L785.8,259.1 L786.3,259.1 L786.8,259.1 L787.3,259.1 L787.8,259.1 L788.3,259.1 L788.8,259.1 L789.3,259.1 L789.8,259.1 L790.3,259.1 L790.8,259.1 L791.3,259.1 L791.8,259.1 L792.3,259.2 L792.8,259.2 L793.3,259.2 L793.8,259.2 L794.3,259.2 L794.8,259.2 L795.3,259.2 L795.8,259.2 L796.3,259.2 L796.8,259.2 L797.3,259.2 L797.8,259.2 L798.3,259.2 L798.8,259.2 L799.3,259.2 L799.8,259.3 L800.3,259.3 L800.8,259.3 L801.3,259.3 L801.8,259.3 L802.3,259.3 L802.8,259.3 L803.3,259.3 L803.8,259.3 L804.3,259.3 L804.8,259.3 L805.3,259.3 L805.8,259.3 L806.3,259.3 L806.8,259.3 L807.3,259.3 L807.8,259.3 L808.3,259.3 L808.9,259.3 L809.4,259.4 L809.9,259.4 L810.4,259.4 L810.9,259.4 L811.4,259.4 L811.9,259.4 L812.4,259.4 L812.9,259.4 L813.4,259.4 L813.9,259.4 L814.4,259.4 L814.9,259.4 L815.4,259.4 L815.9,259.4 L816.4,259.4 L816.9,259.4 L817.4,259.4 L817.9,259.4 L818.4,259.4 L818.9,259.4 L819.4,259.4 L819.9,259.4 L820.4,259.4 L820.9,259.4 L821.4,259.4 L821.9,259.4 L822.4,259.4 L822.9,259.4 L823.4,259.4 L823.9,259.4 L824.4,259.4 L824.7,259.4 L824.9,259.4 L825.4,259.4 L825.9,259.4 L826.4,259.4 L826.9,259.4 L827.4,259.4 L827.9,259.4 L828.4,259.4 L828.9,259.4 L829.4,259.4 L829.9,259.4 L830.4,259.4 L830.9,259.4 L831.4,259.4 L831.9,259.4 L832.4,259.3 L832.9,259.3 L833.4,259.3 L833.9,259.3 L834.4,259.3 L834.9,259.3 L835.4,259.3 L835.9,259.3 L836.4,259.2 L836.9,259.2 L837.4,259.2 L837.9,259.2 L838.4,259.2 L838.9,259.2 L839.4,259.2 L839.9,259.1 L840.4,259.1 L840.9,259.1 L841.4,259.1 L841.9,259.1 L842.4,259.0 L842.9,259.0 L843.4,259.0 L843.9,259.0 L844.4,258.9 L844.9,258.9 L845.4,258.9 L845.9,258.9 L846.4,258.8 L846.9,258.8 L847.4,258.8 L847.9,258.8 L848.4,258.7 L848.9,258.7 L849.4,258.7 L849.7,258.7 L849.9,258.7 L850.4,258.6 L850.9,258.6 L851.4,258.6 L851.9,258.5 L852.4,258.5 L852.9,258.4 L853.4,258.4 L853.9,258.3 L854.4,258.3 L854.9,258.2 L855.4,258.1 L855.9,258.0 L856.4,258.0 L856.9,257.9 L857.4,257.8 L857.9,257.7 L858.4,257.6 L858.9,257.5 L859.4,257.3 L859.9,257.2 L860.4,257.1 L860.9,256.9 L860.9,256.9 L861.4,256.7 L861.9,256.4 L862.4,255.9 L862.9,255.4 L863.4,254.8 L863.9,254.2 L864.4,253.6 L864.9,253.0 L865.4,252.4 L865.9,251.9 L865.9,251.9 L866.4,251.4 L866.9,250.8 L867.4,250.2 L867.9,249.7 L868.4,249.1 L868.9,248.5 L869.4,248.0 L869.9,247.6 L870.4,247.2 L870.9,247.0 L870.9,246.9 L871.4,246.6 L871.9,246.4 L872.4,246.1 L873.0,245.9 L873.5,245.8 L874.0,245.7 L874.1,245.7 L874.5,245.7 L875.0,245.8 L875.5,245.9 L876.0,246.1 L876.5,246.4 L877.0,246.6 L877.5,246.9 L877.6,247.0 L878.0,247.2 L878.5,247.6 L879.0,248.1 L879.5,248.7 L880.0,249.3 L880.5,249.9 L881.0,250.6 L881.5,251.2 L882.0,251.8 L882.1,251.9 L882.5,252.3 L883.0,252.9 L883.5,253.5 L884.0,254.1 L884.5,254.7 L885.0,255.3 L885.5,255.8 L886.0,256.3 L886.5,256.6 L887.0,256.9 L887.1,256.9 L887.5,257.1 L888.0,257.2 L888.5,257.4 L889.0,257.6 L889.5,257.7 L890.0,257.8 L890.5,258.0 L891.0,258.1 L891.5,258.2 L892.0,258.3 L892.5,258.4 L893.0,258.5 L893.5,258.6 L894.0,258.7 L894.5,258.7 L895.0,258.8 L895.5,258.8 L896.0,258.9 L896.5,258.9 L897.0,258.9 L897.1,258.9 L897.5,258.9 L898.0,259.0 L898.5,259.0 L899.0,259.0 L899.5,259.0 L900.0,259.0 L900.5,259.1 L901.0,259.1 L901.5,259.1 L902.0,259.1 L902.5,259.1 L903.0,259.1 L903.5,259.1 L904.0,259.2 L904.5,259.2 L905.0,259.2 L905.5,259.2 L906.0,259.2 L906.5,259.2 L907.0,259.2 L907.5,259.2 L908.0,259.3 L908.5,259.3 L909.0,259.3 L909.5,259.3 L910.0,259.3 L910.5,259.3 L911.0,259.3 L911.5,259.3 L912.0,259.3 L912.5,259.3 L913.0,259.3 L913.5,259.4 L914.0,259.4 L914.5,259.4 L915.0,259.4 L915.5,259.4 L916.0,259.4 L916.5,259.4 L917.0,259.4 L917.5,259.4 L918.0,259.4 L918.5,259.4 L919.0,259.4 L919.5,259.4 L920.0,259.4 L920.5,259.4 L921.0,259.4 L921.5,259.4 L922.0,259.4 L922.5,259.4 L923.0,259.4 L923.5,259.4 L924.0,259.4 L924.5,259.4 L924.5,259.4 L925.0,259.4 L925.5,259.4 L926.0,259.4 L926.5,259.4 L927.0,259.4 L927.5,259.4 L928.0,259.4 L928.5,259.4 L929.0,259.4 L929.5,259.4 L930.0,259.4 L930.5,259.4 L931.0,259.4 L931.5,259.4 L932.0,259.4 L932.5,259.4 L933.0,259.4 L933.5,259.4 L934.0,259.4 L934.5,259.4 L935.0,259.3 L935.5,259.3 L936.0,259.3 L936.6,259.3 L937.1,259.3 L937.6,259.3 L938.1,259.3 L938.6,259.3 L939.1,259.3 L939.6,259.3 L940.1,259.3 L940.6,259.3 L941.1,259.2 L941.6,259.2 L942.1,259.2 L942.6,259.2 L943.1,259.2 L943.6,259.2 L944.1,259.2 L944.6,259.2 L945.1,259.2 L945.6,259.1 L946.1,259.1 L946.6,259.1 L947.1,259.1 L947.6,259.1 L948.1,259.1 L948.6,259.1 L949.1,259.1 L949.6,259.0 L950.1,259.0 L950.6,259.0 L951.1,259.0 L951.6,259.0 L952.1,259.0 L952.6,259.0 L953.1,258.9 L953.6,258.9 L954.1,258.9 L954.6,258.9 L955.1,258.9 L955.6,258.9 L956.1,258.9 L956.6,258.8 L957.1,258.8 L957.6,258.8 L958.1,258.8 L958.6,258.8 L959.1,258.8 L959.6,258.8 L960.1,258.7 L960.6,258.7 L961.1,258.7 L961.6,258.7 L961.9,258.7 L962.1,258.7 L962.6,258.7 L963.1,258.6 L963.6,258.6 L964.1,258.6 L964.6,258.6 L965.1,258.6 L965.6,258.5 L966.1,258.5 L966.6,258.5 L967.1,258.5 L967.6,258.5 L968.1,258.4 L968.6,258.4 L969.1,258.4 L969.6,258.4 L970.1,258.3 L970.6,258.3 L971.1,258.3 L971.6,258.3 L972.1,258.2 L972.6,258.2 L973.1,258.2 L973.6,258.1 L974.1,258.1 L974.6,258.1 L975.1,258.1 L975.6,258.0 L976.1,258.0 L976.6,258.0 L976.9,257.9 L977.1,257.9 L977.6,257.9 L978.1,257.8 L978.6,257.8 L979.1,257.8 L979.6,257.7 L980.1,257.7 L980.6,257.7 L981.1,257.6 L981.6,257.6 L982.1,257.6 L982.6,257.5 L983.1,257.5 L983.6,257.4 L984.1,257.4 L984.6,257.3 L985.1,257.3 L985.6,257.2 L986.1,257.1 L986.6,257.1 L987.1,257.0 L987.6,256.9 L988.1,256.8 L988.6,256.7 L989.1,256.7 L989.6,256.6 L990.0,256.5 L990.1,256.4 L990.6,256.3 L991.1,256.1 L991.6,255.8 L992.1,255.5 L992.5,255.2 L992.6,255.1 L993.1,254.8 L993.6,254.4 L994.1,253.9 L994.6,253.5 L995.1,252.9 L995.6,252.4 L996.1,251.8 L996.6,251.1 L996.9,250.9 L997.1,250.5 L997.6,249.7 L998.1,248.8 L998.6,247.9 L999.1,246.9 L999.6,245.8 L1000.2,244.5 L1000.6,243.4 L1000.7,243.2 L1001.2,241.8 L1001.7,240.1 L1002.2,238.1 L1002.7,236.0 L1003.2,233.7 L1003.5,232.2 L1003.7,231.1 L1004.2,228.1 L1004.7,224.5 L1005.2,220.6 L1005.6,217.2 L1005.7,216.5 L1006.2,212.0 L1006.7,207.1 L1007.2,201.7 L1007.4,198.5 L1007.7,195.8 L1008.2,188.8 L1008.7,182.6 L1008.7,182.3 L1009.2,177.9 L1009.7,174.9 L1009.7,174.9 L1010.2,174.0 L1010.7,173.4 L1011.2,173.0 L1011.4,173.0 L1011.7,173.1 L1012.2,173.6 L1012.7,174.5 L1013.2,175.5 L1013.4,176.1 L1013.7,176.7 L1014.2,178.4 L1014.7,180.5 L1015.2,179.5 L1015.7,177.2 L1015.9,176.1 L1016.2,173.9 L1016.7,168.1 L1016.8,167.4 L1017.3,158.7 L1017.7,148.7 L1017.8,145.8 L1018.3,128.9 L1018.8,112.4 L1018.9,109.7 L1019.3,101.2 L1019.8,92.2 L1020.3,84.8 L1020.4,83.5 L1020.9,74.6 L1021.4,65.9 L1021.8,59.8 L1021.9,58.0 L1022.4,50.4 L1022.9,43.3 L1023.4,37.0 L1023.6,34.9 L1024.0,31.7 L1024.5,26.9 L1025.0,22.6 L1025.5,19.1 L1026.0,21.8 L1026.5,25.9 L1027.0,30.9 L1027.4,34.9 L1027.5,36.6 L1028.0,44.1 L1028.5,53.2 L1028.9,59.8 L1029.0,62.5 L1029.5,72.7 L1030.0,82.8 L1030.1,84.8 L1030.5,91.7 L1031.0,100.0 L1031.5,108.1 L1031.6,109.7 L1032.0,116.1 L1032.5,123.9 L1033.0,132.8 L1033.1,134.6 L1033.5,144.9 L1034.0,159.3 L1034.4,167.4 L1034.5,170.6 L1035.0,179.1 L1035.5,186.1 L1035.5,186.8 L1036.0,194.4 L1036.5,201.8 L1036.7,204.8 L1037.0,209.5 L1037.5,217.4 L1038.0,223.5 L1038.0,224.2 L1038.5,230.0 L1039.0,235.2 L1039.5,239.3 L1039.6,239.7 L1040.0,242.4 L1040.5,245.2 L1041.0,247.4 L1041.5,249.2 L1041.7,249.6 L1042.0,250.4 L1042.5,251.5 L1043.0,252.4 L1043.5,253.2 L1044.0,253.9 L1044.5,254.5 L1045.0,255.0 L1045.5,255.2 L1045.5,255.3 L1046.0,255.5 L1046.5,255.8 L1047.1,256.0 L1047.6,256.2 L1048.1,256.4 L1048.6,256.6 L1049.1,256.7 L1049.6,256.9 L1050.1,257.0 L1050.6,257.1 L1051.1,257.2 L1051.6,257.3 L1052.1,257.3 L1052.3,257.4 L1052.6,257.4 L1053.1,257.4 L1053.6,257.5 L1054.1,257.5 L1054.6,257.6 L1055.1,257.6 L1055.6,257.7 L1056.1,257.7 L1056.6,257.8 L1057.1,257.8 L1057.6,257.8 L1058.1,257.9 L1058.6,257.9 L1059.1,258.0 L1059.6,258.0 L1060.1,258.0 L1060.6,258.1 L1061.1,258.1 L1061.6,258.1 L1062.1,258.1 L1062.6,258.2 L1063.1,258.2 L1063.6,258.2 L1064.1,258.2 L1064.6,258.2 L1065.1,258.3 L1065.6,258.3 L1066.1,258.3 L1066.6,258.3 L1067.1,258.3 L1067.6,258.3 L1068.1,258.3 L1068.6,258.3 L1069.1,258.3 L1069.6,258.3 L1070.0,258.3 L1070.1,258.3 L1070.6,258.3 L1071.1,258.3 L1071.6,258.3 L1072.1,258.3 L1072.6,258.3 L1073.1,258.3 L1073.6,258.3 L1074.1,258.3 L1074.6,258.3 L1075.1,258.3 L1075.6,258.3 L1076.1,258.3 L1076.6,258.3 L1077.1,258.3 L1077.6,258.3 L1078.1,258.3 L1078.6,258.3 L1079.1,258.3 L1079.6,258.3 L1080.1,258.3 L1080.6,258.3 L1081.1,258.3 L1081.6,258.3 L1082.1,258.3 L1082.6,258.3 L1083.1,258.3 L1083.6,258.3 L1084.1,258.3 L1084.6,258.3 L1085.1,258.3 L1085.6,258.3 L1086.1,258.3 L1086.6,258.3 L1087.1,258.3 L1087.6,258.3 L1088.1,258.3 L1088.6,258.3 L1089.1,258.3 L1089.6,258.3 L1090.1,258.3 L1090.6,258.3 L1091.1,258.3 L1091.6,258.3 L1092.1,258.3 L1092.6,258.3 L1093.1,258.3 L1093.6,258.3 L1094.1,258.3 L1094.6,258.3 L1095.1,258.3 L1095.6,258.3 L1096.1,258.3 L1096.6,258.3 L1097.1,258.3 L1097.6,258.2 L1098.1,258.2 L1098.6,258.2 L1099.1,258.2 L1099.6,258.2 L1100.1,258.2 L1100.6,258.2 L1100.9,258.2 L1101.1,258.2 L1101.6,258.2 L1102.1,258.2 L1102.6,258.2 L1103.1,258.2 L1103.6,258.1 L1104.1,258.1 L1104.6,258.1 L1105.1,258.1 L1105.6,258.0 L1106.1,258.0 L1106.6,258.0 L1107.2,257.9 L1107.7,257.9 L1108.2,257.9 L1108.7,257.8 L1109.2,257.8 L1109.7,257.7 L1110.2,257.7 L1110.7,257.6 L1111.2,257.6 L1111.7,257.6 L1112.2,257.5 L1112.7,257.5 L1113.2,257.4 L1113.7,257.4 L1114.2,257.3 L1114.7,257.3 L1115.2,257.2 L1115.7,257.2 L1116.2,257.2 L1116.7,257.1 L1117.2,257.1 L1117.7,257.0 L1118.2,257.0 L1118.5,257.0 L1118.7,257.0 L1119.2,256.9 L1119.7,256.9 L1120.2,256.9 L1120.7,256.9 L1121.2,256.8 L1121.7,256.8 L1122.2,256.8 L1122.7,256.7 L1123.2,256.7 L1123.7,256.7 L1124.2,256.7 L1124.7,256.6 L1125.2,256.6 L1125.7,256.6 L1126.2,256.6 L1126.7,256.5 L1127.2,256.5 L1127.7,256.5 L1128.2,256.5 L1128.7,256.4 L1129.2,256.4 L1129.7,256.4 L1130.2,256.3 L1130.7,256.3 L1131.2,256.3 L1131.7,256.2 L1132.2,256.2 L1132.7,256.2 L1133.2,256.2 L1133.7,256.1 L1134.2,256.1 L1134.7,256.0 L1135.2,256.0 L1135.7,256.0 L1136.1,255.9 L1136.2,255.9 L1136.7,255.9 L1137.2,255.8 L1137.7,255.8 L1138.2,255.7 L1138.7,255.7 L1139.2,255.6 L1139.7,255.6 L1140.2,255.5 L1140.7,255.4 L1141.2,255.4 L1141.7,255.3 L1142.2,255.2 L1142.7,255.2 L1143.2,255.1 L1143.7,255.0 L1144.2,254.9 L1144.7,254.9 L1145.2,254.8 L1145.7,254.7 L1146.2,254.7 L1146.7,254.6 L1147.2,254.5 L1147.7,254.5 L1148.2,254.4 L1148.7,254.3 L1149.2,254.3 L1149.7,254.2 L1150.2,254.2 L1150.2,254.2 L1150.7,254.1 L1151.2,254.1 L1151.7,254.0 L1152.2,254.0 L1152.7,254.0 L1153.2,253.9 L1153.7,253.9 L1154.2,253.8 L1154.7,253.8 L1155.2,253.8 L1155.7,253.8 L1156.2,253.7 L1156.7,253.7 L1157.2,253.7 L1157.7,253.6 L1158.2,253.6 L1158.7,253.6 L1159.2,253.5 L1159.7,253.5 L1160.2,253.4 L1160.7,253.4 L1161.2,253.3 L1161.7,253.3 L1162.2,253.2 L1162.7,253.2 L1163.2,253.1 L1163.7,253.0 L1164.2,252.9 L1164.3,252.9 L1164.7,252.8 L1165.2,252.7 L1165.7,252.5 L1166.2,252.3 L1166.8,252.1 L1167.3,251.8 L1167.8,251.5 L1168.3,251.2 L1168.8,250.9 L1169.3,250.6 L1169.8,250.3 L1170.3,250.0 L1170.8,249.7 L1171.3,249.4 L1171.3,249.4 L1171.8,249.2 L1172.3,248.8 L1172.8,248.5 L1173.3,248.2 L1173.8,247.8 L1174.3,247.5 L1174.8,247.2 L1175.3,247.0 L1175.7,246.8 L1175.8,246.8 L1176.3,246.6 L1176.8,246.4 L1177.3,246.2 L1177.8,246.1 L1178.3,246.0 L1178.8,245.9 L1179.2,245.9 L1179.3,245.9 L1179.8,245.9 L1180.3,246.0 L1180.8,246.1 L1181.3,246.3 L1181.8,246.4 L1182.3,246.6 L1182.7,246.8 L1182.8,246.8 L1183.3,247.0 L1183.8,247.2 L1184.3,247.5 L1184.8,247.7 L1185.3,248.0 L1185.8,248.4 L1186.3,248.7 L1186.8,249.0 L1187.3,249.3 L1187.8,249.6 L1188.3,250.0 L1188.8,250.2 L1188.9,250.3 L1189.3,250.5 L1189.8,250.8 L1190.3,251.1 L1190.8,251.4 L1191.3,251.7 L1191.8,252.0 L1192.3,252.3 L1192.8,252.5 L1193.3,252.8 L1193.8,253.0 L1194.3,253.3 L1194.8,253.5 L1195.3,253.6 L1195.8,253.8 L1196.0,253.8 L1196.3,253.9 L1196.8,254.0 L1197.3,254.1 L1197.8,254.2 L1198.3,254.3 L1198.8,254.5 L1199.3,254.6 L1199.8,254.7 L1200.3,254.8 L1200.8,254.9 L1201.3,255.0 L1201.8,255.0 L1202.3,255.1 L1202.8,255.2 L1203.3,255.3 L1203.8,255.4 L1204.3,255.5 L1204.8,255.5 L1205.3,255.6 L1205.8,255.7 L1206.3,255.7 L1206.8,255.8 L1207.3,255.9 L1207.8,255.9 L1208.3,256.0 L1208.8,256.0 L1209.3,256.1 L1209.8,256.1 L1210.3,256.1 L1210.8,256.2 L1211.3,256.2 L1211.8,256.2 L1212.3,256.2 L1212.8,256.2 L1213.3,256.2 L1213.8,256.2"/>
<path class="c" d="M718.0,380.2 L718.5,380.2 L719.0,380.2 L719.5,380.2 L720.0,380.2 L720.5,380.2 L721.0,380.2 L721.5,380.3 L722.0,380.3 L722.5,380.3 L723.0,380.3 L723.5,380.3 L724.0,380.3 L724.5,380.3 L725.0,380.3 L725.5,380.3 L726.0,380.3 L726.5,380.3 L727.0,380.3 L727.5,380.3 L728.0,380.3 L728.5,380.3 L729.0,380.3 L729.5,380.4 L730.0,380.4 L730.5,380.4 L731.0,380.4 L731.5,380.4 L732.0,380.4 L732.5,380.4 L733.0,380.4 L733.5,380.4 L734.0,380.4 L734.5,380.4 L735.0,380.4 L735.5,380.4 L736.0,380.4 L736.5,380.4 L737.0,380.5 L737.5,380.5 L738.0,380.5 L738.5,380.5 L739.0,380.5 L739.5,380.5 L740.0,380.5 L740.5,380.5 L741.0,380.5 L741.5,380.5 L742.0,380.5 L742.5,380.5 L743.0,380.5 L743.5,380.5 L744.0,380.5 L744.5,380.5 L745.0,380.6 L745.5,380.6 L746.0,380.6 L746.5,380.6 L747.0,380.6 L747.5,380.6 L748.0,380.6 L748.5,380.6 L749.0,380.6 L749.5,380.6 L750.0,380.6 L750.5,380.6 L751.0,380.6 L751.5,380.6 L752.0,380.6 L752.5,380.7 L753.0,380.7 L753.5,380.7 L754.0,380.7 L754.5,380.7 L755.0,380.7 L755.5,380.7 L756.0,380.7 L756.5,380.7 L757.0,380.7 L757.5,380.7 L758.0,380.7 L758.5,380.7 L759.0,380.7 L759.5,380.7 L760.0,380.8 L760.5,380.8 L761.0,380.8 L761.5,380.8 L762.0,380.8 L762.5,380.8 L763.0,380.8 L763.5,380.8 L764.0,380.8 L764.5,380.8 L765.0,380.8 L765.5,380.8 L766.0,380.8 L766.5,380.8 L767.0,380.9 L767.5,380.9 L768.0,380.9 L768.5,380.9 L769.0,380.9 L769.5,380.9 L770.0,380.9 L770.5,380.9 L771.0,380.9 L771.5,380.9 L772.0,380.9 L772.5,380.9 L773.0,380.9 L773.5,380.9 L774.0,380.9 L774.5,381.0 L774.8,381.0 L775.0,381.0 L775.5,381.0 L776.0,381.0 L776.5,381.0 L777.0,381.0 L777.5,381.0 L778.0,381.0 L778.5,381.0 L779.0,381.0 L779.5,381.0 L780.0,381.0 L780.5,381.1 L781.0,381.1 L781.5,381.1 L782.0,381.1 L782.6,381.1 L783.1,381.1 L783.6,381.1 L784.1,381.1 L784.6,381.1 L785.1,381.1 L785.6,381.1 L786.1,381.2 L786.6,381.2 L787.1,381.2 L787.6,381.2 L788.1,381.2 L788.6,381.2 L789.1,381.2 L789.6,381.2 L790.1,381.2 L790.6,381.2 L791.1,381.3 L791.6,381.3 L792.1,381.3 L792.6,381.3 L793.1,381.3 L793.6,381.3 L794.1,381.3 L794.6,381.3 L795.1,381.3 L795.6,381.3 L796.1,381.4 L796.6,381.4 L797.1,381.4 L797.6,381.4 L798.1,381.4 L798.6,381.4 L799.1,381.4 L799.6,381.4 L800.1,381.4 L800.6,381.4 L801.1,381.4 L801.6,381.5 L802.1,381.5 L802.6,381.5 L803.1,381.5 L803.6,381.5 L804.1,381.5 L804.6,381.5 L805.1,381.5 L805.6,381.5 L806.1,381.5 L806.6,381.5 L807.1,381.6 L807.6,381.6 L808.1,381.6 L808.6,381.6 L809.1,381.6 L809.6,381.6 L810.1,381.6 L810.6,381.6 L811.1,381.6 L811.6,381.6 L812.1,381.6 L812.6,381.6 L813.1,381.6 L813.6,381.6 L814.1,381.6 L814.6,381.7 L815.1,381.7 L815.6,381.7 L816.1,381.7 L816.6,381.7 L817.1,381.7 L817.6,381.7 L818.1,381.7 L818.6,381.7 L819.1,381.7 L819.6,381.7 L820.1,381.7 L820.6,381.7 L821.1,381.7 L821.6,381.7 L822.1,381.7 L822.6,381.7 L823.1,381.7 L823.6,381.7 L824.1,381.7 L824.6,381.7 L824.7,381.7 L825.1,381.7 L825.6,381.7 L826.1,381.7 L826.6,381.7 L827.1,381.7 L827.6,381.7 L828.1,381.7 L828.6,381.7 L829.1,381.7 L829.6,381.6 L830.1,381.6 L830.6,381.6 L831.1,381.6 L831.6,381.6 L832.1,381.6 L832.6,381.5 L833.1,381.5 L833.6,381.5 L834.1,381.5 L834.6,381.4 L835.1,381.4 L835.6,381.4 L836.1,381.3 L836.6,381.3 L837.1,381.3 L837.6,381.3 L838.1,381.2 L838.6,381.2 L839.1,381.2 L839.6,381.1 L840.1,381.1 L840.6,381.0 L841.1,381.0 L841.6,381.0 L842.1,380.9 L842.6,380.9 L843.1,380.8 L843.6,380.8 L844.1,380.7 L844.6,380.7 L845.1,380.7 L845.6,380.6 L846.1,380.6 L846.6,380.5 L847.1,380.5 L847.6,380.4 L848.1,380.4 L848.6,380.3 L849.1,380.3 L849.6,380.2 L849.7,380.2 L850.1,380.2 L850.6,380.1 L851.1,380.0 L851.6,379.9 L852.1,379.9 L852.6,379.8 L853.1,379.7 L853.6,379.6 L854.1,379.5 L854.7,379.3 L855.2,379.2 L855.7,379.1 L856.2,379.0 L856.7,378.8 L857.2,378.7 L857.7,378.6 L858.2,378.4 L858.7,378.3 L859.2,378.1 L859.7,378.0 L860.2,377.8 L860.7,377.7 L861.2,377.5 L861.7,377.4 L862.1,377.2 L862.2,377.2 L862.7,377.0 L863.2,376.9 L863.7,376.7 L864.2,376.4 L864.7,376.2 L865.2,376.0 L865.7,375.8 L866.2,375.5 L866.7,375.3 L867.2,375.1 L867.7,374.9 L868.2,374.7 L868.7,374.5 L869.2,374.3 L869.6,374.2 L869.7,374.2 L870.2,374.1 L870.7,374.0 L871.2,373.9 L871.7,373.8 L872.2,373.7 L872.7,373.6 L873.2,373.5 L873.7,373.5 L874.1,373.5 L874.2,373.5 L874.7,373.5 L875.2,373.6 L875.7,373.7 L876.2,373.9 L876.7,374.1 L877.2,374.3 L877.7,374.5 L878.2,374.7 L878.4,374.7 L878.7,374.8 L879.2,375.1 L879.7,375.3 L880.2,375.6 L880.7,375.8 L881.2,376.1 L881.7,376.4 L882.2,376.7 L882.7,377.0 L883.2,377.3 L883.7,377.5 L884.2,377.8 L884.7,378.0 L885.2,378.2 L885.7,378.4 L885.8,378.5 L886.2,378.6 L886.7,378.7 L887.2,378.9 L887.7,379.0 L888.2,379.2 L888.7,379.3 L889.2,379.5 L889.7,379.6 L890.2,379.8 L890.7,379.9 L891.2,380.0 L891.7,380.1 L892.2,380.3 L892.7,380.4 L893.2,380.5 L893.7,380.6 L894.2,380.6 L894.7,380.7 L895.2,380.8 L895.7,380.8 L896.2,380.9 L896.7,380.9 L897.1,381.0 L897.2,381.0 L897.7,381.0 L898.2,381.0 L898.7,381.0 L899.2,381.1 L899.7,381.1 L900.2,381.1 L900.7,381.1 L901.2,381.2 L901.7,381.2 L902.2,381.2 L902.7,381.2 L903.2,381.3 L903.7,381.3 L904.2,381.3 L904.7,381.3 L905.2,381.3 L905.7,381.4 L906.2,381.4 L906.7,381.4 L907.2,381.4 L907.7,381.4 L908.2,381.4 L908.7,381.5 L909.2,381.5 L909.7,381.5 L910.2,381.5 L910.7,381.5 L911.2,381.5 L911.7,381.5 L912.2,381.6 L912.7,381.6 L913.2,381.6 L913.7,381.6 L914.2,381.6 L914.7,381.6 L915.2,381.6 L915.7,381.6 L916.2,381.6 L916.7,381.6 L917.2,381.7 L917.7,381.7 L918.2,381.7 L918.7,381.7 L919.2,381.7 L919.7,381.7 L920.2,381.7 L920.7,381.7 L921.2,381.7 L921.7,381.7 L922.2,381.7 L922.7,381.7 L923.2,381.7 L923.7,381.7 L924.2,381.7 L924.5,381.7 L924.7,381.7 L925.2,381.7 L925.7,381.7 L926.2,381.7 L926.8,381.7 L927.3,381.7 L927.8,381.7 L928.3,381.7 L928.8,381.7 L929.3,381.7 L929.8,381.7 L930.3,381.7 L930.8,381.7 L931.3,381.7 L931.8,381.7 L932.3,381.7 L932.8,381.7 L933.3,381.7 L933.8,381.7 L934.3,381.7 L934.8,381.6 L935.3,381.6 L935.8,381.6 L936.3,381.6 L936.8,381.6 L937.3,381.6 L937.8,381.6 L938.3,381.6 L938.8,381.6 L939.3,381.6 L939.8,381.6 L940.0,381.6 L940.3,381.6 L940.8,381.6 L941.3,381.6 L941.8,381.5 L942.3,381.5 L942.8,381.5 L943.3,381.5 L943.8,381.4 L944.3,381.4 L944.8,381.4 L945.3,381.4 L945.8,381.3 L946.3,381.3 L946.8,381.2 L947.3,381.2 L947.8,381.2 L948.3,381.1 L948.8,381.1 L949.3,381.0 L949.8,381.0 L950.3,380.9 L950.8,380.9 L951.3,380.8 L951.8,380.8 L952.3,380.7 L952.8,380.7 L953.3,380.6 L953.8,380.6 L954.3,380.5 L954.8,380.5 L955.3,380.4 L955.8,380.4 L956.3,380.3 L956.8,380.3 L957.3,380.2 L957.8,380.2 L958.3,380.1 L958.8,380.1 L959.3,380.0 L959.8,380.0 L960.3,380.0 L960.8,379.9 L961.1,379.9 L961.3,379.9 L961.8,379.8 L962.3,379.8 L962.8,379.8 L963.3,379.7 L963.8,379.7 L964.3,379.7 L964.8,379.6 L965.3,379.6 L965.8,379.6 L966.3,379.5 L966.8,379.5 L967.3,379.5 L967.8,379.5 L968.3,379.4 L968.8,379.4 L969.3,379.4 L969.8,379.3 L970.3,379.3 L970.8,379.3 L971.3,379.2 L971.8,379.2 L972.3,379.1 L972.8,379.1 L973.3,379.0 L973.8,379.0 L974.3,378.9 L974.8,378.9 L975.3,378.8 L975.8,378.7 L976.3,378.7 L976.8,378.6 L977.3,378.5 L977.8,378.4 L977.9,378.4 L978.3,378.3 L978.8,378.2 L979.3,378.0 L979.8,377.7 L980.3,377.4 L980.8,377.1 L981.3,376.8 L981.8,376.4 L982.3,375.9 L982.8,375.5 L983.3,375.1 L983.8,374.6 L984.3,374.1 L984.8,373.6 L985.3,373.2 L985.3,373.1 L985.8,372.5 L986.3,371.9 L986.8,371.3 L987.3,370.5 L987.8,369.8 L988.3,368.9 L988.8,368.1 L989.3,367.1 L989.8,366.2 L990.3,365.1 L990.5,364.7 L990.8,364.0 L991.3,362.8 L991.8,361.5 L992.3,360.0 L992.8,358.5 L993.3,356.8 L993.8,355.2 L994.3,353.5 L994.7,352.1 L994.8,351.7 L995.3,349.9 L995.8,348.1 L996.3,346.1 L996.8,344.1 L997.3,341.9 L997.8,339.7 L997.9,339.5 L998.3,337.3 L998.9,334.9 L999.4,332.3 L999.9,329.6 L1000.4,326.8 L1000.9,323.8 L1001.1,322.6 L1001.4,320.7 L1001.9,317.2 L1002.4,313.6 L1002.9,310.0 L1003.2,307.9 L1003.4,306.5 L1003.9,302.7 L1004.4,299.4 L1004.8,297.4 L1004.9,297.3 L1005.4,296.4 L1005.9,295.6 L1006.4,295.0 L1006.9,294.5 L1007.4,294.0 L1007.9,293.6 L1008.4,293.2 L1008.4,293.2 L1008.9,292.8 L1009.4,292.6 L1009.9,292.4 L1010.4,292.2 L1010.9,291.8 L1011.4,291.3 L1011.6,291.1 L1011.9,289.5 L1012.4,283.4 L1012.7,279.5 L1012.9,277.4 L1013.4,271.7 L1013.9,265.8 L1014.3,260.8 L1014.4,260.0 L1014.9,254.3 L1015.4,248.6 L1015.9,242.7 L1015.9,242.1 L1016.4,236.6 L1016.9,230.3 L1017.4,223.9 L1017.4,223.5 L1017.9,217.7 L1018.4,211.5 L1018.9,205.2 L1018.9,204.8 L1019.4,198.4 L1019.9,191.5 L1020.3,186.1 L1020.4,184.8 L1020.9,178.1 L1021.4,171.8 L1021.8,167.4 L1021.9,166.3 L1022.4,161.2 L1022.9,156.6 L1023.4,152.7 L1023.6,151.2 L1023.9,149.9 L1024.4,147.5 L1024.9,145.4 L1025.4,143.7 L1025.9,142.8 L1026.4,143.6 L1026.9,145.4 L1027.4,147.7 L1027.9,150.5 L1028.0,151.2 L1028.4,153.9 L1028.9,158.8 L1029.4,164.5 L1029.6,167.4 L1029.9,170.9 L1030.4,178.5 L1030.9,186.1 L1030.9,186.4 L1031.4,193.9 L1031.9,201.4 L1032.1,204.8 L1032.4,208.9 L1032.9,216.3 L1033.4,223.5 L1033.4,223.9 L1033.9,232.0 L1034.4,240.6 L1034.5,242.1 L1034.9,249.7 L1035.4,259.2 L1035.5,260.8 L1035.9,268.8 L1036.4,278.1 L1036.5,279.5 L1036.9,285.9 L1037.3,291.1 L1037.4,292.9 L1037.9,299.3 L1038.4,305.4 L1038.9,311.5 L1038.9,312.1 L1039.4,317.8 L1039.9,324.1 L1040.4,330.4 L1040.6,333.2 L1040.9,336.4 L1041.4,342.5 L1041.9,348.1 L1042.1,350.0 L1042.4,352.6 L1042.9,356.6 L1043.4,360.2 L1043.9,363.2 L1044.2,364.7 L1044.4,365.6 L1044.9,367.8 L1045.4,369.9 L1045.9,371.7 L1046.4,373.3 L1046.9,374.5 L1047.4,375.3 L1047.4,375.3 L1047.9,375.9 L1048.4,376.5 L1048.9,376.9 L1049.4,377.4 L1049.9,377.8 L1050.4,378.1 L1050.9,378.4 L1051.4,378.7 L1051.9,378.9 L1052.4,379.0 L1052.6,379.1 L1052.9,379.1 L1053.4,379.2 L1053.9,379.3 L1054.4,379.4 L1054.9,379.5 L1055.4,379.6 L1055.9,379.7 L1056.4,379.7 L1056.9,379.8 L1057.4,379.9 L1057.9,380.0 L1058.4,380.0 L1058.9,380.1 L1059.4,380.1 L1059.9,380.2 L1060.4,380.2 L1060.9,380.3 L1061.4,380.3 L1061.9,380.4 L1062.4,380.4 L1062.9,380.4 L1063.4,380.5 L1063.9,380.5 L1064.4,380.5 L1064.9,380.5 L1065.4,380.5 L1065.9,380.5 L1066.3,380.5 L1066.4,380.5 L1066.9,380.5 L1067.4,380.5 L1067.9,380.5 L1068.4,380.5 L1068.9,380.5 L1069.4,380.5 L1069.9,380.5 L1070.4,380.5 L1070.9,380.5 L1071.4,380.5 L1071.9,380.5 L1072.4,380.5 L1072.9,380.5 L1073.4,380.5 L1073.9,380.5 L1074.4,380.5 L1074.9,380.5 L1075.4,380.5 L1075.9,380.5 L1076.4,380.5 L1076.9,380.5 L1077.4,380.5 L1077.9,380.5 L1078.4,380.5 L1078.9,380.5 L1079.4,380.5 L1079.9,380.5 L1080.4,380.5 L1080.9,380.5 L1081.4,380.5 L1081.9,380.5 L1082.4,380.5 L1082.9,380.5 L1083.4,380.5 L1083.9,380.5 L1084.4,380.5 L1084.9,380.5 L1085.4,380.5 L1085.9,380.5 L1086.4,380.5 L1086.9,380.5 L1087.4,380.5 L1087.9,380.5 L1088.4,380.5 L1088.9,380.5 L1089.4,380.5 L1089.9,380.5 L1090.4,380.5 L1090.9,380.5 L1091.4,380.5 L1091.9,380.5 L1092.4,380.5 L1092.9,380.5 L1093.4,380.5 L1093.9,380.5 L1094.4,380.5 L1094.9,380.5 L1095.4,380.5 L1095.9,380.5 L1096.4,380.5 L1096.9,380.5 L1097.5,380.5 L1098.0,380.5 L1098.5,380.5 L1099.0,380.5 L1099.5,380.5 L1100.0,380.5 L1100.0,380.5 L1100.5,380.5 L1101.0,380.5 L1101.5,380.5 L1102.0,380.5 L1102.5,380.5 L1103.0,380.5 L1103.5,380.5 L1104.0,380.5 L1104.5,380.5 L1105.0,380.5 L1105.5,380.5 L1106.0,380.5 L1106.5,380.5 L1107.0,380.5 L1107.5,380.5 L1108.0,380.5 L1108.5,380.5 L1109.0,380.5 L1109.5,380.5 L1110.0,380.4 L1110.5,380.4 L1111.0,380.4 L1111.5,380.4 L1112.0,380.4 L1112.5,380.4 L1113.0,380.4 L1113.5,380.4 L1114.0,380.4 L1114.5,380.4 L1115.0,380.3 L1115.5,380.3 L1116.0,380.3 L1116.5,380.3 L1117.0,380.3 L1117.5,380.3 L1118.0,380.3 L1118.5,380.3 L1119.0,380.3 L1119.5,380.2 L1120.0,380.2 L1120.5,380.2 L1121.0,380.2 L1121.5,380.2 L1122.0,380.2 L1122.5,380.2 L1123.0,380.1 L1123.5,380.1 L1124.0,380.1 L1124.5,380.1 L1125.0,380.1 L1125.5,380.1 L1126.0,380.0 L1126.5,380.0 L1127.0,380.0 L1127.5,380.0 L1128.0,380.0 L1128.5,380.0 L1129.0,379.9 L1129.5,379.9 L1130.0,379.9 L1130.5,379.9 L1131.0,379.9 L1131.5,379.9 L1132.0,379.8 L1132.5,379.8 L1133.0,379.8 L1133.5,379.8 L1134.0,379.8 L1134.5,379.7 L1135.0,379.7 L1135.3,379.7 L1135.5,379.7 L1136.0,379.7 L1136.5,379.7 L1137.0,379.6 L1137.5,379.6 L1138.0,379.6 L1138.5,379.6 L1139.0,379.5 L1139.5,379.5 L1140.0,379.5 L1140.5,379.4 L1141.0,379.4 L1141.5,379.4 L1142.0,379.3 L1142.5,379.3 L1143.0,379.3 L1143.5,379.2 L1144.0,379.2 L1144.5,379.2 L1145.0,379.1 L1145.5,379.1 L1146.0,379.0 L1146.5,379.0 L1147.0,379.0 L1147.5,378.9 L1148.0,378.9 L1148.5,378.8 L1149.0,378.8 L1149.5,378.7 L1150.0,378.7 L1150.5,378.6 L1151.0,378.6 L1151.5,378.5 L1152.0,378.5 L1152.5,378.4 L1153.0,378.4 L1153.5,378.3 L1154.0,378.3 L1154.5,378.2 L1155.0,378.1 L1155.5,378.1 L1156.0,378.0 L1156.5,378.0 L1157.0,377.9 L1157.5,377.9 L1158.0,377.8 L1158.5,377.7 L1159.0,377.7 L1159.5,377.6 L1160.0,377.6 L1160.5,377.5 L1161.0,377.4 L1161.5,377.4 L1162.0,377.3 L1162.5,377.2 L1162.7,377.2 L1163.0,377.2 L1163.5,377.1 L1164.0,377.0 L1164.5,377.0 L1165.0,376.9 L1165.5,376.8 L1166.0,376.7 L1166.5,376.6 L1167.0,376.5 L1167.5,376.4 L1168.0,376.3 L1168.5,376.2 L1169.0,376.1 L1169.5,376.0 L1170.0,375.9 L1170.5,375.8 L1171.0,375.7 L1171.5,375.6 L1172.0,375.6 L1172.5,375.5 L1172.7,375.5 L1173.0,375.4 L1173.5,375.3 L1174.0,375.3 L1174.5,375.2 L1175.0,375.1 L1175.5,375.0 L1176.0,375.0 L1176.5,374.9 L1177.0,374.8 L1177.5,374.8 L1178.0,374.8 L1178.5,374.7 L1178.9,374.7 L1179.0,374.7 L1179.5,374.8 L1180.0,374.9 L1180.5,375.0 L1181.0,375.2 L1181.5,375.4 L1182.0,375.6 L1182.5,375.9 L1183.0,376.2 L1183.5,376.4 L1184.0,376.7 L1184.5,376.9 L1185.0,377.2 L1185.1,377.2 L1185.5,377.4 L1186.0,377.6 L1186.5,377.9 L1187.0,378.1 L1187.5,378.4 L1188.0,378.7 L1188.5,379.0 L1189.0,379.3 L1189.5,379.5 L1190.0,379.8 L1190.5,380.1 L1191.0,380.4 L1191.5,380.6 L1192.0,380.8 L1192.5,381.0 L1193.0,381.2 L1193.5,381.4 L1194.0,381.5 L1194.5,381.6 L1195.0,381.7 L1195.1,381.7 L1195.5,381.7 L1196.0,381.8 L1196.5,381.8 L1197.0,381.9 L1197.5,381.9 L1198.0,381.9 L1198.5,382.0 L1199.0,382.0 L1199.5,382.0 L1200.0,382.1 L1200.5,382.1 L1201.0,382.1 L1201.5,382.1 L1202.0,382.2 L1202.5,382.2 L1203.0,382.2 L1203.5,382.2 L1204.0,382.2 L1204.5,382.2 L1205.0,382.2 L1205.1,382.2 L1205.5,382.2 L1206.0,382.2 L1206.5,382.2 L1207.0,382.2 L1207.5,382.2 L1208.0,382.2 L1208.5,382.2 L1209.0,382.1 L1209.5,382.1 L1210.0,382.1 L1210.5,382.1 L1211.0,382.1 L1211.6,382.0 L1212.1,382.0 L1212.6,382.0 L1213.1,382.0 L1213.6,381.9 L1214.1,381.9 L1214.6,381.9 L1215.1,381.8 L1215.6,381.8 L1216.1,381.7 L1216.6,381.7 L1217.1,381.6 L1217.6,381.6 L1218.1,381.5 L1218.6,381.5 L1219.1,381.4 L1219.6,381.4 L1220.1,381.3 L1220.6,381.2 L1221.1,381.2 L1221.6,381.1 L1222.1,381.0 L1222.6,381.0"/>
<path class="c" d="M716.2,525.6 L716.7,525.7 L717.2,525.7 L717.7,525.7 L718.2,525.7 L718.7,525.7 L719.2,525.7 L719.7,525.7 L720.2,525.7 L720.7,525.7 L721.2,525.7 L721.7,525.7 L722.2,525.8 L722.7,525.8 L723.2,525.8 L723.7,525.8 L724.2,525.8 L724.7,525.8 L725.2,525.8 L725.7,525.8 L726.2,525.8 L726.7,525.8 L727.2,525.9 L727.7,525.9 L728.2,525.9 L728.7,525.9 L729.2,525.9 L729.7,525.9 L730.2,525.9 L730.7,525.9 L731.2,525.9 L731.7,525.9 L732.2,525.9 L732.7,526.0 L733.2,526.0 L733.7,526.0 L734.2,526.0 L734.7,526.0 L735.2,526.0 L735.7,526.0 L736.2,526.0 L736.7,526.0 L737.2,526.0 L737.7,526.0 L738.2,526.0 L738.7,526.1 L739.2,526.1 L739.7,526.1 L740.2,526.1 L740.7,526.1 L741.2,526.1 L741.7,526.1 L742.2,526.1 L742.7,526.1 L743.2,526.1 L743.7,526.1 L744.2,526.1 L744.7,526.1 L745.2,526.2 L745.7,526.2 L746.2,526.2 L746.7,526.2 L747.2,526.2 L747.7,526.2 L748.2,526.2 L748.7,526.2 L749.2,526.2 L749.7,526.2 L750.2,526.2 L750.7,526.2 L751.2,526.2 L751.7,526.2 L752.2,526.2 L752.7,526.3 L753.3,526.3 L753.8,526.3 L754.3,526.3 L754.8,526.3 L755.3,526.3 L755.8,526.3 L756.3,526.3 L756.8,526.3 L757.3,526.3 L757.8,526.3 L758.3,526.3 L758.8,526.3 L759.3,526.3 L759.8,526.3 L760.3,526.3 L760.8,526.3 L761.3,526.3 L761.8,526.3 L762.3,526.3 L762.8,526.3 L763.3,526.4 L763.8,526.4 L764.3,526.4 L764.8,526.4 L765.3,526.4 L765.8,526.4 L766.3,526.4 L766.8,526.4 L767.3,526.4 L767.8,526.4 L768.3,526.4 L768.8,526.4 L769.3,526.4 L769.8,526.4 L770.3,526.4 L770.8,526.4 L771.3,526.4 L771.8,526.4 L772.3,526.4 L772.8,526.4 L773.3,526.4 L773.8,526.4 L774.3,526.4 L774.8,526.4 L774.8,526.4 L775.3,526.4 L775.8,526.4 L776.3,526.4 L776.8,526.4 L777.3,526.4 L777.8,526.4 L778.3,526.4 L778.8,526.4 L779.3,526.4 L779.8,526.4 L780.3,526.4 L780.8,526.4 L781.3,526.4 L781.8,526.4 L782.3,526.4 L782.8,526.4 L783.3,526.4 L783.8,526.4 L784.3,526.4 L784.8,526.4 L785.3,526.4 L785.8,526.4 L786.3,526.4 L786.8,526.4 L787.3,526.4 L787.8,526.4 L788.3,526.4 L788.8,526.4 L789.3,526.4 L789.8,526.4 L790.3,526.4 L790.8,526.4 L791.3,526.4 L791.8,526.4 L792.3,526.4 L792.8,526.4 L793.3,526.4 L793.8,526.4 L794.3,526.4 L794.8,526.4 L795.3,526.4 L795.8,526.4 L796.3,526.4 L796.8,526.4 L797.3,526.4 L797.8,526.4 L798.3,526.4 L798.8,526.4 L799.3,526.4 L799.8,526.4 L800.3,526.4 L800.8,526.4 L801.3,526.4 L801.8,526.4 L802.3,526.4 L802.8,526.4 L803.3,526.4 L803.8,526.4 L804.3,526.4 L804.8,526.4 L805.3,526.4 L805.8,526.4 L806.3,526.4 L806.8,526.4 L807.3,526.4 L807.8,526.4 L808.3,526.4 L808.8,526.4 L809.3,526.4 L809.8,526.4 L810.3,526.4 L810.8,526.4 L811.3,526.4 L811.8,526.4 L812.3,526.4 L812.8,526.4 L813.3,526.4 L813.8,526.4 L814.3,526.4 L814.8,526.4 L815.3,526.4 L815.8,526.4 L816.3,526.4 L816.8,526.4 L817.3,526.4 L817.8,526.4 L818.3,526.4 L818.8,526.4 L819.3,526.4 L819.8,526.4 L820.3,526.4 L820.8,526.4 L821.3,526.4 L821.8,526.4 L822.3,526.4 L822.8,526.4 L823.3,526.4 L823.8,526.4 L824.3,526.4 L824.7,526.4 L824.8,526.4 L825.3,526.4 L825.8,526.4 L826.3,526.4 L826.8,526.4 L827.3,526.4 L827.8,526.4 L828.3,526.4 L828.8,526.3 L829.3,526.3 L829.8,526.3 L830.3,526.3 L830.8,526.3 L831.3,526.3 L831.8,526.2 L832.3,526.2 L832.8,526.2 L833.3,526.2 L833.8,526.2 L834.3,526.1 L834.8,526.1 L835.3,526.1 L835.8,526.0 L836.3,526.0 L836.8,526.0 L837.3,526.0 L837.8,525.9 L838.3,525.9 L838.8,525.9 L839.3,525.8 L839.8,525.8 L840.3,525.7 L840.8,525.7 L841.3,525.7 L841.8,525.6 L842.3,525.6 L842.8,525.5 L843.3,525.5 L843.8,525.5 L844.3,525.4 L844.8,525.4 L845.3,525.3 L845.8,525.3 L846.3,525.2 L846.8,525.2 L847.2,525.1 L847.3,525.1 L847.8,525.1 L848.3,525.0 L848.8,524.9 L849.3,524.8 L849.8,524.7 L850.3,524.6 L850.8,524.5 L851.3,524.4 L851.8,524.3 L852.3,524.1 L852.8,524.0 L853.3,523.8 L853.8,523.7 L854.3,523.6 L854.8,523.4 L855.3,523.2 L855.8,523.1 L856.4,522.9 L856.9,522.8 L857.4,522.6 L857.9,522.4 L858.4,522.3 L858.9,522.1 L859.4,522.0 L859.6,521.9 L859.9,521.8 L860.4,521.7 L860.9,521.5 L861.4,521.3 L861.9,521.1 L862.4,520.9 L862.9,520.7 L863.4,520.5 L863.9,520.3 L864.4,520.2 L864.9,520.0 L865.4,519.8 L865.9,519.7 L866.4,519.6 L866.9,519.4 L867.1,519.4 L867.4,519.4 L867.9,519.3 L868.4,519.2 L868.9,519.2 L869.4,519.1 L869.9,519.0 L870.4,519.0 L870.9,519.0 L871.4,518.9 L871.9,518.9 L872.1,518.9 L872.4,518.9 L872.9,518.9 L873.4,519.0 L873.9,519.0 L874.4,519.1 L874.9,519.2 L875.4,519.3 L875.9,519.5 L876.4,519.6 L876.9,519.7 L877.4,519.9 L877.9,520.0 L878.4,520.2 L878.4,520.2 L878.9,520.3 L879.4,520.5 L879.9,520.7 L880.4,521.0 L880.9,521.2 L881.4,521.5 L881.9,521.8 L882.4,522.1 L882.9,522.4 L883.4,522.7 L883.9,523.0 L884.4,523.3 L884.9,523.5 L885.4,523.8 L885.9,524.0 L886.4,524.2 L886.9,524.3 L887.1,524.4 L887.4,524.5 L887.9,524.6 L888.4,524.7 L888.9,524.8 L889.4,525.0 L889.9,525.1 L890.4,525.2 L890.9,525.3 L891.4,525.4 L891.9,525.5 L892.4,525.6 L892.9,525.7 L893.4,525.8 L893.9,525.9 L894.4,526.0 L894.9,526.0 L895.4,526.1 L895.9,526.2 L896.4,526.2 L896.9,526.3 L897.4,526.3 L897.9,526.3 L898.4,526.4 L898.9,526.4 L899.4,526.4 L899.6,526.4 L899.9,526.4 L900.4,526.4 L900.9,526.4 L901.4,526.4 L901.9,526.4 L902.4,526.4 L902.9,526.4 L903.4,526.4 L903.9,526.4 L904.4,526.4 L904.9,526.4 L905.4,526.4 L905.9,526.4 L906.4,526.4 L906.9,526.4 L907.4,526.4 L907.9,526.4 L908.4,526.4 L908.9,526.4 L909.4,526.4 L909.9,526.4 L910.4,526.4 L910.9,526.4 L911.4,526.4 L911.9,526.4 L912.4,526.4 L912.9,526.4 L913.4,526.4 L913.9,526.4 L914.4,526.4 L914.9,526.4 L915.4,526.4 L915.9,526.4 L916.4,526.4 L916.9,526.4 L917.4,526.4 L917.9,526.4 L918.4,526.4 L918.9,526.4 L919.4,526.4 L919.9,526.4 L920.4,526.4 L920.9,526.4 L921.4,526.4 L921.9,526.4 L922.4,526.4 L922.9,526.4 L923.4,526.4 L923.9,526.4 L924.4,526.4 L924.5,526.4 L924.9,526.4 L925.4,526.4 L925.9,526.4 L926.4,526.4 L926.9,526.4 L927.4,526.4 L927.9,526.4 L928.4,526.3 L928.9,526.3 L929.4,526.3 L929.9,526.3 L930.4,526.3 L930.9,526.3 L931.4,526.3 L931.9,526.2 L932.4,526.2 L932.9,526.2 L933.4,526.2 L933.9,526.2 L934.4,526.1 L934.9,526.1 L935.4,526.1 L935.9,526.1 L936.4,526.0 L936.9,526.0 L937.4,526.0 L937.9,525.9 L938.4,525.9 L938.9,525.9 L939.4,525.8 L939.9,525.8 L940.0,525.8 L940.4,525.8 L940.9,525.7 L941.4,525.6 L941.9,525.5 L942.4,525.4 L942.9,525.3 L943.4,525.2 L943.9,525.1 L944.4,524.9 L944.9,524.8 L945.4,524.6 L945.9,524.5 L946.4,524.3 L946.9,524.1 L947.4,524.0 L947.9,523.8 L948.4,523.7 L948.4,523.7 L948.9,523.5 L949.4,523.4 L949.9,523.2 L950.4,523.0 L950.9,522.9 L951.4,522.7 L951.9,522.5 L952.4,522.3 L952.9,522.1 L953.4,521.9 L953.9,521.7 L954.4,521.5 L954.9,521.3 L955.4,521.1 L955.9,520.9 L956.4,520.7 L956.8,520.5 L956.9,520.5 L957.4,520.3 L957.9,520.0 L958.4,519.8 L958.9,519.5 L959.4,519.2 L960.0,519.0 L960.5,518.7 L961.0,518.4 L961.5,518.2 L962.0,517.9 L962.5,517.6 L963.0,517.4 L963.5,517.1 L964.0,516.9 L964.5,516.6 L965.0,516.4 L965.3,516.3 L965.5,516.2 L966.0,516.1 L966.5,515.9 L967.0,515.7 L967.5,515.6 L968.0,515.4 L968.5,515.3 L969.0,515.1 L969.5,515.0 L970.0,514.8 L970.5,514.7 L971.0,514.6 L971.5,514.4 L972.0,514.3 L972.5,514.2 L973.0,514.0 L973.5,513.9 L974.0,513.7 L974.5,513.6 L975.0,513.4 L975.5,513.3 L975.8,513.2 L976.0,513.1 L976.5,512.9 L977.0,512.8 L977.5,512.6 L978.0,512.5 L978.5,512.3 L979.0,512.2 L979.5,512.0 L980.0,511.8 L980.5,511.7 L981.0,511.5 L981.5,511.3 L982.0,511.1 L982.5,510.9 L983.0,510.6 L983.5,510.4 L984.0,510.1 L984.2,510.0 L984.5,509.8 L985.0,509.5 L985.5,509.1 L986.0,508.7 L986.5,508.3 L987.0,507.8 L987.5,507.2 L988.0,506.7 L988.5,506.1 L989.0,505.4 L989.5,504.7 L989.5,504.7 L990.0,504.0 L990.5,503.1 L991.0,502.0 L991.5,500.9 L992.0,499.8 L992.5,498.5 L992.5,498.5 L993.0,497.3 L993.5,495.9 L994.0,494.4 L994.5,492.9 L995.0,491.3 L995.5,489.6 L996.0,487.9 L996.5,486.1 L996.9,484.8 L997.0,484.3 L997.5,482.5 L998.0,480.6 L998.5,478.6 L999.0,476.5 L999.5,474.2 L1000.0,471.8 L1000.5,469.2 L1000.6,468.6 L1001.0,466.2 L1001.5,462.9 L1002.0,459.1 L1002.5,455.1 L1003.0,450.7 L1003.1,449.9 L1003.5,445.3 L1004.0,438.6 L1004.5,433.5 L1004.7,432.5 L1005.0,431.8 L1005.5,430.7 L1006.0,429.8 L1006.5,429.2 L1007.0,428.8 L1007.4,428.7 L1007.5,428.7 L1008.0,428.8 L1008.5,428.8 L1009.0,428.9 L1009.5,429.0 L1010.0,429.1 L1010.5,429.2 L1011.0,429.3 L1011.5,429.4 L1011.8,429.4 L1012.0,429.2 L1012.5,427.5 L1013.0,424.8 L1013.1,424.5 L1013.5,421.1 L1014.0,415.6 L1014.3,412.1 L1014.5,409.5 L1015.0,402.2 L1015.5,394.1 L1015.5,393.4 L1016.0,384.8 L1016.5,375.3 L1016.5,374.7 L1017.0,367.2 L1017.5,359.6 L1017.7,357.2 L1018.0,351.9 L1018.5,344.4 L1018.7,342.3 L1019.0,337.9 L1019.5,332.0 L1019.9,327.3 L1020.0,326.1 L1020.5,319.8 L1021.0,313.9 L1021.2,312.4 L1021.5,308.7 L1022.0,303.8 L1022.5,299.5 L1023.0,296.2 L1023.0,296.2 L1023.5,293.7 L1024.0,291.4 L1024.5,289.4 L1025.0,288.0 L1025.5,287.2 L1026.0,287.5 L1026.5,288.4 L1027.0,289.8 L1027.5,291.6 L1028.0,293.7 L1028.0,293.7 L1028.5,297.7 L1029.0,303.9 L1029.5,310.9 L1029.6,312.4 L1030.0,317.9 L1030.5,325.6 L1030.9,331.1 L1031.0,333.2 L1031.5,340.7 L1032.0,348.2 L1032.1,349.8 L1032.5,355.7 L1033.0,363.1 L1033.4,368.5 L1033.5,370.9 L1034.0,379.1 L1034.5,387.1 L1034.5,387.7 L1035.0,396.8 L1035.5,405.8 L1035.5,406.5 L1036.0,416.9 L1036.4,424.5 L1036.5,428.6 L1037.0,441.9 L1037.1,443.7 L1037.5,450.8 L1038.0,457.9 L1038.3,462.4 L1038.5,464.7 L1039.0,471.2 L1039.5,477.3 L1039.8,481.1 L1040.0,483.0 L1040.5,488.5 L1041.0,493.7 L1041.5,498.2 L1041.7,499.8 L1042.0,502.1 L1042.5,505.7 L1043.0,509.0 L1043.5,511.8 L1044.0,514.1 L1044.2,514.7 L1044.5,515.7 L1045.0,517.1 L1045.5,518.5 L1046.0,519.7 L1046.5,520.7 L1047.0,521.6 L1047.5,522.4 L1048.0,523.0 L1048.5,523.4 L1048.6,523.4 L1049.0,523.7 L1049.5,524.0 L1050.0,524.3 L1050.5,524.6 L1051.0,524.8 L1051.5,525.0 L1052.0,525.2 L1052.5,525.3 L1053.0,525.5 L1053.5,525.6 L1054.0,525.6 L1054.5,525.7 L1054.8,525.7 L1055.0,525.7 L1055.5,525.7 L1056.0,525.7 L1056.5,525.7 L1057.0,525.7 L1057.5,525.7 L1058.0,525.7 L1058.5,525.7 L1059.0,525.7 L1059.5,525.7 L1060.0,525.7 L1060.5,525.7 L1061.0,525.7 L1061.5,525.7 L1062.0,525.7 L1062.5,525.7 L1063.0,525.7 L1063.5,525.7 L1064.0,525.7 L1064.5,525.7 L1065.0,525.7 L1065.5,525.7 L1066.0,525.7 L1066.5,525.7 L1067.0,525.7 L1067.5,525.7 L1068.0,525.7 L1068.5,525.7 L1069.0,525.7 L1069.5,525.7 L1070.0,525.7 L1070.0,525.7 L1070.5,525.7 L1071.0,525.7 L1071.5,525.7 L1072.0,525.7 L1072.5,525.7 L1073.0,525.7 L1073.5,525.7 L1074.0,525.7 L1074.5,525.7 L1075.0,525.7 L1075.5,525.8 L1076.0,525.8 L1076.5,525.8 L1077.0,525.8 L1077.5,525.8 L1078.0,525.8 L1078.5,525.8 L1079.0,525.8 L1079.5,525.9 L1080.0,525.9 L1080.5,525.9 L1081.0,525.9 L1081.5,525.9 L1082.0,525.9 L1082.5,526.0 L1083.0,526.0 L1083.5,526.0 L1084.0,526.0 L1084.5,526.0 L1085.0,526.1 L1085.5,526.1 L1086.0,526.1 L1086.5,526.1 L1087.0,526.1 L1087.5,526.1 L1088.0,526.2 L1088.5,526.2 L1089.0,526.2 L1089.5,526.2 L1090.0,526.2 L1090.5,526.2 L1091.0,526.3 L1091.5,526.3 L1092.0,526.3 L1092.5,526.3 L1093.0,526.3 L1093.5,526.3 L1094.0,526.3 L1094.5,526.4 L1095.0,526.4 L1095.5,526.4 L1096.0,526.4 L1096.5,526.4 L1097.0,526.4 L1097.5,526.4 L1098.0,526.4 L1098.5,526.4 L1099.0,526.4 L1099.5,526.4 L1100.0,526.4 L1100.0,526.4 L1100.5,526.4 L1101.0,526.4 L1101.5,526.4 L1102.0,526.4 L1102.5,526.4 L1103.0,526.4 L1103.5,526.4 L1104.0,526.4 L1104.5,526.4 L1105.0,526.4 L1105.5,526.3 L1106.0,526.3 L1106.5,526.3 L1107.0,526.3 L1107.5,526.3 L1108.0,526.3 L1108.5,526.2 L1109.0,526.2 L1109.5,526.2 L1110.0,526.2 L1110.5,526.2 L1111.0,526.1 L1111.5,526.1 L1112.0,526.1 L1112.5,526.1 L1113.0,526.0 L1113.5,526.0 L1114.0,526.0 L1114.5,525.9 L1115.0,525.9 L1115.5,525.9 L1116.0,525.9 L1116.5,525.8 L1117.0,525.8 L1117.5,525.8 L1118.0,525.7 L1118.5,525.7 L1119.0,525.7 L1119.5,525.6 L1120.0,525.6 L1120.5,525.5 L1121.0,525.5 L1121.5,525.5 L1122.0,525.4 L1122.5,525.4 L1123.0,525.4 L1123.5,525.3 L1124.0,525.3 L1124.5,525.2 L1125.0,525.2 L1125.5,525.2 L1126.0,525.1 L1126.5,525.1 L1127.0,525.0 L1127.5,525.0 L1128.0,525.0 L1128.5,524.9 L1129.0,524.9 L1129.5,524.8 L1130.0,524.8 L1130.5,524.8 L1131.0,524.7 L1131.5,524.7 L1132.0,524.6 L1132.5,524.6 L1133.0,524.6 L1133.5,524.5 L1134.0,524.5 L1134.5,524.5 L1135.0,524.4 L1135.3,524.4 L1135.5,524.4 L1136.0,524.3 L1136.5,524.3 L1137.0,524.2 L1137.5,524.2 L1138.0,524.2 L1138.5,524.1 L1139.0,524.1 L1139.5,524.0 L1140.0,524.0 L1140.5,523.9 L1141.0,523.9 L1141.5,523.8 L1142.0,523.8 L1142.5,523.7 L1143.0,523.6 L1143.5,523.6 L1144.0,523.5 L1144.5,523.5 L1145.0,523.4 L1145.5,523.4 L1146.0,523.3 L1146.5,523.2 L1147.0,523.2 L1147.5,523.1 L1148.0,523.1 L1148.5,523.0 L1149.0,522.9 L1149.5,522.9 L1150.0,522.8 L1150.5,522.8 L1151.0,522.7 L1151.5,522.6 L1152.0,522.6 L1152.5,522.5 L1153.0,522.5 L1153.5,522.4 L1154.0,522.3 L1154.5,522.3 L1155.0,522.2 L1155.5,522.2 L1156.0,522.1 L1156.5,522.0 L1157.0,522.0 L1157.5,521.9 L1157.7,521.9 L1158.0,521.9 L1158.5,521.8 L1159.0,521.7 L1159.5,521.7 L1160.0,521.6 L1160.5,521.5 L1161.0,521.4 L1161.5,521.4 L1162.0,521.3 L1162.5,521.2 L1163.0,521.1 L1163.5,521.1 L1164.0,521.0 L1164.5,520.9 L1165.0,520.8 L1165.5,520.8 L1166.0,520.7 L1166.5,520.6 L1167.0,520.6 L1167.5,520.5 L1168.0,520.4 L1168.5,520.4 L1169.0,520.3 L1169.5,520.3 L1170.0,520.3 L1170.5,520.2 L1171.0,520.2 L1171.5,520.2 L1172.0,520.2 L1172.5,520.2 L1172.7,520.2 L1173.0,520.2 L1173.5,520.2 L1174.0,520.2 L1174.5,520.2 L1175.0,520.2 L1175.5,520.2 L1176.0,520.2 L1176.5,520.2 L1177.0,520.2 L1177.5,520.2 L1178.0,520.2 L1178.5,520.2 L1178.9,520.2 L1179.0,520.2 L1179.5,520.2 L1180.0,520.3 L1180.6,520.5 L1181.1,520.8 L1181.6,521.0 L1182.1,521.3 L1182.6,521.6 L1183.1,522.0 L1183.6,522.3 L1184.1,522.6 L1184.6,522.9 L1185.1,523.1 L1185.1,523.1 L1185.6,523.3 L1186.1,523.6 L1186.6,523.8 L1187.1,524.0 L1187.6,524.3 L1188.1,524.5 L1188.6,524.8 L1189.1,525.0 L1189.6,525.3 L1190.1,525.5 L1190.6,525.7 L1191.1,525.9 L1191.6,526.1 L1192.1,526.3 L1192.6,526.5 L1193.1,526.6 L1193.6,526.7 L1194.1,526.8 L1194.6,526.9 L1195.1,526.9 L1195.1,526.9 L1195.6,526.9 L1196.1,526.9 L1196.6,526.9 L1197.1,526.9 L1197.6,526.9 L1198.1,526.9 L1198.6,526.9 L1199.1,526.9 L1199.6,526.9 L1200.1,526.9 L1200.6,526.9 L1201.1,526.9 L1201.6,526.9 L1202.1,526.9 L1202.6,526.9 L1203.1,526.9 L1203.6,526.9 L1204.1,526.9 L1204.6,526.9 L1205.1,526.9 L1205.1,526.9 L1205.6,526.9 L1206.1,526.9 L1206.6,526.9 L1207.1,526.9 L1207.6,526.9 L1208.1,526.8 L1208.6,526.8 L1209.1,526.8 L1209.6,526.8 L1210.1,526.8 L1210.6,526.7 L1211.1,526.7 L1211.6,526.7 L1212.1,526.6 L1212.6,526.6 L1213.1,526.6 L1213.6,526.5 L1214.1,526.5 L1214.6,526.5 L1215.1,526.4 L1215.6,526.4 L1216.1,526.3 L1216.6,526.3 L1217.1,526.2 L1217.6,526.2 L1218.1,526.1 L1218.6,526.1 L1219.1,526.0 L1219.6,526.0 L1220.1,525.9 L1220.6,525.9 L1221.1,525.8 L1221.6,525.8 L1222.1,525.7 L1222.6,525.6"/>
<path class="c" d="M722.0,678.4 L722.5,678.4 L723.0,678.4 L723.5,678.4 L724.0,678.4 L724.5,678.3 L725.0,678.3 L725.5,678.3 L726.0,678.3 L726.5,678.3 L727.0,678.3 L727.5,678.3 L728.0,678.3 L728.5,678.3 L729.0,678.2 L729.5,678.2 L730.0,678.2 L730.5,678.2 L731.0,678.2 L731.5,678.2 L732.0,678.2 L732.5,678.2 L733.0,678.2 L733.5,678.2 L734.0,678.1 L734.5,678.1 L735.0,678.1 L735.5,678.1 L736.0,678.1 L736.5,678.1 L737.0,678.1 L737.5,678.1 L738.0,678.1 L738.5,678.1 L739.0,678.0 L739.5,678.0 L740.0,678.0 L740.5,678.0 L741.0,678.0 L741.5,678.0 L742.0,678.0 L742.5,678.0 L743.0,678.0 L743.5,678.0 L744.0,678.0 L744.5,677.9 L745.0,677.9 L745.5,677.9 L746.0,677.9 L746.5,677.9 L747.0,677.9 L747.5,677.9 L748.0,677.9 L748.5,677.9 L749.0,677.9 L749.5,677.9 L750.0,677.9 L750.5,677.8 L751.0,677.8 L751.5,677.8 L752.0,677.8 L752.5,677.8 L753.0,677.8 L753.5,677.8 L754.0,677.8 L754.5,677.8 L755.0,677.8 L755.5,677.8 L756.0,677.8 L756.5,677.8 L757.0,677.8 L757.5,677.8 L758.0,677.7 L758.5,677.7 L759.0,677.7 L759.5,677.7 L760.0,677.7 L760.5,677.7 L761.0,677.7 L761.5,677.7 L762.0,677.7 L762.5,677.7 L763.0,677.7 L763.5,677.7 L764.0,677.7 L764.5,677.7 L765.0,677.7 L765.5,677.7 L766.0,677.7 L766.5,677.7 L767.0,677.7 L767.5,677.7 L768.0,677.7 L768.5,677.7 L769.0,677.7 L769.5,677.7 L770.0,677.7 L770.5,677.7 L771.0,677.7 L771.5,677.7 L772.0,677.7 L772.5,677.7 L773.0,677.7 L773.5,677.7 L774.0,677.7 L774.5,677.7 L774.8,677.7 L775.0,677.7 L775.5,677.7 L776.0,677.7 L776.5,677.7 L777.0,677.7 L777.5,677.7 L778.0,677.7 L778.5,677.7 L779.0,677.7 L779.5,677.7 L780.0,677.7 L780.5,677.7 L781.0,677.7 L781.5,677.7 L782.0,677.7 L782.5,677.7 L783.0,677.7 L783.5,677.7 L784.0,677.7 L784.5,677.7 L785.0,677.7 L785.5,677.7 L786.0,677.7 L786.5,677.7 L787.0,677.7 L787.5,677.7 L788.0,677.7 L788.5,677.7 L789.0,677.7 L789.5,677.7 L790.1,677.7 L790.6,677.7 L791.1,677.7 L791.6,677.7 L792.1,677.7 L792.6,677.7 L793.1,677.7 L793.6,677.7 L794.1,677.7 L794.6,677.7 L795.1,677.7 L795.6,677.7 L796.1,677.7 L796.6,677.7 L797.1,677.7 L797.6,677.7 L798.1,677.7 L798.6,677.7 L799.1,677.7 L799.6,677.7 L800.1,677.7 L800.6,677.7 L801.1,677.7 L801.6,677.7 L802.1,677.7 L802.6,677.7 L803.1,677.7 L803.6,677.7 L804.1,677.7 L804.6,677.7 L805.1,677.7 L805.6,677.7 L806.1,677.7 L806.6,677.7 L807.1,677.7 L807.6,677.7 L808.1,677.7 L808.6,677.7 L809.1,677.7 L809.6,677.7 L810.1,677.7 L810.6,677.7 L811.1,677.7 L811.6,677.7 L812.1,677.7 L812.3,677.7 L812.6,677.7 L813.1,677.7 L813.6,677.6 L814.1,677.6 L814.6,677.6 L815.1,677.6 L815.6,677.6 L816.1,677.6 L816.6,677.6 L817.1,677.6 L817.6,677.6 L818.1,677.6 L818.6,677.5 L819.1,677.5 L819.6,677.5 L820.1,677.5 L820.6,677.5 L821.1,677.5 L821.6,677.4 L822.1,677.4 L822.6,677.4 L823.1,677.4 L823.6,677.3 L824.1,677.3 L824.6,677.3 L825.1,677.3 L825.6,677.2 L826.1,677.2 L826.6,677.2 L827.1,677.1 L827.6,677.1 L828.1,677.1 L828.6,677.0 L829.1,677.0 L829.6,677.0 L830.1,676.9 L830.6,676.9 L831.1,676.9 L831.6,676.8 L832.1,676.8 L832.6,676.8 L833.1,676.7 L833.6,676.7 L834.1,676.6 L834.6,676.6 L835.1,676.6 L835.6,676.5 L836.1,676.5 L836.6,676.5 L837.1,676.4 L837.2,676.4 L837.6,676.4 L838.1,676.3 L838.6,676.3 L839.1,676.2 L839.6,676.2 L840.1,676.1 L840.6,676.1 L841.1,676.0 L841.6,675.9 L842.1,675.9 L842.6,675.8 L843.1,675.7 L843.6,675.7 L844.1,675.6 L844.6,675.5 L845.1,675.4 L845.6,675.3 L846.1,675.3 L846.6,675.2 L847.1,675.1 L847.6,675.0 L848.1,674.9 L848.6,674.8 L849.1,674.7 L849.6,674.6 L850.1,674.5 L850.6,674.4 L851.1,674.3 L851.6,674.1 L852.1,674.0 L852.6,673.9 L853.1,673.8 L853.6,673.7 L854.1,673.5 L854.6,673.4 L854.7,673.4 L855.1,673.3 L855.6,673.1 L856.1,672.9 L856.6,672.7 L857.1,672.5 L857.6,672.3 L858.1,672.0 L858.6,671.8 L859.2,671.5 L859.7,671.3 L860.2,671.0 L860.7,670.8 L861.2,670.5 L861.7,670.3 L862.2,670.0 L862.7,669.8 L863.2,669.6 L863.7,669.5 L864.2,669.3 L864.6,669.2 L864.7,669.2 L865.2,669.0 L865.7,668.9 L866.2,668.8 L866.7,668.7 L867.2,668.6 L867.7,668.4 L868.2,668.3 L868.7,668.2 L869.2,668.1 L869.7,668.0 L870.2,668.0 L870.7,667.9 L871.2,667.8 L871.7,667.8 L872.2,667.7 L872.7,667.7 L873.2,667.7 L873.4,667.7 L873.7,667.7 L874.2,667.7 L874.7,667.7 L875.2,667.8 L875.7,667.9 L876.2,668.0 L876.7,668.1 L877.2,668.2 L877.7,668.3 L878.2,668.4 L878.7,668.5 L879.2,668.7 L879.7,668.8 L880.2,669.0 L880.7,669.1 L880.9,669.2 L881.2,669.3 L881.7,669.5 L882.2,669.7 L882.7,670.0 L883.2,670.3 L883.7,670.6 L884.2,670.9 L884.7,671.2 L885.2,671.6 L885.7,671.9 L886.2,672.3 L886.7,672.6 L887.2,672.9 L887.7,673.3 L888.2,673.5 L888.7,673.8 L889.2,674.0 L889.6,674.2 L889.7,674.2 L890.2,674.4 L890.7,674.5 L891.2,674.7 L891.7,674.9 L892.2,675.1 L892.7,675.2 L893.2,675.4 L893.7,675.6 L894.2,675.7 L894.7,675.9 L895.2,676.0 L895.7,676.2 L896.2,676.3 L896.7,676.5 L897.2,676.6 L897.7,676.7 L898.2,676.8 L898.7,676.9 L899.2,677.1 L899.7,677.2 L900.2,677.2 L900.7,677.3 L901.2,677.4 L901.7,677.5 L902.2,677.5 L902.7,677.6 L903.2,677.6 L903.7,677.6 L904.2,677.6 L904.5,677.7 L904.7,677.7 L905.2,677.6 L905.7,677.6 L906.2,677.6 L906.7,677.6 L907.2,677.6 L907.7,677.6 L908.2,677.5 L908.7,677.5 L909.2,677.5 L909.7,677.4 L910.2,677.4 L910.7,677.4 L911.2,677.3 L911.7,677.3 L912.2,677.3 L912.7,677.2 L913.2,677.2 L913.7,677.1 L914.2,677.1 L914.7,677.1 L915.2,677.0 L915.7,677.0 L916.2,677.0 L916.7,676.9 L917.2,676.9 L917.7,676.9 L918.2,676.9 L918.7,676.9 L919.2,676.8 L919.7,676.8 L920.0,676.8 L920.2,676.8 L920.7,676.8 L921.2,676.9 L921.7,676.9 L922.2,676.9 L922.7,676.9 L923.2,676.9 L923.7,676.9 L924.2,677.0 L924.7,677.0 L925.2,677.0 L925.7,677.1 L926.2,677.1 L926.7,677.2 L927.2,677.2 L927.8,677.2 L928.3,677.3 L928.8,677.3 L929.3,677.4 L929.8,677.4 L930.3,677.4 L930.8,677.5 L931.3,677.5 L931.8,677.6 L932.3,677.6 L932.8,677.6 L933.3,677.7 L933.8,677.7 L934.3,677.8 L934.8,677.8 L935.3,677.8 L935.8,677.8 L936.3,677.9 L936.8,677.9 L936.8,677.9 L937.3,677.9 L937.8,677.9 L938.3,678.0 L938.8,678.0 L939.3,678.0 L939.8,678.0 L940.3,678.0 L940.8,678.1 L941.3,678.1 L941.8,678.1 L942.3,678.1 L942.8,678.1 L943.3,678.1 L943.8,678.2 L944.3,678.2 L944.8,678.2 L945.3,678.2 L945.8,678.2 L946.3,678.2 L946.8,678.3 L947.3,678.3 L947.8,678.3 L948.3,678.3 L948.8,678.3 L949.3,678.3 L949.8,678.3 L950.3,678.3 L950.8,678.3 L951.3,678.3 L951.6,678.3 L951.8,678.3 L952.3,678.3 L952.8,678.2 L953.3,678.1 L953.8,677.9 L954.3,677.7 L954.8,677.5 L955.3,677.3 L955.8,677.0 L956.3,676.7 L956.8,676.4 L957.3,676.1 L957.8,675.8 L957.9,675.8 L958.3,675.5 L958.8,675.1 L959.3,674.6 L959.8,674.1 L960.3,673.5 L960.8,672.9 L961.3,672.2 L961.8,671.5 L962.3,670.9 L962.8,670.2 L963.3,669.5 L963.8,668.9 L964.2,668.4 L964.3,668.3 L964.8,667.7 L965.3,667.2 L965.8,666.7 L966.3,666.1 L966.8,665.6 L967.3,665.1 L967.8,664.5 L968.3,664.0 L968.8,663.5 L969.3,662.9 L969.8,662.3 L970.3,661.7 L970.8,661.0 L971.3,660.4 L971.6,660.0 L971.8,659.7 L972.3,658.9 L972.8,658.0 L973.3,657.1 L973.8,656.2 L974.3,655.2 L974.8,654.2 L975.3,653.2 L975.8,652.2 L976.3,651.2 L976.8,650.3 L977.3,649.4 L977.8,648.5 L977.9,648.4 L978.3,647.7 L978.8,646.9 L979.3,646.1 L979.8,645.4 L980.3,644.6 L980.8,643.9 L981.3,643.2 L981.8,642.5 L982.3,641.9 L982.8,641.4 L983.2,641.1 L983.3,640.9 L983.8,640.5 L984.3,640.1 L984.8,639.7 L985.3,639.3 L985.8,639.0 L986.3,638.6 L986.8,638.3 L987.3,638.0 L987.8,637.8 L988.3,637.5 L988.8,637.2 L989.3,636.9 L989.5,636.8 L989.8,636.6 L990.3,636.4 L990.8,636.2 L991.3,636.0 L991.8,635.8 L992.3,635.6 L992.8,635.4 L993.3,635.3 L993.8,635.1 L994.3,634.8 L994.8,634.6 L995.3,634.3 L995.8,634.0 L996.2,633.7 L996.3,633.6 L996.9,633.1 L997.4,632.4 L997.9,631.7 L998.4,630.8 L998.9,629.8 L999.4,628.8 L999.9,627.7 L1000.0,627.4 L1000.4,626.5 L1000.9,625.1 L1001.4,623.6 L1001.9,621.9 L1002.4,620.0 L1002.9,618.1 L1003.2,616.8 L1003.4,616.0 L1003.9,614.1 L1004.4,612.0 L1004.9,609.5 L1005.4,606.4 L1005.9,602.4 L1005.9,602.1 L1006.4,593.4 L1006.8,584.9 L1006.9,584.5 L1007.4,580.6 L1007.9,577.9 L1008.1,577.0 L1008.4,575.7 L1008.9,573.7 L1009.4,572.3 L1009.7,572.0 L1009.9,572.1 L1010.4,572.5 L1010.9,573.1 L1011.4,573.8 L1011.4,573.9 L1011.9,574.7 L1012.4,575.7 L1012.9,576.3 L1013.1,576.4 L1013.4,575.5 L1013.9,571.9 L1014.3,568.3 L1014.4,567.7 L1014.9,563.2 L1015.4,557.8 L1015.5,555.8 L1015.9,551.4 L1016.4,543.6 L1016.8,537.1 L1016.9,535.8 L1017.4,528.7 L1017.9,521.1 L1018.0,518.5 L1018.4,511.4 L1018.9,500.3 L1018.9,499.8 L1019.4,490.5 L1019.9,481.5 L1019.9,481.1 L1020.4,473.3 L1020.9,465.8 L1021.2,462.4 L1021.4,459.6 L1021.9,453.9 L1022.4,449.2 L1022.6,447.4 L1022.9,446.0 L1023.4,443.3 L1023.9,440.9 L1024.4,439.2 L1024.9,438.5 L1025.4,439.1 L1025.9,440.7 L1026.4,443.0 L1026.9,445.9 L1027.1,447.4 L1027.4,449.5 L1027.9,455.4 L1028.4,462.4 L1028.4,462.6 L1028.9,471.5 L1029.4,481.1 L1029.4,481.4 L1029.9,490.8 L1030.4,499.8 L1030.4,500.2 L1030.9,509.6 L1031.4,518.5 L1031.4,518.9 L1031.9,528.0 L1032.4,537.1 L1032.4,537.8 L1032.9,550.3 L1033.1,555.8 L1033.4,562.6 L1033.9,574.5 L1033.9,575.6 L1034.4,595.0 L1034.9,613.5 L1034.9,614.7 L1035.4,625.2 L1035.9,634.6 L1036.4,641.9 L1036.4,642.1 L1036.9,647.6 L1037.4,652.5 L1037.9,656.4 L1038.3,658.9 L1038.4,659.4 L1038.9,661.9 L1039.4,664.1 L1039.9,666.0 L1040.4,667.6 L1040.9,668.9 L1041.3,669.5 L1041.4,669.7 L1041.9,670.3 L1042.4,670.9 L1042.9,671.5 L1043.4,671.9 L1043.9,672.4 L1044.4,672.7 L1044.9,673.0 L1045.4,673.3 L1045.9,673.5 L1046.3,673.7 L1046.4,673.7 L1046.9,673.9 L1047.4,674.1 L1047.9,674.2 L1048.4,674.4 L1048.9,674.5 L1049.4,674.7 L1049.9,674.8 L1050.4,674.9 L1050.9,675.0 L1051.4,675.2 L1051.9,675.3 L1052.4,675.4 L1052.9,675.4 L1053.4,675.5 L1053.9,675.6 L1054.4,675.7 L1054.9,675.7 L1055.4,675.7 L1055.9,675.8 L1056.4,675.8 L1056.8,675.8 L1056.9,675.8 L1057.4,675.8 L1057.9,675.8 L1058.4,675.8 L1058.9,675.8 L1059.4,675.8 L1059.9,675.8 L1060.4,675.8 L1060.9,675.8 L1061.4,675.8 L1061.9,675.7 L1062.4,675.7 L1062.9,675.7 L1063.4,675.7 L1063.9,675.7 L1064.4,675.7 L1064.9,675.7 L1065.4,675.7 L1065.9,675.7 L1066.4,675.7 L1066.9,675.7 L1067.4,675.6 L1067.9,675.6 L1068.4,675.6 L1068.9,675.6 L1069.4,675.6 L1069.9,675.6 L1070.4,675.6 L1070.9,675.6 L1071.4,675.5 L1071.9,675.5 L1072.4,675.5 L1072.9,675.5 L1073.4,675.5 L1073.9,675.5 L1074.4,675.5 L1074.9,675.5 L1075.4,675.5 L1075.9,675.4 L1076.4,675.4 L1076.9,675.4 L1077.4,675.4 L1077.9,675.4 L1078.4,675.4 L1078.9,675.4 L1079.4,675.4 L1079.9,675.4 L1080.0,675.4 L1080.4,675.4 L1080.9,675.4 L1081.4,675.3 L1081.9,675.3 L1082.4,675.3 L1082.9,675.3 L1083.4,675.3 L1083.9,675.3 L1084.4,675.3 L1084.9,675.3 L1085.4,675.3 L1085.9,675.3 L1086.4,675.3 L1086.9,675.3 L1087.4,675.3 L1087.9,675.3 L1088.4,675.3 L1088.9,675.3 L1089.4,675.3 L1089.9,675.3 L1090.4,675.3 L1090.9,675.3 L1091.5,675.2 L1092.0,675.2 L1092.5,675.2 L1093.0,675.2 L1093.5,675.2 L1094.0,675.2 L1094.5,675.2 L1095.0,675.2 L1095.5,675.2 L1096.0,675.2 L1096.5,675.2 L1097.0,675.2 L1097.5,675.2 L1097.8,675.2 L1098.0,675.2 L1098.5,675.1 L1099.0,675.1 L1099.5,675.1 L1100.0,675.1 L1100.5,675.1 L1101.0,675.1 L1101.5,675.1 L1102.0,675.1 L1102.5,675.1 L1103.0,675.0 L1103.5,675.0 L1104.0,675.0 L1104.5,675.0 L1105.0,675.0 L1105.5,675.0 L1106.0,675.0 L1106.5,674.9 L1107.0,674.9 L1107.5,674.9 L1108.0,674.9 L1108.5,674.9 L1109.0,674.9 L1109.5,674.8 L1110.0,674.8 L1110.5,674.8 L1111.0,674.8 L1111.5,674.8 L1112.0,674.8 L1112.5,674.7 L1113.0,674.7 L1113.5,674.7 L1114.0,674.7 L1114.5,674.6 L1115.0,674.6 L1115.5,674.6 L1116.0,674.6 L1116.5,674.6 L1117.0,674.5 L1117.5,674.5 L1118.0,674.5 L1118.5,674.5 L1119.0,674.4 L1119.5,674.4 L1120.0,674.4 L1120.5,674.4 L1121.0,674.3 L1121.5,674.3 L1122.0,674.3 L1122.5,674.2 L1123.0,674.2 L1123.5,674.2 L1124.0,674.2 L1124.5,674.1 L1125.0,674.1 L1125.5,674.1 L1126.0,674.0 L1126.5,674.0 L1127.0,674.0 L1127.5,673.9 L1128.0,673.9 L1128.5,673.9 L1129.0,673.9 L1129.5,673.8 L1130.0,673.8 L1130.5,673.8 L1131.0,673.7 L1131.5,673.7 L1132.0,673.6 L1132.5,673.6 L1133.0,673.6 L1133.5,673.5 L1134.0,673.5 L1134.5,673.5 L1135.0,673.4 L1135.3,673.4 L1135.5,673.4 L1136.0,673.4 L1136.5,673.3 L1137.0,673.3 L1137.5,673.2 L1138.0,673.2 L1138.5,673.1 L1139.0,673.1 L1139.5,673.0 L1140.0,673.0 L1140.5,672.9 L1141.0,672.9 L1141.5,672.8 L1142.0,672.7 L1142.5,672.7 L1143.0,672.6 L1143.5,672.5 L1144.0,672.5 L1144.5,672.4 L1145.0,672.3 L1145.5,672.2 L1146.0,672.2 L1146.5,672.1 L1147.0,672.0 L1147.5,671.9 L1148.0,671.8 L1148.5,671.7 L1149.0,671.7 L1149.5,671.6 L1150.0,671.5 L1150.5,671.4 L1151.0,671.3 L1151.5,671.2 L1152.0,671.1 L1152.5,671.0 L1152.7,670.9 L1153.0,670.9 L1153.5,670.7 L1154.0,670.6 L1154.5,670.4 L1155.0,670.2 L1155.5,670.0 L1156.0,669.8 L1156.5,669.6 L1157.0,669.4 L1157.5,669.2 L1158.0,668.9 L1158.5,668.7 L1159.0,668.4 L1159.5,668.2 L1160.0,667.9 L1160.5,667.7 L1161.0,667.5 L1161.5,667.2 L1162.0,667.0 L1162.5,666.8 L1163.0,666.6 L1163.5,666.4 L1164.0,666.3 L1164.5,666.1 L1165.0,666.0 L1165.2,665.9 L1165.5,665.8 L1166.0,665.7 L1166.5,665.6 L1167.0,665.5 L1167.5,665.4 L1168.0,665.2 L1168.5,665.1 L1169.0,665.0 L1169.5,664.9 L1170.0,664.8 L1170.5,664.7 L1171.0,664.6 L1171.5,664.5 L1172.0,664.4 L1172.5,664.4 L1173.0,664.3 L1173.5,664.3 L1174.0,664.2 L1174.5,664.2 L1175.0,664.2 L1175.2,664.2 L1175.5,664.2 L1176.0,664.2 L1176.5,664.2 L1177.0,664.3 L1177.5,664.3 L1178.0,664.4 L1178.5,664.5 L1179.0,664.5 L1179.5,664.6 L1180.0,664.7 L1180.5,664.8 L1181.0,664.9 L1181.5,665.1 L1182.0,665.2 L1182.5,665.3 L1183.0,665.4 L1183.5,665.5 L1184.0,665.7 L1184.5,665.8 L1185.0,665.9 L1185.1,665.9 L1185.5,666.0 L1186.0,666.2 L1186.5,666.3 L1187.0,666.5 L1187.5,666.7 L1188.0,666.9 L1188.5,667.1 L1189.0,667.3 L1189.5,667.5 L1190.0,667.7 L1190.5,667.9 L1191.0,668.2 L1191.5,668.4 L1192.0,668.6 L1192.5,668.9 L1193.0,669.1 L1193.5,669.3 L1194.0,669.6 L1194.5,669.8 L1195.0,670.0 L1195.5,670.2 L1196.0,670.4 L1196.5,670.6 L1197.0,670.7 L1197.5,670.9 L1197.6,670.9 L1198.0,671.0 L1198.5,671.2 L1199.0,671.3 L1199.5,671.5 L1200.0,671.6 L1200.5,671.8 L1201.0,671.9 L1201.5,672.1 L1202.0,672.2 L1202.5,672.4 L1203.1,672.5 L1203.6,672.6 L1204.1,672.8 L1204.6,672.9 L1205.1,673.0 L1205.6,673.1 L1206.1,673.2 L1206.6,673.3 L1207.1,673.4 L1207.6,673.5 L1208.1,673.6 L1208.6,673.7 L1209.1,673.8 L1209.6,673.8 L1210.1,673.9 L1210.1,673.9 L1210.6,674.0 L1211.1,674.0 L1211.6,674.1 L1212.1,674.1 L1212.6,674.2 L1213.1,674.2 L1213.6,674.3 L1214.1,674.3 L1214.6,674.4 L1215.1,674.4 L1215.6,674.5 L1216.1,674.5 L1216.6,674.5 L1217.1,674.6 L1217.6,674.6 L1218.1,674.6 L1218.6,674.6 L1219.1,674.6 L1219.6,674.7 L1220.1,674.7"/>
<path class="c" d="M716.2,868.0 L716.7,868.0 L717.2,868.0 L717.7,868.1 L718.2,868.1 L718.7,868.1 L719.2,868.1 L719.7,868.1 L720.2,868.1 L720.7,868.1 L721.2,868.1 L721.7,868.2 L722.2,868.2 L722.7,868.2 L723.2,868.2 L723.7,868.2 L724.2,868.2 L724.7,868.2 L725.2,868.2 L725.7,868.2 L726.2,868.3 L726.7,868.3 L727.2,868.3 L727.7,868.3 L728.2,868.3 L728.7,868.3 L729.2,868.3 L729.7,868.3 L730.2,868.3 L730.7,868.3 L731.2,868.4 L731.7,868.4 L732.2,868.4 L732.7,868.4 L733.2,868.4 L733.7,868.4 L734.2,868.4 L734.7,868.4 L735.2,868.4 L735.7,868.4 L736.2,868.4 L736.7,868.4 L737.2,868.4 L737.7,868.4 L738.2,868.4 L738.7,868.5 L739.2,868.5 L739.7,868.5 L740.2,868.5 L740.7,868.5 L741.2,868.5 L741.7,868.5 L742.2,868.5 L742.7,868.5 L743.2,868.5 L743.7,868.5 L744.2,868.5 L744.7,868.5 L745.2,868.5 L745.7,868.5 L746.2,868.5 L746.7,868.5 L747.2,868.5 L747.7,868.5 L748.2,868.5 L748.7,868.5 L749.2,868.5 L749.7,868.5 L749.9,868.5 L750.2,868.5 L750.7,868.5 L751.2,868.5 L751.7,868.5 L752.2,868.5 L752.7,868.5 L753.2,868.5 L753.7,868.5 L754.2,868.5 L754.7,868.5 L755.2,868.5 L755.7,868.5 L756.2,868.5 L756.7,868.5 L757.2,868.5 L757.7,868.5 L758.2,868.5 L758.7,868.5 L759.2,868.5 L759.7,868.5 L760.2,868.5 L760.7,868.5 L761.2,868.5 L761.7,868.5 L762.2,868.4 L762.7,868.4 L763.2,868.4 L763.7,868.4 L764.2,868.4 L764.7,868.4 L765.2,868.4 L765.7,868.4 L766.2,868.4 L766.7,868.4 L767.2,868.4 L767.7,868.4 L768.2,868.4 L768.7,868.4 L769.2,868.4 L769.7,868.4 L770.2,868.3 L770.7,868.3 L771.2,868.3 L771.7,868.3 L772.2,868.3 L772.7,868.3 L773.2,868.3 L773.7,868.3 L774.2,868.3 L774.7,868.3 L775.2,868.3 L775.7,868.3 L776.2,868.2 L776.7,868.2 L777.2,868.2 L777.7,868.2 L778.2,868.2 L778.7,868.2 L779.2,868.2 L779.7,868.2 L780.2,868.2 L780.7,868.2 L781.2,868.1 L781.7,868.1 L782.2,868.1 L782.7,868.1 L783.2,868.1 L783.7,868.1 L784.2,868.1 L784.7,868.1 L785.2,868.1 L785.7,868.0 L786.2,868.0 L786.7,868.0 L787.2,868.0 L787.3,868.0 L787.7,868.0 L788.2,868.0 L788.7,868.0 L789.2,868.0 L789.7,867.9 L790.2,867.9 L790.7,867.9 L791.2,867.9 L791.7,867.9 L792.2,867.8 L792.7,867.8 L793.2,867.8 L793.7,867.7 L794.2,867.7 L794.7,867.7 L795.2,867.7 L795.7,867.6 L796.2,867.6 L796.7,867.6 L797.2,867.5 L797.7,867.5 L798.2,867.4 L798.7,867.4 L799.2,867.4 L799.7,867.3 L800.2,867.3 L800.7,867.2 L801.2,867.2 L801.7,867.1 L802.2,867.1 L802.7,867.0 L803.2,867.0 L803.7,867.0 L804.2,866.9 L804.7,866.9 L805.2,866.8 L805.7,866.7 L806.2,866.7 L806.7,866.6 L807.2,866.6 L807.7,866.5 L808.2,866.5 L808.7,866.4 L809.2,866.4 L809.7,866.3 L810.2,866.3 L810.7,866.2 L811.2,866.1 L811.7,866.1 L812.2,866.0 L812.3,866.0 L812.7,866.0 L813.2,865.9 L813.7,865.8 L814.2,865.7 L814.7,865.7 L815.2,865.6 L815.7,865.5 L816.2,865.4 L816.7,865.3 L817.2,865.2 L817.7,865.1 L818.2,865.0 L818.7,864.9 L819.2,864.7 L819.7,864.6 L820.2,864.5 L820.7,864.4 L821.2,864.3 L821.7,864.2 L822.2,864.0 L822.7,863.9 L823.2,863.8 L823.7,863.7 L824.2,863.5 L824.7,863.4 L825.2,863.3 L825.7,863.2 L826.2,863.1 L826.7,862.9 L827.2,862.8 L827.7,862.7 L828.2,862.6 L828.7,862.5 L829.2,862.4 L829.7,862.3 L829.7,862.3 L830.2,862.2 L830.7,862.1 L831.2,861.9 L831.7,861.8 L832.2,861.7 L832.7,861.6 L833.2,861.5 L833.7,861.4 L834.2,861.3 L834.7,861.1 L835.2,861.0 L835.7,860.9 L836.2,860.8 L836.7,860.7 L837.2,860.6 L837.7,860.4 L838.2,860.3 L838.7,860.2 L839.2,860.1 L839.7,860.0 L840.2,859.9 L840.7,859.8 L841.2,859.7 L841.7,859.7 L842.2,859.6 L842.7,859.5 L843.2,859.4 L843.7,859.4 L844.2,859.3 L844.7,859.3 L844.7,859.3 L845.2,859.2 L845.7,859.2 L846.2,859.1 L846.7,859.1 L847.2,859.1 L847.7,859.0 L848.2,859.0 L848.7,858.9 L849.2,858.9 L849.7,858.8 L850.2,858.8 L850.7,858.8 L851.2,858.7 L851.7,858.7 L852.2,858.7 L852.7,858.7 L853.2,858.6 L853.7,858.6 L854.2,858.6 L854.7,858.6 L855.2,858.6 L855.7,858.5 L856.2,858.5 L856.7,858.5 L857.2,858.5 L857.2,858.5 L857.7,858.5 L858.2,858.6 L858.7,858.6 L859.2,858.7 L859.7,858.8 L860.2,858.9 L860.7,859.0 L861.2,859.1 L861.7,859.3 L862.2,859.4 L862.7,859.5 L863.2,859.7 L863.7,859.9 L864.2,860.0 L864.7,860.2 L865.2,860.4 L865.7,860.6 L866.2,860.7 L866.7,860.9 L867.1,861.0 L867.2,861.1 L867.7,861.2 L868.2,861.5 L868.7,861.7 L869.2,861.9 L869.7,862.2 L870.2,862.4 L870.7,862.7 L871.2,863.0 L871.7,863.3 L872.2,863.6 L872.7,863.9 L873.2,864.2 L873.7,864.4 L874.2,864.7 L874.7,865.0 L875.2,865.2 L875.7,865.5 L876.2,865.7 L876.7,865.9 L877.1,866.0 L877.2,866.1 L877.7,866.2 L878.2,866.4 L878.7,866.6 L879.2,866.8 L879.7,867.0 L880.2,867.1 L880.7,867.3 L881.2,867.5 L881.7,867.7 L882.2,867.8 L882.7,868.0 L883.2,868.1 L883.7,868.3 L884.2,868.4 L884.7,868.6 L885.2,868.7 L885.7,868.8 L886.2,868.9 L886.7,869.0 L887.2,869.1 L887.7,869.1 L888.2,869.2 L888.7,869.2 L889.2,869.3 L889.6,869.3 L889.7,869.3 L890.2,869.2 L890.7,869.2 L891.2,869.2 L891.7,869.2 L892.2,869.1 L892.7,869.1 L893.2,869.0 L893.7,869.0 L894.2,868.9 L894.7,868.8 L895.2,868.8 L895.7,868.7 L896.2,868.7 L896.7,868.6 L897.2,868.6 L897.7,868.5 L898.2,868.5 L898.7,868.5 L899.2,868.4 L899.7,868.4 L900.0,868.4 L900.3,868.4 L900.8,868.4 L901.3,868.4 L901.8,868.5 L902.3,868.5 L902.8,868.5 L903.3,868.6 L903.8,868.6 L904.3,868.6 L904.8,868.7 L905.3,868.7 L905.8,868.8 L906.3,868.8 L906.8,868.9 L907.3,868.9 L907.8,868.9 L908.3,869.0 L908.8,869.0 L909.3,869.0 L909.8,869.0 L910.3,869.1 L910.5,869.1 L910.8,869.1 L911.3,869.0 L911.8,869.0 L912.3,868.9 L912.8,868.9 L913.3,868.8 L913.8,868.7 L914.3,868.5 L914.8,868.4 L915.3,868.3 L915.8,868.1 L916.3,868.0 L916.8,867.8 L917.3,867.6 L917.8,867.4 L918.3,867.3 L918.8,867.1 L919.3,866.9 L919.8,866.7 L920.3,866.6 L920.8,866.4 L921.1,866.3 L921.3,866.3 L921.8,866.1 L922.3,865.9 L922.8,865.8 L923.3,865.6 L923.8,865.4 L924.3,865.3 L924.8,865.1 L925.3,864.9 L925.8,864.7 L926.3,864.5 L926.8,864.3 L927.3,864.1 L927.8,863.9 L928.3,863.7 L928.8,863.5 L929.3,863.2 L929.8,863.0 L930.3,862.8 L930.8,862.5 L931.3,862.3 L931.6,862.1 L931.8,862.0 L932.3,861.7 L932.8,861.5 L933.3,861.2 L933.8,860.9 L934.3,860.6 L934.8,860.3 L935.3,859.9 L935.8,859.6 L936.3,859.2 L936.8,858.8 L937.3,858.4 L937.8,858.0 L938.3,857.5 L938.8,857.1 L939.3,856.6 L939.8,856.1 L940.0,855.8 L940.3,855.5 L940.8,854.9 L941.3,854.1 L941.8,853.4 L942.3,852.5 L942.8,851.6 L943.3,850.6 L943.8,849.6 L944.3,848.5 L944.8,847.4 L945.3,846.3 L945.3,846.3 L945.8,845.2 L946.3,843.9 L946.8,842.6 L947.3,841.2 L947.8,839.7 L948.3,838.1 L948.8,836.3 L949.3,834.5 L949.5,833.7 L949.8,832.5 L950.3,830.2 L950.8,827.6 L951.3,824.8 L951.8,821.9 L952.3,819.0 L952.6,816.8 L952.8,816.1 L953.3,813.2 L953.8,810.1 L954.3,807.0 L954.8,803.9 L955.3,800.9 L955.8,798.1 L955.8,797.9 L956.3,795.4 L956.8,792.7 L957.3,790.2 L957.8,787.6 L958.3,785.2 L958.8,782.7 L959.3,780.3 L959.8,777.9 L960.3,775.6 L960.8,773.3 L961.3,771.0 L961.8,768.7 L962.3,766.4 L962.8,764.1 L963.3,761.8 L963.8,759.5 L964.3,757.2 L964.8,754.8 L965.3,752.5 L965.8,750.1 L966.3,747.6 L966.3,747.4 L966.8,745.2 L967.3,742.7 L967.8,740.3 L968.3,737.8 L968.8,735.3 L969.3,732.8 L969.8,730.3 L970.3,727.7 L970.5,726.3 L970.8,725.1 L971.3,722.4 L971.8,719.7 L972.3,717.0 L972.8,714.3 L973.3,711.5 L973.8,708.7 L974.3,705.9 L974.7,703.2 L974.8,703.0 L975.3,700.1 L975.8,697.1 L976.3,694.1 L976.8,691.1 L977.3,688.0 L977.8,685.0 L977.9,684.2 L978.3,681.9 L978.8,678.7 L979.3,675.4 L979.8,672.2 L980.3,669.2 L980.8,666.6 L981.1,665.3 L981.3,664.3 L981.8,662.1 L982.3,659.8 L982.8,657.8 L983.3,656.1 L983.8,655.1 L984.2,654.7 L984.3,654.7 L984.8,655.1 L985.3,655.8 L985.8,657.0 L986.3,658.3 L986.8,659.9 L987.3,661.5 L987.8,663.1 L987.8,663.2 L988.3,664.8 L988.8,666.8 L989.3,669.0 L989.8,671.3 L990.3,673.7 L990.8,676.2 L991.3,678.6 L991.6,680.0 L991.8,680.8 L992.3,683.1 L992.8,685.3 L993.3,687.6 L993.8,689.8 L994.3,692.1 L994.8,694.3 L995.3,696.6 L995.8,698.9 L995.8,698.9 L996.3,701.1 L996.8,703.4 L997.3,705.6 L997.8,707.9 L998.3,710.1 L998.8,712.4 L999.3,714.6 L999.8,716.9 L1000.0,717.9 L1000.3,719.1 L1000.8,721.4 L1001.3,723.7 L1001.8,726.0 L1002.3,728.3 L1002.8,730.5 L1003.3,732.8 L1003.8,735.0 L1004.2,736.8 L1004.3,737.1 L1004.8,739.1 L1005.3,740.9 L1005.8,742.6 L1006.3,744.3 L1006.8,746.1 L1007.3,748.1 L1007.8,750.3 L1008.3,752.8 L1008.4,753.7 L1008.8,756.1 L1009.3,760.7 L1009.8,765.8 L1010.3,770.6 L1010.5,772.6 L1010.8,774.4 L1011.3,777.9 L1011.8,781.0 L1012.3,783.7 L1012.6,785.3 L1012.8,785.8 L1013.3,787.7 L1013.8,789.5 L1014.3,791.0 L1014.8,792.1 L1015.3,792.6 L1015.4,792.6 L1015.8,792.5 L1016.3,792.1 L1016.8,791.4 L1017.3,790.6 L1017.8,789.7 L1017.9,789.5 L1018.3,788.5 L1018.8,786.6 L1019.3,784.3 L1019.8,782.1 L1020.3,780.4 L1020.4,780.0 L1020.8,779.3 L1021.3,778.2 L1021.8,777.3 L1022.3,776.4 L1022.8,775.7 L1023.3,775.2 L1023.8,774.8 L1024.2,774.7 L1024.3,774.7 L1024.8,774.9 L1025.3,775.3 L1025.8,776.0 L1026.3,776.8 L1026.8,777.7 L1027.3,778.7 L1027.4,778.9 L1027.8,780.1 L1028.3,782.3 L1028.8,785.1 L1029.3,788.3 L1029.8,791.6 L1030.1,793.7 L1030.3,794.8 L1030.8,798.3 L1031.3,802.1 L1031.8,806.0 L1032.3,809.9 L1032.6,812.6 L1032.8,813.7 L1033.3,817.6 L1033.8,821.4 L1034.3,825.2 L1034.8,828.9 L1035.2,831.6 L1035.3,832.4 L1035.8,835.8 L1036.3,839.3 L1036.8,842.5 L1037.3,845.5 L1037.8,847.9 L1037.9,848.4 L1038.3,849.9 L1038.8,851.8 L1039.3,853.6 L1039.8,855.1 L1040.3,856.5 L1040.8,857.7 L1041.3,858.6 L1041.5,858.9 L1041.8,859.4 L1042.3,860.0 L1042.8,860.6 L1043.3,861.2 L1043.8,861.7 L1044.3,862.1 L1044.8,862.5 L1045.3,862.9 L1045.8,863.3 L1046.3,863.6 L1046.8,863.9 L1047.3,864.2 L1047.4,864.2 L1047.8,864.4 L1048.3,864.7 L1048.8,864.9 L1049.3,865.2 L1049.8,865.4 L1050.3,865.6 L1050.8,865.8 L1051.3,866.0 L1051.8,866.2 L1052.3,866.4 L1052.8,866.5 L1053.3,866.7 L1053.8,866.8 L1054.3,867.0 L1054.8,867.1 L1055.3,867.2 L1055.8,867.4 L1055.8,867.4 L1056.3,867.5 L1056.8,867.6 L1057.3,867.7 L1057.8,867.8 L1058.3,868.0 L1058.8,868.1 L1059.3,868.2 L1059.8,868.3 L1060.3,868.4 L1060.8,868.5 L1061.3,868.6 L1061.8,868.7 L1062.3,868.8 L1062.8,868.9 L1063.3,869.0 L1063.8,869.1 L1064.3,869.2 L1064.8,869.2 L1065.3,869.3 L1065.8,869.3 L1066.3,869.4 L1066.8,869.4 L1067.3,869.4 L1067.8,869.5 L1068.3,869.5 L1068.4,869.5 L1068.8,869.5 L1069.3,869.5 L1069.8,869.5 L1070.3,869.4 L1070.8,869.4 L1071.3,869.4 L1071.8,869.4 L1072.3,869.3 L1072.8,869.3 L1073.3,869.2 L1073.8,869.2 L1074.3,869.2 L1074.8,869.1 L1075.3,869.0 L1075.8,869.0 L1076.3,868.9 L1076.8,868.9 L1077.3,868.8 L1077.8,868.7 L1078.3,868.7 L1078.8,868.6 L1079.3,868.5 L1079.8,868.5 L1080.0,868.4 L1080.3,868.4 L1080.8,868.3 L1081.3,868.2 L1081.8,868.0 L1082.3,867.9 L1082.8,867.8 L1083.3,867.6 L1083.8,867.4 L1084.3,867.3 L1084.8,867.1 L1085.3,866.9 L1085.8,866.7 L1086.3,866.5 L1086.8,866.4 L1087.3,866.2 L1087.8,866.0 L1087.9,866.0 L1088.3,865.9 L1088.8,865.7 L1089.3,865.5 L1089.8,865.4 L1090.3,865.2 L1090.8,865.0 L1091.3,864.8 L1091.8,864.6 L1092.3,864.4 L1092.8,864.2 L1093.3,864.0 L1093.8,863.8 L1094.3,863.6 L1094.8,863.4 L1095.3,863.2 L1095.8,863.0 L1096.3,862.9 L1096.8,862.7 L1097.3,862.5 L1097.8,862.3 L1098.3,862.2 L1098.8,862.0 L1099.3,861.8 L1099.8,861.7 L1100.3,861.6 L1100.8,861.4 L1101.3,861.3 L1101.8,861.2 L1102.3,861.1 L1102.8,861.0 L1102.8,861.0 L1103.3,861.0 L1103.8,860.9 L1104.3,860.8 L1104.8,860.7 L1105.3,860.7 L1105.8,860.6 L1106.3,860.5 L1106.8,860.4 L1107.3,860.4 L1107.8,860.3 L1108.3,860.3 L1108.8,860.2 L1109.3,860.1 L1109.8,860.1 L1110.3,860.0 L1110.8,860.0 L1111.3,860.0 L1111.8,859.9 L1112.3,859.9 L1112.8,859.8 L1113.3,859.8 L1113.8,859.8 L1114.3,859.8 L1114.8,859.8 L1115.3,859.8 L1115.3,859.8 L1115.8,859.8 L1116.3,859.8 L1116.8,859.8 L1117.3,859.8 L1117.8,859.8 L1118.3,859.9 L1118.8,859.9 L1119.3,859.9 L1119.8,860.0 L1120.3,860.0 L1120.8,860.1 L1121.3,860.1 L1121.8,860.2 L1122.3,860.2 L1122.8,860.3 L1123.3,860.3 L1123.8,860.4 L1124.3,860.4 L1124.8,860.5 L1125.3,860.6 L1125.8,860.6 L1126.3,860.7 L1126.8,860.7 L1127.3,860.8 L1127.8,860.8 L1128.3,860.9 L1128.8,860.9 L1129.3,861.0 L1129.8,861.0 L1130.3,861.0 L1130.3,861.0 L1130.8,861.1 L1131.3,861.1 L1131.8,861.1 L1132.3,861.2 L1132.8,861.2 L1133.3,861.2 L1133.8,861.2 L1134.3,861.3 L1134.8,861.3 L1135.3,861.3 L1135.8,861.3 L1136.3,861.4 L1136.8,861.4 L1137.3,861.4 L1137.8,861.4 L1138.3,861.5 L1138.8,861.5 L1139.3,861.5 L1139.8,861.5 L1140.3,861.6 L1140.8,861.6 L1141.3,861.6 L1141.8,861.6 L1142.3,861.7 L1142.8,861.7 L1143.3,861.7 L1143.8,861.7 L1144.3,861.8 L1144.8,861.8 L1145.3,861.8 L1145.8,861.8 L1146.3,861.9 L1146.8,861.9 L1147.3,861.9 L1147.8,861.9 L1148.3,862.0 L1148.8,862.0 L1149.3,862.0 L1149.8,862.1 L1150.3,862.1 L1150.8,862.1 L1151.3,862.2 L1151.8,862.2 L1152.3,862.2 L1152.7,862.3 L1152.8,862.3 L1153.3,862.3 L1153.8,862.4 L1154.3,862.4 L1154.8,862.5 L1155.3,862.5 L1155.8,862.6 L1156.3,862.6 L1156.8,862.7 L1157.3,862.7 L1157.8,862.8 L1158.3,862.9 L1158.8,862.9 L1159.3,863.0 L1159.8,863.0 L1160.3,863.1 L1160.8,863.2 L1161.3,863.2 L1161.8,863.3 L1162.3,863.4 L1162.8,863.5 L1163.3,863.5 L1163.8,863.6 L1164.3,863.7 L1164.8,863.7 L1165.3,863.8 L1165.8,863.9 L1166.3,863.9 L1166.8,864.0 L1167.3,864.1 L1167.8,864.2 L1168.3,864.2 L1168.8,864.3 L1169.3,864.4 L1169.8,864.4 L1170.3,864.5 L1170.8,864.5 L1171.3,864.6 L1171.8,864.7 L1172.3,864.7 L1172.7,864.8 L1172.8,864.8 L1173.3,864.8 L1173.8,864.9 L1174.3,865.0 L1174.8,865.0 L1175.3,865.1 L1175.8,865.1 L1176.3,865.2 L1176.8,865.2 L1177.3,865.3 L1177.8,865.3 L1178.3,865.4 L1178.8,865.5 L1179.3,865.5 L1179.8,865.6 L1180.3,865.6 L1180.8,865.7 L1181.3,865.7 L1181.8,865.8 L1182.3,865.8 L1182.8,865.9 L1183.3,865.9 L1183.8,866.0 L1184.3,866.0 L1184.8,866.1 L1185.3,866.1 L1185.8,866.2 L1186.3,866.2 L1186.8,866.3 L1187.3,866.3 L1187.8,866.4 L1188.3,866.4 L1188.8,866.5 L1189.3,866.5 L1189.8,866.6 L1190.3,866.6 L1190.8,866.6 L1191.3,866.7 L1191.8,866.7 L1192.3,866.7 L1192.6,866.8 L1192.8,866.8 L1193.3,866.8 L1193.8,866.8 L1194.3,866.9 L1194.8,866.9 L1195.3,866.9 L1195.8,867.0 L1196.3,867.0 L1196.8,867.1 L1197.3,867.1 L1197.8,867.1 L1198.3,867.2 L1198.8,867.2 L1199.3,867.2 L1199.8,867.3 L1200.3,867.3 L1200.8,867.3 L1201.3,867.4 L1201.8,867.4 L1202.3,867.4 L1202.8,867.4 L1203.3,867.5 L1203.8,867.5 L1204.3,867.5 L1204.8,867.5 L1205.3,867.6 L1205.8,867.6 L1206.3,867.6 L1206.8,867.6 L1207.3,867.7 L1207.8,867.7 L1208.3,867.7 L1208.8,867.7 L1209.3,867.7 L1209.8,867.7 L1210.3,867.7 L1210.8,867.7 L1211.3,867.8 L1211.8,867.8 L1212.3,867.8 L1212.6,867.8 L1212.8,867.8 L1213.3,867.7 L1213.8,867.7 L1214.3,867.7 L1214.8,867.6 L1215.3,867.5 L1215.8,867.4 L1216.3,867.3 L1216.8,867.2 L1217.3,867.1 L1217.8,867.0 L1218.3,866.8 L1218.8,866.7 L1219.3,866.6 L1219.8,866.4 L1220.3,866.3 L1220.8,866.2 L1221.3,866.0"/>
<path class="c" d="M713.7,1011.9 L714.2,1011.9 L714.7,1011.8 L715.2,1011.8 L715.7,1011.7 L716.2,1011.7 L716.7,1011.6 L717.2,1011.6 L717.7,1011.5 L718.2,1011.5 L718.7,1011.5 L719.2,1011.4 L719.7,1011.4 L720.2,1011.3 L720.7,1011.3 L721.2,1011.2 L721.7,1011.2 L722.2,1011.2 L722.7,1011.1 L723.2,1011.1 L723.7,1011.1 L724.2,1011.0 L724.7,1011.0 L725.2,1011.0 L725.7,1010.9 L726.2,1010.9 L726.7,1010.9 L727.2,1010.8 L727.7,1010.8 L728.2,1010.8 L728.7,1010.7 L729.2,1010.7 L729.7,1010.7 L730.2,1010.7 L730.7,1010.6 L731.2,1010.6 L731.7,1010.6 L732.2,1010.6 L732.7,1010.5 L733.2,1010.5 L733.7,1010.5 L734.2,1010.5 L734.7,1010.5 L735.2,1010.5 L735.7,1010.4 L736.2,1010.4 L736.7,1010.4 L737.2,1010.4 L737.7,1010.4 L738.2,1010.4 L738.7,1010.3 L739.2,1010.3 L739.7,1010.3 L740.2,1010.3 L740.7,1010.3 L741.2,1010.3 L741.7,1010.3 L742.2,1010.3 L742.7,1010.3 L743.2,1010.2 L743.7,1010.2 L744.2,1010.2 L744.7,1010.2 L745.2,1010.2 L745.7,1010.2 L746.2,1010.2 L746.7,1010.2 L747.2,1010.2 L747.7,1010.2 L748.2,1010.2 L748.7,1010.2 L749.2,1010.2 L749.7,1010.2 L749.9,1010.2 L750.2,1010.2 L750.7,1010.2 L751.2,1010.2 L751.7,1010.2 L752.2,1010.2 L752.7,1010.2 L753.2,1010.2 L753.7,1010.2 L754.2,1010.3 L754.7,1010.3 L755.2,1010.3 L755.7,1010.3 L756.2,1010.3 L756.7,1010.3 L757.2,1010.4 L757.7,1010.4 L758.2,1010.4 L758.7,1010.4 L759.2,1010.5 L759.7,1010.5 L760.2,1010.5 L760.7,1010.5 L761.2,1010.6 L761.7,1010.6 L762.2,1010.6 L762.7,1010.6 L763.2,1010.7 L763.7,1010.7 L764.2,1010.7 L764.7,1010.8 L765.2,1010.8 L765.7,1010.8 L766.2,1010.9 L766.7,1010.9 L767.2,1010.9 L767.7,1011.0 L768.2,1011.0 L768.7,1011.0 L769.2,1011.1 L769.7,1011.1 L770.2,1011.1 L770.7,1011.2 L771.2,1011.2 L771.7,1011.2 L772.2,1011.3 L772.7,1011.3 L773.2,1011.3 L773.7,1011.4 L774.2,1011.4 L774.7,1011.4 L774.8,1011.4 L775.2,1011.5 L775.7,1011.5 L776.2,1011.5 L776.7,1011.6 L777.2,1011.6 L777.7,1011.7 L778.2,1011.7 L778.7,1011.7 L779.2,1011.8 L779.7,1011.8 L780.2,1011.9 L780.7,1011.9 L781.2,1012.0 L781.7,1012.0 L782.2,1012.1 L782.7,1012.1 L783.2,1012.2 L783.7,1012.2 L784.2,1012.3 L784.7,1012.3 L785.2,1012.3 L785.7,1012.4 L786.2,1012.4 L786.7,1012.5 L787.2,1012.5 L787.7,1012.6 L788.2,1012.6 L788.7,1012.7 L789.2,1012.7 L789.7,1012.8 L790.2,1012.8 L790.7,1012.9 L791.2,1012.9 L791.7,1013.0 L792.2,1013.0 L792.7,1013.0 L793.2,1013.1 L793.7,1013.1 L794.2,1013.2 L794.7,1013.2 L794.8,1013.2 L795.2,1013.2 L795.7,1013.3 L796.2,1013.3 L796.7,1013.3 L797.2,1013.4 L797.7,1013.4 L798.2,1013.4 L798.7,1013.5 L799.2,1013.5 L799.7,1013.6 L800.2,1013.6 L800.7,1013.6 L801.2,1013.7 L801.7,1013.7 L802.2,1013.7 L802.7,1013.8 L803.2,1013.8 L803.7,1013.8 L804.2,1013.9 L804.7,1013.9 L805.2,1014.0 L805.7,1014.0 L806.2,1014.0 L806.7,1014.1 L807.2,1014.1 L807.7,1014.1 L808.2,1014.1 L808.7,1014.2 L809.2,1014.2 L809.7,1014.2 L810.2,1014.3 L810.7,1014.3 L811.2,1014.3 L811.7,1014.3 L812.2,1014.3 L812.7,1014.4 L813.2,1014.4 L813.7,1014.4 L814.2,1014.4 L814.7,1014.4 L815.2,1014.4 L815.7,1014.4 L816.2,1014.4 L816.7,1014.4 L817.2,1014.4 L817.2,1014.4 L817.7,1014.4 L818.2,1014.4 L818.7,1014.4 L819.2,1014.4 L819.7,1014.4 L820.2,1014.4 L820.7,1014.4 L821.2,1014.3 L821.7,1014.3 L822.2,1014.3 L822.7,1014.3 L823.2,1014.2 L823.7,1014.2 L824.2,1014.2 L824.7,1014.1 L825.2,1014.1 L825.7,1014.0 L826.2,1014.0 L826.7,1013.9 L827.2,1013.9 L827.7,1013.8 L828.2,1013.8 L828.7,1013.7 L829.2,1013.6 L829.7,1013.6 L830.2,1013.5 L830.7,1013.4 L831.2,1013.3 L831.7,1013.3 L832.2,1013.2 L832.2,1013.2 L832.7,1013.1 L833.2,1012.9 L833.7,1012.6 L834.2,1012.3 L834.7,1011.9 L835.2,1011.5 L835.7,1011.1 L836.2,1010.7 L836.7,1010.3 L837.2,1009.9 L837.7,1009.5 L838.2,1009.1 L838.7,1008.7 L839.2,1008.4 L839.7,1008.2 L839.7,1008.2 L840.2,1008.0 L840.7,1007.8 L841.2,1007.6 L841.7,1007.4 L842.2,1007.3 L842.7,1007.1 L843.2,1007.0 L843.7,1006.8 L844.2,1006.7 L844.7,1006.5 L845.2,1006.4 L845.7,1006.2 L846.2,1006.1 L846.7,1005.9 L847.2,1005.7 L847.2,1005.7 L847.7,1005.4 L848.2,1005.2 L848.7,1004.8 L849.2,1004.5 L849.7,1004.1 L850.2,1003.8 L850.7,1003.5 L851.2,1003.2 L851.7,1002.9 L852.2,1002.7 L852.7,1002.5 L853.2,1002.5 L853.4,1002.5 L853.7,1002.5 L854.2,1002.6 L854.7,1002.7 L855.2,1003.0 L855.7,1003.2 L856.2,1003.6 L856.7,1003.9 L857.2,1004.2 L857.7,1004.6 L858.2,1004.9 L858.7,1005.2 L859.2,1005.5 L859.6,1005.7 L859.7,1005.8 L860.2,1006.0 L860.7,1006.2 L861.2,1006.5 L861.7,1006.7 L862.2,1007.0 L862.7,1007.2 L863.2,1007.5 L863.7,1007.7 L864.2,1007.9 L864.7,1008.2 L865.2,1008.4 L865.7,1008.6 L866.2,1008.8 L866.7,1009.0 L867.2,1009.1 L867.7,1009.2 L868.2,1009.3 L868.7,1009.4 L869.2,1009.4 L869.6,1009.4 L869.7,1009.4 L870.2,1009.4 L870.7,1009.4 L871.2,1009.4 L871.7,1009.4 L872.2,1009.4 L872.7,1009.4 L873.2,1009.3 L873.7,1009.3 L874.2,1009.3 L874.7,1009.3 L875.2,1009.2 L875.7,1009.2 L876.2,1009.2 L876.7,1009.1 L877.2,1009.1 L877.7,1009.1 L878.2,1009.0 L878.7,1009.0 L879.3,1009.0 L879.6,1009.0 L879.8,1008.9 L880.3,1008.9 L880.8,1008.9 L881.3,1008.9 L881.8,1008.8 L882.3,1008.8 L882.8,1008.8 L883.3,1008.7 L883.8,1008.7 L884.3,1008.7 L884.8,1008.6 L885.3,1008.6 L885.8,1008.6 L886.3,1008.5 L886.8,1008.5 L887.3,1008.5 L887.8,1008.4 L888.3,1008.4 L888.8,1008.4 L889.3,1008.3 L889.8,1008.3 L890.3,1008.3 L890.8,1008.2 L891.3,1008.2 L891.8,1008.2 L892.3,1008.1 L892.8,1008.1 L893.3,1008.0 L893.8,1008.0 L894.3,1008.0 L894.8,1007.9 L895.3,1007.9 L895.8,1007.8 L896.3,1007.8 L896.8,1007.7 L897.1,1007.7 L897.3,1007.7 L897.8,1007.6 L898.3,1007.6 L898.8,1007.5 L899.3,1007.5 L899.8,1007.4 L900.0,1007.4 L900.3,1007.3 L900.8,1007.3 L901.3,1007.2 L901.8,1007.1 L902.3,1007.0 L902.8,1007.0 L903.3,1006.9 L903.8,1006.8 L904.3,1006.7 L904.8,1006.6 L905.3,1006.5 L905.8,1006.4 L906.3,1006.3 L906.8,1006.2 L907.3,1006.1 L907.8,1006.0 L908.3,1005.9 L908.8,1005.7 L909.3,1005.6 L909.8,1005.5 L910.3,1005.3 L910.5,1005.3 L910.8,1005.2 L911.3,1005.0 L911.8,1004.9 L912.3,1004.7 L912.8,1004.5 L913.3,1004.3 L913.8,1004.1 L914.3,1003.9 L914.8,1003.6 L915.3,1003.4 L915.8,1003.1 L916.3,1002.9 L916.8,1002.6 L917.3,1002.3 L917.8,1002.0 L918.3,1001.7 L918.8,1001.4 L919.3,1001.1 L919.8,1000.8 L920.3,1000.5 L920.8,1000.2 L921.1,1000.0 L921.3,999.9 L921.8,999.5 L922.3,999.2 L922.8,998.8 L923.3,998.5 L923.8,998.1 L924.3,997.7 L924.8,997.2 L925.3,996.8 L925.8,996.4 L926.3,995.9 L926.8,995.5 L927.3,995.0 L927.8,994.5 L928.3,994.0 L928.8,993.5 L929.3,993.0 L929.8,992.4 L930.3,991.9 L930.5,991.6 L930.8,991.3 L931.3,990.7 L931.8,990.1 L932.3,989.5 L932.8,988.8 L933.3,988.2 L933.8,987.5 L934.3,986.7 L934.8,986.0 L935.3,985.2 L935.8,984.4 L936.3,983.6 L936.8,982.8 L937.3,982.0 L937.8,981.1 L938.3,980.2 L938.8,979.3 L938.9,978.9 L939.3,978.4 L939.8,977.4 L940.3,976.4 L940.8,975.4 L941.3,974.3 L941.8,973.2 L942.3,972.0 L942.8,970.8 L943.3,969.6 L943.8,968.3 L944.3,967.0 L944.8,965.6 L945.3,964.2 L945.3,964.2 L945.8,962.7 L946.3,961.2 L946.8,959.6 L947.3,957.9 L947.8,956.1 L948.3,954.3 L948.8,952.4 L949.3,950.4 L949.8,948.4 L950.3,946.4 L950.5,945.3 L950.8,944.2 L951.3,942.0 L951.8,939.6 L952.3,937.2 L952.8,934.6 L953.3,932.0 L953.8,929.3 L954.3,926.7 L954.7,924.2 L954.8,924.1 L955.3,921.4 L955.8,918.8 L956.3,916.1 L956.8,913.3 L957.3,910.6 L957.8,907.8 L958.3,904.9 L958.8,902.1 L958.9,901.1 L959.3,899.2 L959.8,896.3 L960.3,893.3 L960.8,890.3 L961.3,887.3 L961.8,884.2 L962.3,881.2 L962.8,878.2 L963.2,875.8 L963.3,875.1 L963.8,872.1 L964.3,869.1 L964.8,866.0 L965.3,863.0 L965.8,860.0 L966.3,857.0 L966.8,854.0 L967.3,851.1 L967.4,850.5 L967.8,848.2 L968.3,845.4 L968.8,842.5 L969.3,839.7 L969.8,836.9 L970.3,834.2 L970.8,831.5 L971.3,828.9 L971.6,827.4 L971.8,826.4 L972.3,824.0 L972.8,821.5 L973.3,819.1 L973.8,816.7 L974.3,814.4 L974.8,812.3 L975.3,810.3 L975.8,808.5 L975.8,808.4 L976.3,806.8 L976.8,805.1 L977.3,803.5 L977.8,802.0 L978.3,800.6 L978.8,799.3 L979.3,798.2 L979.8,797.2 L980.0,796.8 L980.3,796.4 L980.8,795.6 L981.3,794.9 L981.8,794.2 L982.3,793.5 L982.8,793.1 L983.3,792.8 L983.8,792.6 L983.8,792.6 L984.3,792.7 L984.8,793.0 L985.3,793.5 L985.8,794.1 L986.3,794.9 L986.8,795.7 L987.3,796.6 L987.8,797.5 L988.0,797.9 L988.3,798.4 L988.8,799.7 L989.3,801.2 L989.8,802.9 L990.3,804.8 L990.8,806.8 L991.3,808.8 L991.8,810.9 L992.2,812.6 L992.3,812.9 L992.8,814.9 L993.3,817.0 L993.8,819.2 L994.3,821.5 L994.8,823.8 L995.3,826.1 L995.8,828.5 L996.3,830.9 L996.4,831.6 L996.8,833.3 L997.3,835.7 L997.8,838.2 L998.3,840.7 L998.8,843.2 L999.3,845.8 L999.8,848.3 L1000.3,850.8 L1000.6,852.6 L1000.8,853.3 L1001.3,855.8 L1001.8,858.2 L1002.3,860.6 L1002.8,863.1 L1003.3,865.5 L1003.8,868.0 L1004.3,870.6 L1004.8,873.3 L1004.8,873.7 L1005.3,876.1 L1005.8,879.2 L1006.3,882.3 L1006.8,885.5 L1007.3,888.7 L1007.8,891.9 L1008.3,894.8 L1008.5,896.4 L1008.8,897.6 L1009.3,900.3 L1009.8,902.9 L1010.3,905.4 L1010.8,907.8 L1011.3,910.2 L1011.8,912.5 L1011.8,912.7 L1012.3,914.8 L1012.8,917.1 L1013.3,919.3 L1013.8,921.4 L1014.3,923.5 L1014.8,925.6 L1015.3,927.6 L1015.6,929.1 L1015.8,929.6 L1016.3,931.6 L1016.8,933.6 L1017.3,935.5 L1017.8,937.4 L1018.3,939.3 L1018.8,941.1 L1019.3,942.9 L1019.8,944.7 L1020.0,945.5 L1020.3,946.4 L1020.8,948.1 L1021.3,949.7 L1021.8,951.3 L1022.3,952.9 L1022.8,954.5 L1023.3,956.0 L1023.8,957.5 L1024.3,959.0 L1024.8,960.4 L1024.9,960.7 L1025.3,961.7 L1025.8,963.0 L1026.3,964.3 L1026.8,965.6 L1027.3,966.8 L1027.8,968.0 L1028.3,969.1 L1028.8,970.3 L1029.3,971.5 L1029.8,972.6 L1029.8,972.7 L1030.3,973.8 L1030.8,975.0 L1031.3,976.2 L1031.8,977.4 L1032.3,978.6 L1032.8,979.7 L1033.3,980.8 L1033.8,981.9 L1034.3,982.8 L1034.7,983.6 L1034.8,983.7 L1035.3,984.6 L1035.8,985.4 L1036.3,986.2 L1036.8,986.9 L1037.3,987.7 L1037.8,988.4 L1038.3,989.0 L1038.8,989.7 L1039.3,990.3 L1039.8,990.8 L1040.2,991.3 L1040.3,991.4 L1040.8,991.9 L1041.3,992.4 L1041.8,992.9 L1042.3,993.3 L1042.8,993.8 L1043.3,994.2 L1043.8,994.6 L1044.3,995.0 L1044.8,995.4 L1045.3,995.8 L1045.8,996.1 L1046.3,996.4 L1046.7,996.7 L1046.8,996.8 L1047.3,997.1 L1047.8,997.4 L1048.3,997.7 L1048.8,998.0 L1049.3,998.3 L1049.8,998.6 L1050.3,998.8 L1050.8,999.1 L1051.3,999.4 L1051.8,999.6 L1052.3,999.9 L1052.8,1000.1 L1053.3,1000.3 L1053.8,1000.5 L1054.3,1000.7 L1054.8,1000.9 L1055.3,1001.0 L1055.5,1001.1 L1055.8,1001.2 L1056.3,1001.3 L1056.8,1001.5 L1057.3,1001.6 L1057.8,1001.8 L1058.3,1001.9 L1058.8,1002.0 L1059.3,1002.2 L1059.8,1002.3 L1060.3,1002.4 L1060.8,1002.5 L1061.3,1002.7 L1061.8,1002.8 L1062.3,1002.9 L1062.8,1003.0 L1063.3,1003.0 L1063.8,1003.1 L1064.3,1003.2 L1064.8,1003.2 L1065.3,1003.2 L1065.8,1003.3 L1066.3,1003.3 L1066.4,1003.3 L1066.8,1003.3 L1067.3,1003.3 L1067.8,1003.3 L1068.3,1003.3 L1068.8,1003.3 L1069.3,1003.2 L1069.8,1003.2 L1070.3,1003.2 L1070.8,1003.2 L1071.3,1003.2 L1071.8,1003.2 L1072.3,1003.2 L1072.8,1003.2 L1073.3,1003.2 L1073.8,1003.1 L1074.3,1003.1 L1074.8,1003.1 L1075.3,1003.1 L1075.8,1003.1 L1076.3,1003.1 L1076.8,1003.1 L1077.3,1003.1 L1077.3,1003.1 L1077.8,1003.0 L1078.3,1003.0 L1078.8,1003.0 L1079.3,1003.0 L1079.8,1003.0 L1080.3,1003.0 L1080.8,1003.0 L1081.3,1003.0 L1081.8,1002.9 L1082.3,1002.9 L1082.8,1002.9 L1083.3,1002.9 L1083.8,1002.9 L1084.3,1002.9 L1084.8,1002.9 L1085.3,1002.8 L1085.8,1002.8 L1086.3,1002.8 L1086.8,1002.8 L1087.3,1002.8 L1087.8,1002.7 L1088.2,1002.7 L1088.3,1002.7 L1088.8,1002.7 L1089.3,1002.7 L1089.8,1002.6 L1090.3,1002.6 L1090.8,1002.6 L1091.3,1002.5 L1091.8,1002.5 L1092.3,1002.4 L1092.8,1002.4 L1093.3,1002.3 L1093.8,1002.3 L1094.3,1002.2 L1094.8,1002.2 L1095.3,1002.1 L1095.8,1002.1 L1096.3,1002.1 L1096.8,1002.0 L1097.3,1002.0 L1097.8,1002.0 L1098.3,1002.0 L1098.8,1002.0 L1099.1,1002.0 L1099.3,1002.0 L1099.8,1002.0 L1100.3,1002.0 L1100.8,1002.0 L1101.3,1002.0 L1101.8,1002.0 L1102.3,1002.0 L1102.8,1002.0 L1103.3,1002.0 L1103.8,1002.0 L1104.3,1002.0 L1104.8,1002.0 L1105.3,1002.0 L1105.3,1002.0 L1105.8,1002.0 L1106.3,1001.9 L1106.8,1001.8 L1107.3,1001.7 L1107.8,1001.6 L1108.3,1001.5 L1108.8,1001.3 L1109.3,1001.1 L1109.8,1000.9 L1110.3,1000.7 L1110.8,1000.5 L1111.3,1000.3 L1111.8,1000.1 L1112.3,999.9 L1112.8,999.7 L1113.3,999.6 L1113.8,999.4 L1114.3,999.2 L1114.8,999.1 L1115.3,999.0 L1115.3,999.0 L1115.8,998.9 L1116.3,998.8 L1116.8,998.6 L1117.3,998.5 L1117.8,998.4 L1118.3,998.3 L1118.8,998.2 L1119.3,998.1 L1119.8,998.0 L1120.3,997.9 L1120.8,997.9 L1121.3,997.8 L1121.8,997.8 L1122.3,997.7 L1122.8,997.7 L1122.8,997.7 L1123.3,997.7 L1123.8,997.7 L1124.3,997.8 L1124.8,997.8 L1125.3,997.8 L1125.8,997.9 L1126.3,997.9 L1126.8,998.0 L1127.3,998.0 L1127.8,998.1 L1128.3,998.2 L1128.8,998.3 L1129.3,998.3 L1129.8,998.4 L1130.3,998.5 L1130.8,998.6 L1131.3,998.7 L1131.8,998.8 L1132.3,998.9 L1132.8,999.0 L1132.8,999.0 L1133.3,999.1 L1133.8,999.3 L1134.3,999.5 L1134.8,999.7 L1135.3,999.9 L1135.8,1000.2 L1136.3,1000.5 L1136.8,1000.8 L1137.3,1001.1 L1137.8,1001.4 L1138.3,1001.7 L1138.8,1001.9 L1139.3,1002.2 L1139.8,1002.4 L1140.3,1002.7 L1140.8,1002.9 L1141.3,1003.0 L1141.8,1003.1 L1142.3,1003.2 L1142.7,1003.2 L1142.8,1003.2 L1143.3,1003.2 L1143.8,1003.2 L1144.3,1003.2 L1144.8,1003.2 L1145.3,1003.2 L1145.8,1003.2 L1146.3,1003.2 L1146.8,1003.1 L1147.3,1003.1 L1147.8,1003.1 L1148.3,1003.1 L1148.8,1003.0 L1149.3,1003.0 L1149.8,1003.0 L1150.3,1003.0 L1150.8,1002.9 L1151.3,1002.9 L1151.8,1002.9 L1152.3,1002.9 L1152.8,1002.8 L1153.3,1002.8 L1153.8,1002.8 L1154.3,1002.8 L1154.8,1002.7 L1155.3,1002.7 L1155.8,1002.7 L1156.3,1002.6 L1156.8,1002.6 L1157.3,1002.6 L1157.8,1002.6 L1158.3,1002.6 L1158.8,1002.5 L1159.3,1002.5 L1159.8,1002.5 L1160.3,1002.5 L1160.8,1002.5 L1161.3,1002.5 L1161.8,1002.5 L1162.3,1002.5 L1162.7,1002.5 L1162.8,1002.5 L1163.3,1002.5 L1163.8,1002.5 L1164.3,1002.5 L1164.8,1002.6 L1165.3,1002.6 L1165.8,1002.7 L1166.3,1002.8 L1166.8,1002.8 L1167.3,1002.9 L1167.8,1003.0 L1168.3,1003.1 L1168.8,1003.2 L1169.3,1003.3 L1169.8,1003.4 L1170.3,1003.5 L1170.8,1003.6 L1171.3,1003.7 L1171.8,1003.8 L1172.3,1003.9 L1172.8,1004.0 L1173.3,1004.1 L1173.8,1004.1 L1174.3,1004.2 L1174.8,1004.3 L1175.3,1004.3 L1175.8,1004.4 L1176.3,1004.4 L1176.8,1004.4 L1177.3,1004.5 L1177.7,1004.5 L1177.8,1004.5 L1178.3,1004.5 L1178.8,1004.5 L1179.3,1004.4 L1179.8,1004.4 L1180.3,1004.4 L1180.8,1004.4 L1181.3,1004.4 L1181.8,1004.4 L1182.3,1004.3 L1182.8,1004.3 L1183.3,1004.3 L1183.8,1004.3 L1184.3,1004.2 L1184.8,1004.2 L1185.3,1004.2 L1185.8,1004.1 L1186.3,1004.1 L1186.8,1004.0 L1187.3,1004.0 L1187.8,1004.0 L1188.3,1003.9 L1188.8,1003.9 L1189.3,1003.8 L1189.8,1003.8 L1190.3,1003.8 L1190.8,1003.7 L1191.3,1003.7 L1191.8,1003.6 L1192.3,1003.6 L1192.8,1003.6 L1193.3,1003.5 L1193.8,1003.5 L1194.3,1003.4 L1194.8,1003.4 L1195.3,1003.4 L1195.8,1003.3 L1196.3,1003.3 L1196.8,1003.3 L1197.3,1003.2 L1197.6,1003.2 L1197.8,1003.2 L1198.3,1003.2 L1198.8,1003.1 L1199.3,1003.1 L1199.8,1003.1 L1200.3,1003.1 L1200.8,1003.0 L1201.3,1003.0 L1201.8,1003.0 L1202.3,1002.9 L1202.8,1002.9 L1203.3,1002.9 L1203.8,1002.9 L1204.3,1002.8 L1204.8,1002.8 L1205.3,1002.8 L1205.8,1002.8 L1206.3,1002.7 L1206.8,1002.7 L1207.3,1002.7 L1207.8,1002.6 L1208.3,1002.6 L1208.8,1002.6 L1209.3,1002.6 L1209.8,1002.5 L1210.3,1002.5 L1210.8,1002.5 L1211.3,1002.5 L1211.8,1002.4 L1212.3,1002.4 L1212.8,1002.4 L1213.3,1002.4 L1213.8,1002.3 L1214.3,1002.3 L1214.8,1002.3 L1215.3,1002.3 L1215.8,1002.2 L1216.3,1002.2 L1216.8,1002.2 L1217.3,1002.2 L1217.8,1002.1 L1218.3,1002.1 L1218.8,1002.1 L1219.3,1002.1 L1219.8,1002.0 L1220.3,1002.0 L1220.8,1002.0 L1221.3,1002.0"/>
<path class="c" d="M716.2,1168.8 L716.7,1168.8 L717.2,1168.8 L717.7,1168.9 L718.2,1168.9 L718.7,1168.9 L719.2,1168.9 L719.7,1169.0 L720.2,1169.0 L720.7,1169.0 L721.2,1169.0 L721.7,1169.0 L722.2,1169.1 L722.7,1169.1 L723.2,1169.1 L723.7,1169.1 L724.2,1169.2 L724.7,1169.2 L725.2,1169.2 L725.7,1169.2 L726.2,1169.2 L726.7,1169.3 L727.2,1169.3 L727.7,1169.3 L728.2,1169.3 L728.7,1169.3 L729.2,1169.4 L729.7,1169.4 L730.2,1169.4 L730.7,1169.4 L731.2,1169.4 L731.7,1169.5 L732.2,1169.5 L732.7,1169.5 L733.2,1169.5 L733.7,1169.5 L734.2,1169.6 L734.7,1169.6 L735.2,1169.6 L735.7,1169.6 L736.2,1169.6 L736.7,1169.7 L737.2,1169.7 L737.7,1169.7 L738.2,1169.7 L738.7,1169.7 L739.2,1169.7 L739.7,1169.8 L740.2,1169.8 L740.7,1169.8 L741.2,1169.8 L741.7,1169.8 L742.2,1169.8 L742.7,1169.9 L743.2,1169.9 L743.7,1169.9 L744.2,1169.9 L744.7,1169.9 L745.2,1169.9 L745.7,1169.9 L746.2,1170.0 L746.7,1170.0 L747.2,1170.0 L747.7,1170.0 L748.2,1170.0 L748.7,1170.0 L749.2,1170.0 L749.7,1170.0 L749.9,1170.0 L750.2,1170.1 L750.7,1170.1 L751.2,1170.1 L751.7,1170.1 L752.2,1170.1 L752.7,1170.1 L753.2,1170.1 L753.7,1170.1 L754.2,1170.1 L754.7,1170.1 L755.2,1170.2 L755.7,1170.2 L756.2,1170.2 L756.7,1170.2 L757.2,1170.2 L757.7,1170.2 L758.2,1170.2 L758.7,1170.2 L759.2,1170.2 L759.7,1170.3 L760.2,1170.3 L760.7,1170.3 L761.2,1170.3 L761.7,1170.3 L762.2,1170.3 L762.7,1170.3 L763.2,1170.3 L763.7,1170.3 L764.2,1170.4 L764.7,1170.4 L765.2,1170.4 L765.7,1170.4 L766.2,1170.4 L766.7,1170.4 L767.2,1170.4 L767.7,1170.4 L768.2,1170.4 L768.7,1170.4 L769.2,1170.5 L769.7,1170.5 L770.2,1170.5 L770.7,1170.5 L771.2,1170.5 L771.7,1170.5 L772.2,1170.5 L772.7,1170.5 L773.2,1170.5 L773.7,1170.5 L774.2,1170.5 L774.7,1170.6 L775.2,1170.6 L775.7,1170.6 L776.2,1170.6 L776.7,1170.6 L777.2,1170.6 L777.7,1170.6 L778.2,1170.6 L778.7,1170.6 L779.2,1170.6 L779.7,1170.6 L780.2,1170.6 L780.7,1170.6 L781.2,1170.7 L781.7,1170.7 L782.2,1170.7 L782.7,1170.7 L783.2,1170.7 L783.7,1170.7 L784.2,1170.7 L784.7,1170.7 L785.2,1170.7 L785.7,1170.7 L786.2,1170.7 L786.7,1170.7 L787.2,1170.7 L787.7,1170.7 L788.2,1170.7 L788.7,1170.7 L789.2,1170.7 L789.7,1170.7 L790.2,1170.8 L790.7,1170.8 L791.2,1170.8 L791.7,1170.8 L792.2,1170.8 L792.7,1170.8 L793.2,1170.8 L793.7,1170.8 L794.2,1170.8 L794.7,1170.8 L795.2,1170.8 L795.7,1170.8 L796.2,1170.8 L796.7,1170.8 L797.2,1170.8 L797.7,1170.8 L798.2,1170.8 L798.7,1170.8 L799.2,1170.8 L799.7,1170.8 L799.8,1170.8 L800.2,1170.8 L800.7,1170.8 L801.2,1170.8 L801.7,1170.8 L802.2,1170.8 L802.7,1170.8 L803.2,1170.8 L803.7,1170.8 L804.2,1170.7 L804.7,1170.7 L805.2,1170.7 L805.7,1170.7 L806.2,1170.7 L806.7,1170.7 L807.2,1170.6 L807.7,1170.6 L808.2,1170.6 L808.7,1170.6 L809.2,1170.6 L809.7,1170.5 L810.2,1170.5 L810.7,1170.5 L811.2,1170.5 L811.7,1170.4 L812.2,1170.4 L812.7,1170.4 L813.2,1170.4 L813.7,1170.3 L814.2,1170.3 L814.7,1170.3 L815.2,1170.2 L815.7,1170.2 L816.2,1170.2 L816.7,1170.1 L817.2,1170.1 L817.7,1170.1 L818.2,1170.0 L818.7,1170.0 L819.2,1170.0 L819.7,1169.9 L820.2,1169.9 L820.7,1169.9 L821.2,1169.8 L821.7,1169.8 L822.2,1169.7 L822.7,1169.7 L823.2,1169.7 L823.7,1169.6 L824.2,1169.6 L824.7,1169.5 L824.7,1169.5 L825.2,1169.5 L825.7,1169.5 L826.2,1169.4 L826.7,1169.3 L827.2,1169.3 L827.7,1169.2 L828.2,1169.1 L828.7,1169.1 L829.2,1169.0 L829.7,1168.9 L830.2,1168.8 L830.7,1168.8 L831.2,1168.7 L831.7,1168.6 L832.2,1168.5 L832.7,1168.4 L833.2,1168.3 L833.7,1168.2 L834.2,1168.1 L834.7,1168.0 L835.2,1167.9 L835.7,1167.8 L836.2,1167.7 L836.7,1167.6 L837.2,1167.5 L837.7,1167.4 L838.2,1167.3 L838.7,1167.2 L839.2,1167.1 L839.7,1167.0 L839.7,1167.0 L840.2,1166.9 L840.7,1166.8 L841.2,1166.7 L841.7,1166.6 L842.2,1166.5 L842.7,1166.4 L843.2,1166.3 L843.7,1166.2 L844.2,1166.0 L844.7,1165.9 L845.2,1165.8 L845.7,1165.7 L846.2,1165.6 L846.7,1165.5 L847.2,1165.4 L847.7,1165.3 L848.2,1165.2 L848.7,1165.2 L849.2,1165.1 L849.7,1165.1 L849.7,1165.0 L850.2,1165.0 L850.7,1164.9 L851.2,1164.9 L851.7,1164.9 L852.2,1164.8 L852.7,1164.8 L853.2,1164.7 L853.7,1164.7 L854.2,1164.7 L854.7,1164.6 L855.2,1164.6 L855.7,1164.6 L856.2,1164.6 L856.7,1164.6 L857.2,1164.6 L857.2,1164.6 L857.7,1164.6 L858.2,1164.6 L858.7,1164.7 L859.2,1164.8 L859.7,1164.9 L860.2,1165.0 L860.7,1165.1 L861.2,1165.3 L861.7,1165.4 L862.2,1165.6 L862.7,1165.7 L863.2,1165.9 L863.7,1166.0 L864.2,1166.2 L864.6,1166.3 L864.7,1166.3 L865.2,1166.5 L865.7,1166.6 L866.2,1166.8 L866.7,1166.9 L867.2,1167.1 L867.7,1167.3 L868.2,1167.5 L868.7,1167.7 L869.2,1167.8 L869.7,1168.0 L870.2,1168.2 L870.7,1168.4 L871.2,1168.6 L871.7,1168.7 L872.2,1168.9 L872.7,1169.0 L873.2,1169.2 L873.7,1169.3 L874.2,1169.5 L874.6,1169.5 L874.7,1169.6 L875.2,1169.7 L875.7,1169.8 L876.2,1169.9 L876.7,1170.0 L877.2,1170.2 L877.7,1170.3 L878.2,1170.4 L878.7,1170.5 L879.2,1170.6 L879.7,1170.7 L880.2,1170.8 L880.7,1170.9 L881.2,1171.0 L881.7,1171.1 L882.2,1171.1 L882.7,1171.2 L883.2,1171.2 L883.7,1171.3 L884.2,1171.3 L884.6,1171.3 L884.7,1171.3 L885.2,1171.3 L885.7,1171.3 L886.2,1171.3 L886.7,1171.3 L887.2,1171.3 L887.7,1171.3 L888.2,1171.3 L888.7,1171.3 L889.2,1171.3 L889.7,1171.3 L890.2,1171.3 L890.7,1171.3 L891.2,1171.3 L891.7,1171.3 L892.2,1171.3 L892.7,1171.3 L893.2,1171.4 L893.7,1171.4 L894.2,1171.4 L894.7,1171.4 L895.2,1171.4 L895.7,1171.4 L896.2,1171.4 L896.7,1171.4 L897.2,1171.4 L897.7,1171.4 L898.2,1171.4 L898.7,1171.4 L899.2,1171.4 L899.7,1171.4 L900.0,1171.4 L900.3,1171.4 L900.8,1171.4 L901.3,1171.4 L901.8,1171.4 L902.3,1171.4 L902.8,1171.4 L903.3,1171.4 L903.8,1171.4 L904.3,1171.4 L904.8,1171.4 L905.3,1171.4 L905.8,1171.4 L906.3,1171.4 L906.8,1171.4 L907.3,1171.4 L907.8,1171.4 L908.3,1171.4 L908.8,1171.4 L909.3,1171.4 L909.8,1171.4 L910.3,1171.4 L910.8,1171.4 L911.3,1171.4 L911.8,1171.4 L912.3,1171.4 L912.8,1171.4 L913.3,1171.4 L913.8,1171.4 L914.3,1171.4 L914.8,1171.4 L915.3,1171.4 L915.8,1171.4 L916.3,1171.4 L916.8,1171.4 L917.3,1171.4 L917.8,1171.4 L918.3,1171.4 L918.8,1171.4 L919.3,1171.4 L919.8,1171.4 L920.3,1171.4 L920.8,1171.4 L921.3,1171.4 L921.8,1171.4 L922.3,1171.4 L922.8,1171.4 L923.3,1171.4 L923.8,1171.4 L924.3,1171.4 L924.8,1171.4 L925.3,1171.4 L925.3,1171.4 L925.8,1171.4 L926.3,1171.4 L926.8,1171.3 L927.3,1171.3 L927.8,1171.3 L928.3,1171.2 L928.8,1171.2 L929.3,1171.2 L929.8,1171.1 L930.3,1171.1 L930.8,1171.0 L931.3,1170.9 L931.8,1170.8 L932.3,1170.8 L932.8,1170.7 L933.3,1170.6 L933.8,1170.5 L934.3,1170.4 L934.8,1170.3 L935.3,1170.2 L935.8,1170.1 L936.3,1170.0 L936.8,1169.9 L937.3,1169.8 L937.8,1169.7 L938.3,1169.6 L938.8,1169.5 L939.0,1169.4 L939.3,1169.3 L939.8,1169.2 L940.3,1169.1 L940.8,1168.9 L941.3,1168.7 L941.8,1168.5 L942.3,1168.3 L942.8,1168.0 L943.3,1167.8 L943.8,1167.5 L944.3,1167.2 L944.8,1166.9 L945.3,1166.6 L945.8,1166.2 L946.3,1165.9 L946.8,1165.5 L946.8,1165.5 L947.3,1165.1 L947.8,1164.6 L948.3,1164.1 L948.8,1163.6 L949.3,1162.9 L949.8,1162.3 L950.3,1161.6 L950.8,1160.8 L951.3,1160.0 L951.8,1159.2 L952.3,1158.3 L952.6,1157.7 L952.8,1157.4 L953.3,1156.5 L953.8,1155.4 L954.3,1154.3 L954.8,1153.0 L955.3,1151.7 L955.8,1150.3 L956.3,1148.9 L956.8,1147.3 L957.3,1145.7 L957.5,1145.1 L957.8,1144.1 L958.3,1142.2 L958.8,1140.2 L959.3,1138.0 L959.8,1135.7 L960.3,1133.2 L960.8,1130.7 L961.3,1128.1 L961.4,1127.5 L961.8,1125.3 L962.3,1122.3 L962.8,1119.2 L963.3,1115.8 L963.8,1112.4 L964.3,1109.0 L964.7,1106.1 L964.8,1105.5 L965.3,1102.0 L965.8,1098.5 L966.3,1094.8 L966.8,1091.1 L967.3,1087.3 L967.6,1084.7 L967.8,1083.4 L968.3,1079.3 L968.8,1075.0 L969.3,1070.7 L969.8,1066.4 L970.1,1063.2 L970.3,1062.1 L970.8,1057.8 L971.3,1053.6 L971.8,1049.3 L972.3,1045.1 L972.7,1041.8 L972.8,1041.0 L973.3,1036.9 L973.8,1032.9 L974.3,1029.0 L974.8,1025.1 L975.3,1021.3 L975.4,1020.4 L975.8,1017.6 L976.3,1013.9 L976.8,1010.3 L977.3,1006.9 L977.8,1003.8 L977.9,1002.9 L978.3,1000.9 L978.8,998.1 L979.3,995.5 L979.8,993.1 L980.3,991.0 L980.8,989.4 L980.8,989.2 L981.3,988.2 L981.8,987.0 L982.3,985.9 L982.8,985.0 L983.3,984.1 L983.8,983.5 L984.3,983.1 L984.7,983.0 L984.8,983.0 L985.3,983.2 L985.8,983.6 L986.3,984.3 L986.8,985.1 L987.3,986.1 L987.8,987.2 L988.3,988.4 L988.6,989.2 L988.8,989.5 L989.3,991.0 L989.8,992.8 L990.3,994.9 L990.8,997.1 L991.3,999.5 L991.8,1002.0 L991.9,1002.9 L992.3,1004.5 L992.8,1007.2 L993.3,1010.1 L993.8,1013.2 L994.3,1016.4 L994.8,1019.7 L994.9,1020.4 L995.3,1023.1 L995.8,1026.7 L996.3,1030.4 L996.8,1034.2 L997.3,1038.0 L997.8,1041.7 L997.8,1041.8 L998.3,1045.2 L998.8,1048.7 L999.3,1052.1 L999.8,1055.6 L1000.3,1059.0 L1000.8,1062.3 L1000.9,1063.2 L1001.3,1065.6 L1001.8,1068.9 L1002.3,1072.1 L1002.8,1075.4 L1003.3,1078.6 L1003.8,1081.8 L1004.2,1084.7 L1004.3,1085.0 L1004.8,1088.3 L1005.3,1091.7 L1005.8,1095.0 L1006.3,1098.3 L1006.8,1101.5 L1007.3,1104.6 L1007.5,1106.1 L1007.8,1107.4 L1008.3,1110.2 L1008.8,1112.9 L1009.3,1115.5 L1009.8,1118.0 L1010.3,1120.5 L1010.8,1122.8 L1011.3,1124.9 L1011.4,1125.6 L1011.8,1127.0 L1012.3,1129.0 L1012.8,1130.9 L1013.3,1132.7 L1013.8,1134.5 L1014.3,1136.2 L1014.8,1137.8 L1015.3,1139.3 L1015.8,1140.8 L1015.9,1141.2 L1016.3,1142.2 L1016.8,1143.6 L1017.3,1144.9 L1017.8,1146.2 L1018.3,1147.5 L1018.8,1148.7 L1019.3,1149.9 L1019.8,1151.0 L1020.3,1152.0 L1020.8,1153.0 L1021.3,1154.0 L1021.8,1154.8 L1021.8,1154.8 L1022.3,1155.7 L1022.8,1156.5 L1023.3,1157.2 L1023.8,1158.0 L1024.3,1158.7 L1024.8,1159.3 L1025.3,1160.0 L1025.8,1160.6 L1026.3,1161.2 L1026.8,1161.8 L1027.3,1162.3 L1027.8,1162.8 L1028.3,1163.3 L1028.6,1163.6 L1028.8,1163.8 L1029.3,1164.2 L1029.8,1164.6 L1030.3,1165.1 L1030.8,1165.5 L1031.3,1165.9 L1031.8,1166.3 L1032.3,1166.7 L1032.8,1167.0 L1033.3,1167.4 L1033.8,1167.7 L1034.3,1168.0 L1034.8,1168.2 L1035.3,1168.4 L1035.8,1168.6 L1036.3,1168.8 L1036.4,1168.8 L1036.8,1168.9 L1037.3,1169.1 L1037.8,1169.2 L1038.3,1169.3 L1038.8,1169.4 L1039.3,1169.6 L1039.8,1169.7 L1040.3,1169.8 L1040.8,1169.9 L1041.3,1170.0 L1041.8,1170.0 L1042.3,1170.1 L1042.8,1170.2 L1043.3,1170.3 L1043.8,1170.4 L1044.3,1170.4 L1044.8,1170.5 L1045.3,1170.5 L1045.8,1170.6 L1046.3,1170.6 L1046.8,1170.7 L1047.3,1170.7 L1047.8,1170.8 L1048.1,1170.8 L1048.3,1170.8 L1048.8,1170.8 L1049.3,1170.9 L1049.8,1170.9 L1050.3,1170.9 L1050.8,1170.9 L1051.3,1171.0 L1051.8,1171.0 L1052.3,1171.0 L1052.8,1171.1 L1053.3,1171.1 L1053.8,1171.1 L1054.3,1171.1 L1054.8,1171.1 L1055.3,1171.2 L1055.8,1171.2 L1056.3,1171.2 L1056.8,1171.2 L1057.3,1171.2 L1057.8,1171.3 L1058.3,1171.3 L1058.8,1171.3 L1059.3,1171.3 L1059.8,1171.3 L1060.3,1171.3 L1060.8,1171.3 L1061.3,1171.3 L1061.8,1171.4 L1062.3,1171.4 L1062.8,1171.4 L1063.3,1171.4 L1063.6,1171.4 L1063.8,1171.4 L1064.3,1171.4 L1064.8,1171.4 L1065.3,1171.4 L1065.8,1171.3 L1066.3,1171.3 L1066.8,1171.3 L1067.3,1171.3 L1067.8,1171.3 L1068.3,1171.3 L1068.8,1171.2 L1069.3,1171.2 L1069.8,1171.2 L1070.3,1171.2 L1070.8,1171.1 L1071.3,1171.1 L1071.8,1171.1 L1072.3,1171.1 L1072.8,1171.0 L1073.3,1171.0 L1073.8,1171.0 L1074.3,1170.9 L1074.8,1170.9 L1075.3,1170.8 L1075.8,1170.8 L1076.3,1170.7 L1076.8,1170.7 L1077.3,1170.7 L1077.8,1170.6 L1078.3,1170.6 L1078.8,1170.5 L1079.3,1170.5 L1079.8,1170.4 L1080.0,1170.4 L1080.3,1170.4 L1080.8,1170.3 L1081.3,1170.2 L1081.8,1170.1 L1082.3,1170.0 L1082.8,1169.8 L1083.3,1169.7 L1083.8,1169.5 L1084.3,1169.3 L1084.8,1169.2 L1085.3,1169.0 L1085.8,1168.8 L1086.3,1168.6 L1086.8,1168.4 L1087.3,1168.2 L1087.8,1168.0 L1088.3,1167.8 L1088.8,1167.6 L1089.3,1167.4 L1089.8,1167.2 L1090.3,1167.0 L1090.8,1166.9 L1091.3,1166.7 L1091.8,1166.6 L1092.3,1166.4 L1092.8,1166.3 L1092.8,1166.3 L1093.3,1166.2 L1093.8,1166.1 L1094.3,1166.0 L1094.8,1165.9 L1095.3,1165.7 L1095.8,1165.6 L1096.3,1165.5 L1096.8,1165.4 L1097.3,1165.3 L1097.8,1165.2 L1098.3,1165.1 L1098.8,1165.0 L1099.3,1164.9 L1099.8,1164.7 L1100.3,1164.6 L1100.8,1164.6 L1101.3,1164.5 L1101.8,1164.4 L1102.3,1164.3 L1102.8,1164.2 L1103.3,1164.1 L1103.8,1164.1 L1104.3,1164.0 L1104.8,1164.0 L1105.3,1163.9 L1105.8,1163.9 L1106.3,1163.8 L1106.8,1163.8 L1107.3,1163.8 L1107.8,1163.8 L1107.8,1163.8 L1108.3,1163.8 L1108.8,1163.8 L1109.3,1163.8 L1109.8,1163.8 L1110.3,1163.9 L1110.8,1163.9 L1111.3,1163.9 L1111.8,1164.0 L1112.3,1164.0 L1112.8,1164.0 L1113.3,1164.1 L1113.8,1164.1 L1114.3,1164.2 L1114.8,1164.2 L1115.3,1164.3 L1115.8,1164.3 L1116.3,1164.4 L1116.8,1164.4 L1117.3,1164.5 L1117.8,1164.5 L1118.3,1164.6 L1118.8,1164.6 L1119.3,1164.7 L1119.8,1164.7 L1120.3,1164.8 L1120.8,1164.9 L1121.3,1164.9 L1121.8,1165.0 L1122.3,1165.0 L1122.8,1165.1 L1122.8,1165.1 L1123.3,1165.1 L1123.8,1165.2 L1124.3,1165.2 L1124.8,1165.3 L1125.3,1165.3 L1125.8,1165.4 L1126.3,1165.4 L1126.8,1165.5 L1127.3,1165.5 L1127.8,1165.6 L1128.3,1165.6 L1128.8,1165.7 L1129.3,1165.7 L1129.8,1165.8 L1130.3,1165.8 L1130.8,1165.9 L1131.3,1166.0 L1131.8,1166.0 L1132.3,1166.1 L1132.8,1166.1 L1133.3,1166.2 L1133.8,1166.3 L1134.3,1166.3 L1134.8,1166.4 L1135.3,1166.4 L1135.8,1166.5 L1136.3,1166.6 L1136.8,1166.6 L1137.3,1166.7 L1137.8,1166.7 L1138.3,1166.8 L1138.8,1166.9 L1139.3,1166.9 L1139.8,1167.0 L1140.2,1167.0 L1140.3,1167.1 L1140.8,1167.1 L1141.3,1167.2 L1141.8,1167.3 L1142.3,1167.3 L1142.8,1167.4 L1143.3,1167.5 L1143.8,1167.6 L1144.3,1167.7 L1144.8,1167.8 L1145.3,1167.9 L1145.8,1168.0 L1146.3,1168.1 L1146.8,1168.2 L1147.3,1168.3 L1147.8,1168.4 L1148.3,1168.4 L1148.8,1168.5 L1149.3,1168.6 L1149.8,1168.7 L1150.3,1168.8 L1150.8,1168.9 L1151.3,1169.0 L1151.8,1169.0 L1152.3,1169.1 L1152.8,1169.2 L1153.3,1169.3 L1153.8,1169.3 L1154.3,1169.4 L1154.8,1169.4 L1155.3,1169.5 L1155.8,1169.5 L1156.3,1169.5 L1156.8,1169.5 L1157.3,1169.5 L1157.7,1169.5 L1157.8,1169.5 L1158.3,1169.5 L1158.8,1169.5 L1159.3,1169.5 L1159.8,1169.5 L1160.3,1169.5 L1160.8,1169.5 L1161.3,1169.5 L1161.8,1169.5 L1162.3,1169.5 L1162.8,1169.5 L1163.3,1169.5 L1163.8,1169.5 L1164.3,1169.5 L1164.8,1169.5 L1165.3,1169.5 L1165.8,1169.5 L1166.3,1169.5 L1166.8,1169.5 L1167.3,1169.5 L1167.8,1169.5 L1168.3,1169.5 L1168.8,1169.5 L1169.3,1169.5 L1169.8,1169.5 L1170.3,1169.5 L1170.8,1169.5 L1171.3,1169.5 L1171.8,1169.5 L1172.3,1169.5 L1172.8,1169.5 L1173.3,1169.5 L1173.8,1169.5 L1174.3,1169.5 L1174.8,1169.5 L1175.3,1169.5 L1175.8,1169.5 L1176.3,1169.5 L1176.8,1169.5 L1177.3,1169.5 L1177.8,1169.5 L1178.3,1169.5 L1178.8,1169.5 L1179.3,1169.5 L1179.8,1169.5 L1180.3,1169.5 L1180.8,1169.5 L1181.3,1169.5 L1181.8,1169.5 L1182.3,1169.5 L1182.8,1169.5 L1183.3,1169.5 L1183.8,1169.5 L1184.3,1169.5 L1184.8,1169.5 L1185.1,1169.5 L1185.3,1169.5 L1185.8,1169.5 L1186.3,1169.5 L1186.8,1169.5 L1187.3,1169.5 L1187.8,1169.5 L1188.3,1169.5 L1188.8,1169.5 L1189.3,1169.5 L1189.8,1169.5 L1190.3,1169.5 L1190.8,1169.5 L1191.3,1169.5 L1191.8,1169.5 L1192.3,1169.5 L1192.8,1169.5 L1193.3,1169.5 L1193.8,1169.5 L1194.3,1169.5 L1194.8,1169.5 L1195.3,1169.5 L1195.8,1169.5 L1196.3,1169.5 L1196.8,1169.5 L1197.3,1169.5 L1197.8,1169.5 L1198.3,1169.5 L1198.8,1169.5 L1199.3,1169.5 L1199.8,1169.5 L1200.3,1169.5 L1200.8,1169.5 L1201.3,1169.5 L1201.8,1169.5 L1202.3,1169.5 L1202.8,1169.5 L1203.3,1169.5 L1203.8,1169.5 L1204.3,1169.5 L1204.8,1169.5 L1205.3,1169.5 L1205.8,1169.5 L1206.3,1169.5 L1206.8,1169.5 L1207.3,1169.5 L1207.8,1169.5 L1208.3,1169.5 L1208.8,1169.5 L1209.3,1169.5 L1209.8,1169.5 L1210.3,1169.5 L1210.8,1169.5 L1211.3,1169.5 L1211.8,1169.5 L1212.3,1169.5 L1212.8,1169.5 L1213.3,1169.5 L1213.8,1169.5 L1214.3,1169.5 L1214.8,1169.5 L1215.3,1169.5 L1215.8,1169.5 L1216.3,1169.5 L1216.8,1169.5 L1217.3,1169.5 L1217.8,1169.5 L1218.3,1169.5 L1218.8,1169.5 L1219.3,1169.5 L1219.8,1169.5 L1220.3,1169.5 L1220.8,1169.5 L1221.3,1169.5"/>
<line x1="2" y1="1192.4" x2="507" y2="1192.4" stroke="#000" stroke-width="3"/>
<line x1="16.5" y1="1192.4" x2="16.5" y2="1198.4" stroke="#000" stroke-width="3"/>
<line x1="36.2" y1="1192.4" x2="36.2" y2="1198.4" stroke="#000" stroke-width="3"/>
<line x1="55.9" y1="1192.4" x2="55.9" y2="1202.9" stroke="#000" stroke-width="3"/>
<line x1="75.6" y1="1192.4" x2="75.6" y2="1198.4" stroke="#000" stroke-width="3"/>
<line x1="95.3" y1="1192.4" x2="95.3" y2="1198.4" stroke="#000" stroke-width="3"/>
<line x1="115.1" y1="1192.4" x2="115.1" y2="1198.4" stroke="#000" stroke-width="3"/>
<line x1="134.8" y1="1192.4" x2="134.8" y2="1198.4" stroke="#000" stroke-width="3"/>
<line x1="154.5" y1="1192.4" x2="154.5" y2="1202.9" stroke="#000" stroke-width="3"/>
<line x1="174.2" y1="1192.4" x2="174.2" y2="1198.4" stroke="#000" stroke-width="3"/>
<line x1="193.9" y1="1192.4" x2="193.9" y2="1198.4" stroke="#000" stroke-width="3"/>
<line x1="213.7" y1="1192.4" x2="213.7" y2="1198.4" stroke="#000" stroke-width="3"/>
<line x1="233.4" y1="1192.4" x2="233.4" y2="1198.4" stroke="#000" stroke-width="3"/>
<line x1="253.1" y1="1192.4" x2="253.1" y2="1202.9" stroke="#000" stroke-width="3"/>
<line x1="272.8" y1="1192.4" x2="272.8" y2="1198.4" stroke="#000" stroke-width="3"/>
<line x1="292.5" y1="1192.4" x2="292.5" y2="1198.4" stroke="#000" stroke-width="3"/>
<line x1="312.3" y1="1192.4" x2="312.3" y2="1198.4" stroke="#000" stroke-width="3"/>
<line x1="332.0" y1="1192.4" x2="332.0" y2="1198.4" stroke="#000" stroke-width="3"/>
<line x1="351.7" y1="1192.4" x2="351.7" y2="1202.9" stroke="#000" stroke-width="3"/>
<line x1="371.4" y1="1192.4" x2="371.4" y2="1198.4" stroke="#000" stroke-width="3"/>
<line x1="391.1" y1="1192.4" x2="391.1" y2="1198.4" stroke="#000" stroke-width="3"/>
<line x1="410.9" y1="1192.4" x2="410.9" y2="1198.4" stroke="#000" stroke-width="3"/>
<line x1="430.6" y1="1192.4" x2="430.6" y2="1198.4" stroke="#000" stroke-width="3"/>
<line x1="450.3" y1="1192.4" x2="450.3" y2="1202.9" stroke="#000" stroke-width="3"/>
<line x1="470.0" y1="1192.4" x2="470.0" y2="1198.4" stroke="#000" stroke-width="3"/>
<line x1="489.7" y1="1192.4" x2="489.7" y2="1198.4" stroke="#000" stroke-width="3"/>
<line x1="714.5" y1="1193.7" x2="1221.5" y2="1193.7" stroke="#000" stroke-width="3.4"/>
<line x1="716.6" y1="1193.7" x2="716.6" y2="1205.2" stroke="#000" stroke-width="3"/>
<line x1="740.4" y1="1193.7" x2="740.4" y2="1199.7" stroke="#000" stroke-width="3"/>
<line x1="764.3" y1="1193.7" x2="764.3" y2="1199.7" stroke="#000" stroke-width="3"/>
<line x1="788.1" y1="1193.7" x2="788.1" y2="1199.7" stroke="#000" stroke-width="3"/>
<line x1="811.9" y1="1193.7" x2="811.9" y2="1199.7" stroke="#000" stroke-width="3"/>
<line x1="835.8" y1="1193.7" x2="835.8" y2="1205.2" stroke="#000" stroke-width="3"/>
<line x1="859.6" y1="1193.7" x2="859.6" y2="1199.7" stroke="#000" stroke-width="3"/>
<line x1="883.4" y1="1193.7" x2="883.4" y2="1199.7" stroke="#000" stroke-width="3"/>
<line x1="907.2" y1="1193.7" x2="907.2" y2="1199.7" stroke="#000" stroke-width="3"/>
<line x1="931.1" y1="1193.7" x2="931.1" y2="1199.7" stroke="#000" stroke-width="3"/>
<line x1="954.9" y1="1193.7" x2="954.9" y2="1205.2" stroke="#000" stroke-width="3"/>
<line x1="978.7" y1="1193.7" x2="978.7" y2="1199.7" stroke="#000" stroke-width="3"/>
<line x1="1002.6" y1="1193.7" x2="1002.6" y2="1199.7" stroke="#000" stroke-width="3"/>
<line x1="1026.4" y1="1193.7" x2="1026.4" y2="1199.7" stroke="#000" stroke-width="3"/>
<line x1="1050.2" y1="1193.7" x2="1050.2" y2="1199.7" stroke="#000" stroke-width="3"/>
<line x1="1074.0" y1="1193.7" x2="1074.0" y2="1205.2" stroke="#000" stroke-width="3"/>
<line x1="1097.9" y1="1193.7" x2="1097.9" y2="1199.7" stroke="#000" stroke-width="3"/>
<line x1="1121.7" y1="1193.7" x2="1121.7" y2="1199.7" stroke="#000" stroke-width="3"/>
<line x1="1145.5" y1="1193.7" x2="1145.5" y2="1199.7" stroke="#000" stroke-width="3"/>
<line x1="1169.4" y1="1193.7" x2="1169.4" y2="1199.7" stroke="#000" stroke-width="3"/>
<line x1="1193.2" y1="1193.7" x2="1193.2" y2="1205.2" stroke="#000" stroke-width="3"/>
<line x1="1217.0" y1="1193.7" x2="1217.0" y2="1199.7" stroke="#000" stroke-width="3"/>
<text transform="translate(0.77,41.19) scale(1.0000,1)" letter-spacing="1.549" font-size="40.54" font-weight="bold">(a)</text>
<text transform="translate(709.98,40.79) scale(1.0000,1)" letter-spacing="1.348" font-size="42.47" font-weight="bold">(b)</text>
<text class="t" transform="translate(166.69,25.54) scale(1.0000,1)" letter-spacing="0.878" font-size="30.81" stroke-width="0.70">37.6</text>
<text class="t" transform="translate(217.26,236.06) scale(1.0000,1)" letter-spacing="1.584" font-size="29.26" stroke-width="0.70">10.2</text>
<text class="t" transform="translate(166.41,728.15) scale(1.0000,1)" letter-spacing="1.108" font-size="30.39" stroke-width="0.70">38.8</text>
<text class="t" transform="translate(153.99,985.66) scale(1.0000,1)" letter-spacing="1.617" font-size="29.40" stroke-width="0.70">40.2</text>
<text class="t" transform="translate(199.94,1084.85) scale(1.0000,1)" letter-spacing="1.390" font-size="30.25" stroke-width="0.70">6.7</text>
<text class="t" transform="translate(148.19,1157.95) scale(1.0000,1)" letter-spacing="1.346" font-size="29.54" stroke-width="0.70">41.9</text>
<text class="t" transform="translate(342.56,743.16) scale(1.0000,1)" letter-spacing="0.126" font-size="29.26" stroke-width="0.70">13.1</text>
<text class="t" transform="translate(322.75,896.05) scale(1.0000,1)" letter-spacing="0.573" font-size="30.39" stroke-width="0.70">7.3</text>
<text class="t" transform="translate(308.34,1052.95) scale(1.0000,1)" letter-spacing="0.627" font-size="30.25" stroke-width="0.70">6.6</text>
<text class="t" transform="translate(515.31,260.86) scale(1.0000,1)" letter-spacing="1.096" font-size="29.25" stroke-width="1.30">720 min</text>
<text class="t" transform="translate(514.15,372.05) scale(1.0000,1)" letter-spacing="0.915" font-size="30.07" stroke-width="1.30">240 min</text>
<text class="t" transform="translate(514.94,530.24) scale(1.0000,1)" letter-spacing="0.070" font-size="30.75" stroke-width="1.30">180 min</text>
<text class="t" transform="translate(515.59,684.45) scale(1.0000,1)" letter-spacing="0.590" font-size="30.07" stroke-width="1.30">150 min</text>
<text class="t" transform="translate(506.28,883.35) scale(1.0000,1)" letter-spacing="0.596" font-size="30.20" stroke-width="1.30">120 min</text>
<text class="t" transform="translate(509.80,1036.06) scale(1.0000,1)" letter-spacing="1.419" font-size="28.98" stroke-width="1.30">60 min</text>
<text class="t" transform="translate(27.35,1236.21) scale(1.0500,1)" letter-spacing="-0.085" font-size="34.35" stroke-width="0.88">100</text>
<text class="t" transform="translate(136.74,1236.21) scale(0.9559,1)" font-size="34.35" stroke-width="0.92">50</text>
<text class="t" transform="translate(244.23,1236.61) scale(0.9573,1)" font-size="34.35" stroke-width="0.92">0</text>
<text class="t" transform="translate(333.33,1236.21) scale(1.0500,1)" letter-spacing="0.316" font-size="34.35" stroke-width="0.88">-50</text>
<text class="t" transform="translate(429.43,1236.21) scale(1.0500,1)" letter-spacing="0.174" font-size="34.35" stroke-width="0.88">-100</text>
<text class="t" transform="translate(1044.30,24.96) scale(1.0000,1)" letter-spacing="0.656" font-size="28.98" stroke-width="0.70">29.1</text>
<text class="t" transform="translate(896.79,623.16) scale(1.0000,1)" letter-spacing="1.484" font-size="29.26" stroke-width="0.70">22.0</text>
<text class="t" transform="translate(867.36,743.56) scale(1.0000,1)" letter-spacing="1.344" font-size="29.26" stroke-width="0.70">12.3</text>
<text class="t" transform="translate(1051.43,767.35) scale(1.0000,1)" letter-spacing="1.394" font-size="30.39" stroke-width="0.70">28.9</text>
<text class="t" transform="translate(964.50,980.15) scale(1.0000,1)" letter-spacing="-0.092" font-size="31.27" stroke-width="0.70">11.4</text>
<text class="t" transform="translate(1228.30,266.65) scale(1.0000,1)" letter-spacing="0.990" font-size="29.52" stroke-width="1.30">720 min</text>
<text class="t" transform="translate(1226.83,385.27) scale(1.0000,1)" letter-spacing="1.602" font-size="28.44" stroke-width="1.30">240 min</text>
<text class="t" transform="translate(1227.62,531.97) scale(1.0000,1)" letter-spacing="1.354" font-size="28.44" stroke-width="1.30">180 min</text>
<text class="t" transform="translate(1228.49,680.95) scale(1.0000,1)" letter-spacing="0.507" font-size="30.07" stroke-width="1.30">150 min</text>
<text class="t" transform="translate(1229.37,867.86) scale(1.0000,1)" letter-spacing="1.200" font-size="29.12" stroke-width="1.30">120 min</text>
<text class="t" transform="translate(1233.84,1043.17) scale(1.0000,1)" letter-spacing="1.631" font-size="28.30" stroke-width="1.30">60 min</text>
<text class="t" transform="translate(689.39,1242.61) scale(1.0335,1)" font-size="34.35" stroke-width="0.89">100</text>
<text class="t" transform="translate(817.05,1242.61) scale(1.0180,1)" font-size="34.35" stroke-width="0.89">50</text>
<text class="t" transform="translate(946.79,1242.61) scale(0.9878,1)" font-size="34.35" stroke-width="0.91">0</text>
<text class="t" transform="translate(1047.67,1241.22) scale(1.0500,1)" letter-spacing="0.371" font-size="33.36" stroke-width="0.88">-50</text>
<text class="t" transform="translate(1156.15,1240.41) scale(1.0500,1)" letter-spacing="0.535" font-size="33.78" stroke-width="0.88">-100</text>
<text class="t" transform="translate(516.21,1167.20) scale(1.0000,1)" letter-spacing="1.054" font-size="30.28" stroke-width="1.30">initial gel</text>
<text class="t" transform="translate(1233.24,1180.00) scale(1.0000,1)" letter-spacing="1.141" font-size="29.72" stroke-width="1.30">initial gel</text>
<text class="t" transform="translate(221.71,1273.00) scale(1.1200,1)" letter-spacing="1.823" font-size="33.46" stroke-width="0.85">ppm</text>
<text class="t" transform="translate(937.44,1275.20) scale(1.1200,1)" letter-spacing="1.944" font-size="33.08" stroke-width="0.85">ppm</text>
<text transform="translate(322.19,739.45) scale(1.1770,0.9)" font-size="24.0" fill="#222">−</text>
<text transform="translate(304.49,893.75) scale(1.0911,1.05)" font-size="24.0" fill="#000">−</text>
<text transform="translate(291.11,1049.85) scale(1.0739,0.95)" font-size="24.0" fill="#111">−</text>
<text transform="translate(1026.66,20.96) scale(1.1168,0.75)" font-size="24.0" fill="#111">−</text>
<text transform="translate(879.65,618.66) scale(0.9622,0.8)" font-size="24.0" fill="#555">−</text>
<text transform="translate(848.43,740.85) scale(1.0567,0.95)" font-size="24.0" fill="#111">−</text>
<text transform="translate(1035.51,761.87) scale(0.9880,0.65)" font-size="24.0" fill="#777">−</text>
<text transform="translate(945.96,975.46) scale(1.0309,0.75)" font-size="24.0" fill="#222">−</text>
<text class="t" stroke-width="0.9" transform="translate(868.01,250.59) scale(0.9859,1)" font-size="36.86">*</text>
<text class="t" stroke-width="0.9" transform="translate(1170.01,245.09) scale(0.9859,1)" font-size="36.86">*</text>
<text class="t" stroke-width="0.9" transform="translate(868.81,377.59) scale(0.9859,1)" font-size="36.86">*</text>
<text class="t" stroke-width="0.9" transform="translate(1171.11,375.89) scale(0.9859,1)" font-size="36.86">*</text>
<text class="t" stroke-width="0.9" transform="translate(864.31,519.29) scale(0.9859,1)" font-size="36.86">*</text>
<text class="t" stroke-width="0.9" transform="translate(1170.31,524.29) scale(0.9859,1)" font-size="36.86">*</text>
<text class="t" stroke-width="0.9" transform="translate(866.81,669.59) scale(0.9859,1)" font-size="36.86">*</text>
<text class="t" stroke-width="0.9" transform="translate(1174.81,664.09) scale(0.9859,1)" font-size="36.86">*</text>
<text class="t" stroke-width="0.9" transform="translate(851.81,864.59) scale(0.9859,1)" font-size="36.86">*</text>
<text class="t" stroke-width="0.9" transform="translate(1109.41,869.59) scale(0.9859,1)" font-size="36.86">*</text>
<text class="t" stroke-width="0.9" transform="translate(851.81,1010.59) scale(0.9859,1)" font-size="36.86">*</text>
<text class="t" stroke-width="0.9" transform="translate(1119.91,1005.09) scale(0.9859,1)" font-size="36.86">*</text>
<text class="t" stroke-width="0.9" transform="translate(850.01,1175.39) scale(0.9859,1)" font-size="36.86">*</text>
<text class="t" stroke-width="0.9" transform="translate(1109.91,1173.59) scale(0.9859,1)" font-size="36.86">*</text>
<line x1="280.6" y1="691.0" x2="328.3" y2="720.1" stroke="#000" stroke-width="1.7"/><polygon points="336.0,724.8 326.3,723.4 330.3,716.9" fill="#000"/>
<line x1="271.8" y1="828.7" x2="305.5" y2="864.0" stroke="#000" stroke-width="1.7"/><polygon points="311.7,870.5 302.7,866.6 308.2,861.4" fill="#000"/>
<line x1="273.5" y1="981.6" x2="309.9" y2="1014.6" stroke="#000" stroke-width="1.7"/><polygon points="316.6,1020.6 307.4,1017.4 312.5,1011.7" fill="#000"/>
<line x1="995.6" y1="576.1" x2="959.9" y2="595.1" stroke="#000" stroke-width="1.7"/><polygon points="952.0,599.3 958.2,591.7 961.7,598.4" fill="#000"/>
<line x1="975.6" y1="684.6" x2="927.8" y2="704.8" stroke="#000" stroke-width="1.7"/><polygon points="919.5,708.3 926.3,701.3 929.3,708.3" fill="#000"/>
</svg>
</body></html>
